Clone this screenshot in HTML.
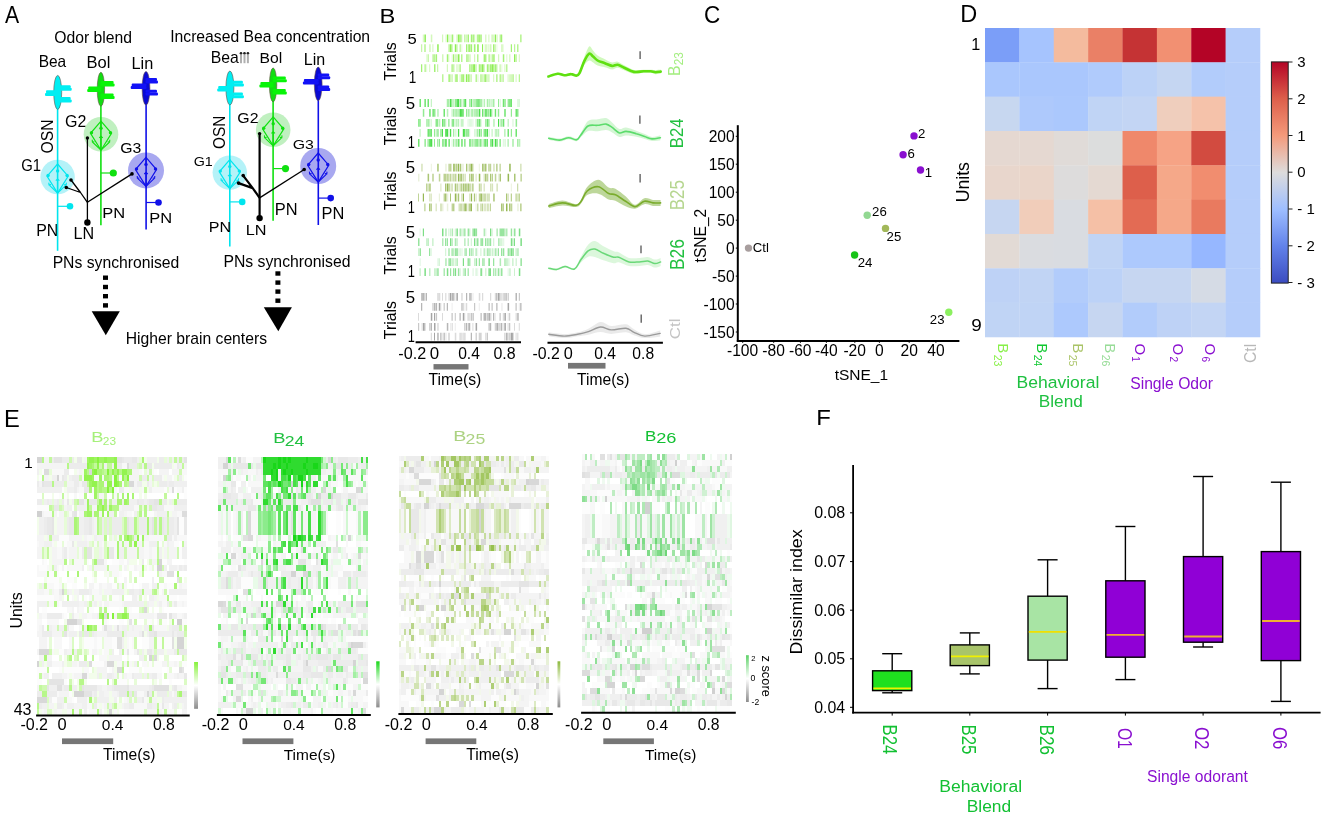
<!DOCTYPE html>
<html><head><meta charset="utf-8"><style>
html,body{margin:0;padding:0;background:#fff;width:1325px;height:820px;overflow:hidden}
svg{display:block;font-family:"Liberation Sans",sans-serif;will-change:transform}
</style></head><body>
<svg width="1325" height="820" viewBox="0 0 1325 820">
<rect width="1325" height="820" fill="#fff"/>
<text x="5.10" y="22.90" font-size="23.33" fill="#000" textLength="14.14" lengthAdjust="spacingAndGlyphs">A</text><text x="54.29" y="43.12" font-size="15.72" fill="#000">Odor blend</text><text x="38.66" y="66.84" font-size="15.86" fill="#000" textLength="27.53" lengthAdjust="spacingAndGlyphs">Bea</text><text x="86.48" y="67.94" font-size="15.65" fill="#000" textLength="23.90" lengthAdjust="spacingAndGlyphs">Bol</text><text x="131.50" y="69.20" font-size="16.14" fill="#000" textLength="21.76" lengthAdjust="spacingAndGlyphs">Lin</text><text transform="translate(53.33,153.51) rotate(-90)" font-size="17.32" fill="#000" textLength="34.10" lengthAdjust="spacingAndGlyphs">OSN</text><text x="65.00" y="126.84" font-size="16.34" fill="#000" textLength="21.39" lengthAdjust="spacingAndGlyphs">G2</text><text x="120.21" y="153.36" font-size="13.80" fill="#000" textLength="21.11" lengthAdjust="spacingAndGlyphs">G3</text><text x="21.26" y="170.54" font-size="15.63" fill="#000" textLength="19.79" lengthAdjust="spacingAndGlyphs">G1</text><text x="102.38" y="218.40" font-size="15.22" fill="#000" textLength="22.91" lengthAdjust="spacingAndGlyphs">PN</text><text x="149.28" y="223.00" font-size="15.51" fill="#000" textLength="22.91" lengthAdjust="spacingAndGlyphs">PN</text><text x="36.13" y="236.10" font-size="16.09" fill="#000" textLength="22.11" lengthAdjust="spacingAndGlyphs">PN</text><text x="73.61" y="239.30" font-size="16.52" fill="#000" textLength="20.64" lengthAdjust="spacingAndGlyphs">LN</text><text x="52.64" y="268.30" font-size="15.72" fill="#000">PNs synchronised</text><text x="125.74" y="344.30" font-size="15.69" fill="#000">Higher brain centers</text><circle cx="57.6" cy="177.0" r="17.2" fill="#b4f2f8"/><path d="M57.6,164.0 L47.1,176.2 L57.6,193.0 L68.1,176.2 Z" fill="none" stroke="#00e5ee" stroke-width="1.2"/><path d="M57.6,164.0 L57.6,171.0" stroke="#00e5ee" stroke-width="1.2"/><circle cx="57.6" cy="171.0" r="1.7" fill="#00e5ee"/><circle cx="48.1" cy="175.5" r="1.7" fill="#00e5ee"/><circle cx="67.1" cy="175.5" r="1.7" fill="#00e5ee"/><path d="M57.6,193.0 L57.6,179.0 M57.6,193.0 L49.0,184.8 M57.6,193.0 L66.2,184.8 M55.800000000000004,180.6 L57.6,179.0 L59.4,180.6 M48.8,182.6 L49.0,184.8 L51.0,184.6 M66.4,182.6 L66.2,184.8 L64.2,184.6" fill="none" stroke="#00e5ee" stroke-width="1.1"/><circle cx="101.0" cy="134.2" r="17.3" fill="#c0f0c0"/><path d="M101.0,121.19999999999999 L90.5,133.39999999999998 L101.0,150.2 L111.5,133.39999999999998 Z" fill="none" stroke="#10e010" stroke-width="1.2"/><path d="M101.0,121.19999999999999 L101.0,128.2" stroke="#10e010" stroke-width="1.2"/><circle cx="101.0" cy="128.2" r="1.7" fill="#10e010"/><circle cx="91.5" cy="132.7" r="1.7" fill="#10e010"/><circle cx="110.5" cy="132.7" r="1.7" fill="#10e010"/><path d="M101.0,150.2 L101.0,136.2 M101.0,150.2 L92.4,142.0 M101.0,150.2 L109.6,142.0 M99.2,137.79999999999998 L101.0,136.2 L102.8,137.79999999999998 M92.2,139.79999999999998 L92.4,142.0 L94.4,141.79999999999998 M109.8,139.79999999999998 L109.6,142.0 L107.6,141.79999999999998" fill="none" stroke="#10e010" stroke-width="1.1"/><circle cx="146.0" cy="170.4" r="18.0" fill="#a8a8f0"/><path d="M146.0,157.4 L135.5,169.6 L146.0,186.4 L156.5,169.6 Z" fill="none" stroke="#1010e8" stroke-width="1.2"/><path d="M146.0,157.4 L146.0,164.4" stroke="#1010e8" stroke-width="1.2"/><circle cx="146.0" cy="164.4" r="1.7" fill="#1010e8"/><circle cx="136.5" cy="168.9" r="1.7" fill="#1010e8"/><circle cx="155.5" cy="168.9" r="1.7" fill="#1010e8"/><path d="M146.0,186.4 L146.0,172.4 M146.0,186.4 L137.4,178.20000000000002 M146.0,186.4 L154.6,178.20000000000002 M144.2,174.0 L146.0,172.4 L147.8,174.0 M137.2,176.0 L137.4,178.20000000000002 L139.4,178.0 M154.8,176.0 L154.6,178.20000000000002 L152.6,178.0" fill="none" stroke="#1010e8" stroke-width="1.1"/><line x1="57.6" y1="105" x2="57.6" y2="250.8" stroke="#00e5ee" stroke-width="1.6"/><line x1="100.9" y1="104" x2="100.9" y2="225.2" stroke="#10e010" stroke-width="1.6"/><line x1="146.1" y1="103" x2="146.1" y2="229.4" stroke="#1010e8" stroke-width="1.6"/><line x1="57.6" y1="206.3" x2="70" y2="206.3" stroke="#00e5ee" stroke-width="1.2"/><circle cx="70" cy="206.3" r="3.3" fill="#00e5ee"/><line x1="100.9" y1="173" x2="113.3" y2="173" stroke="#10e010" stroke-width="1.2"/><circle cx="113.3" cy="173" r="3.6" fill="#10e010"/><line x1="146.1" y1="202.5" x2="158.5" y2="202.5" stroke="#1010e8" stroke-width="1.2"/><circle cx="158.5" cy="202.5" r="3.3" fill="#1010e8"/><ellipse cx="57.7" cy="92.4" rx="4" ry="17" fill="#00eef2" stroke="#6a5048" stroke-width="0.6"/><rect x="57.2" y="85.2" width="13.5" height="3" rx="1" fill="#00eef2"/><rect x="57.2" y="87.8" width="14.5" height="3" rx="1" fill="#00eef2"/><rect x="46.0" y="90.3" width="12.2" height="3" rx="1" fill="#00eef2"/><rect x="45.0" y="92.9" width="13.2" height="3" rx="1" fill="#00eef2"/><rect x="57.2" y="97.0" width="13.5" height="3" rx="1" fill="#00eef2"/><rect x="57.2" y="99.6" width="14.5" height="3" rx="1" fill="#00eef2"/><ellipse cx="100.9" cy="89.3" rx="3.7" ry="17" fill="#12dc12" stroke="#6a5048" stroke-width="0.6"/><rect x="100.4" y="81.0" width="13.2" height="3" rx="1" fill="#08f408"/><rect x="100.4" y="83.6" width="14.2" height="3" rx="1" fill="#08f408"/><rect x="88.2" y="86.4" width="13.2" height="3" rx="1" fill="#08f408"/><rect x="87.2" y="89.0" width="14.2" height="3" rx="1" fill="#08f408"/><rect x="100.4" y="93.4" width="13.2" height="3" rx="1" fill="#08f408"/><rect x="100.4" y="96.0" width="14.2" height="3" rx="1" fill="#08f408"/><ellipse cx="146.0" cy="88.3" rx="3.9" ry="16.8" fill="#0a0ad2" stroke="#6a5048" stroke-width="0.6"/><rect x="145.5" y="78.0" width="11.5" height="3" rx="1" fill="#1212f6"/><rect x="145.5" y="80.6" width="12.5" height="3" rx="1" fill="#1212f6"/><rect x="131.7" y="83.4" width="14.8" height="3" rx="1" fill="#1212f6"/><rect x="130.7" y="86.0" width="15.8" height="3" rx="1" fill="#1212f6"/><rect x="145.5" y="89.8" width="11.5" height="3" rx="1" fill="#1212f6"/><rect x="145.5" y="92.4" width="12.5" height="3" rx="1" fill="#1212f6"/><line x1="87.4" y1="138" x2="87.4" y2="222.8" stroke="#000" stroke-width="1.3"/><circle cx="87.4" cy="138" r="1.7" fill="#000"/><circle cx="87.4" cy="222.5" r="3.2" fill="#000"/><path d="M87.4,202.3 L80.5,192.5 L71,180 M80.5,192.5 L66.3,187.5" fill="none" stroke="#000" stroke-width="1.3" stroke-linejoin="round"/><line x1="87.4" y1="202.3" x2="132" y2="173.9" stroke="#000" stroke-width="1.3"/><circle cx="71" cy="180" r="1.8" fill="#000"/><circle cx="66.3" cy="187.5" r="1.8" fill="#000"/><circle cx="132" cy="173.9" r="1.8" fill="#000"/><g transform="translate(172.2,-4.4)"><circle cx="57.6" cy="177.0" r="17.2" fill="#b4f2f8"/><path d="M57.6,164.0 L47.1,176.2 L57.6,193.0 L68.1,176.2 Z" fill="none" stroke="#00e5ee" stroke-width="1.2"/><path d="M57.6,164.0 L57.6,171.0" stroke="#00e5ee" stroke-width="1.2"/><circle cx="57.6" cy="171.0" r="1.7" fill="#00e5ee"/><circle cx="48.1" cy="175.5" r="1.7" fill="#00e5ee"/><circle cx="67.1" cy="175.5" r="1.7" fill="#00e5ee"/><path d="M57.6,193.0 L57.6,179.0 M57.6,193.0 L49.0,184.8 M57.6,193.0 L66.2,184.8 M55.800000000000004,180.6 L57.6,179.0 L59.4,180.6 M48.8,182.6 L49.0,184.8 L51.0,184.6 M66.4,182.6 L66.2,184.8 L64.2,184.6" fill="none" stroke="#00e5ee" stroke-width="1.1"/><circle cx="101.0" cy="134.2" r="17.3" fill="#c0f0c0"/><path d="M101.0,121.19999999999999 L90.5,133.39999999999998 L101.0,150.2 L111.5,133.39999999999998 Z" fill="none" stroke="#10e010" stroke-width="1.2"/><path d="M101.0,121.19999999999999 L101.0,128.2" stroke="#10e010" stroke-width="1.2"/><circle cx="101.0" cy="128.2" r="1.7" fill="#10e010"/><circle cx="91.5" cy="132.7" r="1.7" fill="#10e010"/><circle cx="110.5" cy="132.7" r="1.7" fill="#10e010"/><path d="M101.0,150.2 L101.0,136.2 M101.0,150.2 L92.4,142.0 M101.0,150.2 L109.6,142.0 M99.2,137.79999999999998 L101.0,136.2 L102.8,137.79999999999998 M92.2,139.79999999999998 L92.4,142.0 L94.4,141.79999999999998 M109.8,139.79999999999998 L109.6,142.0 L107.6,141.79999999999998" fill="none" stroke="#10e010" stroke-width="1.1"/><circle cx="146.0" cy="170.4" r="18.0" fill="#a8a8f0"/><path d="M146.0,157.4 L135.5,169.6 L146.0,186.4 L156.5,169.6 Z" fill="none" stroke="#1010e8" stroke-width="1.2"/><path d="M146.0,157.4 L146.0,164.4" stroke="#1010e8" stroke-width="1.2"/><circle cx="146.0" cy="164.4" r="1.7" fill="#1010e8"/><circle cx="136.5" cy="168.9" r="1.7" fill="#1010e8"/><circle cx="155.5" cy="168.9" r="1.7" fill="#1010e8"/><path d="M146.0,186.4 L146.0,172.4 M146.0,186.4 L137.4,178.20000000000002 M146.0,186.4 L154.6,178.20000000000002 M144.2,174.0 L146.0,172.4 L147.8,174.0 M137.2,176.0 L137.4,178.20000000000002 L139.4,178.0 M154.8,176.0 L154.6,178.20000000000002 L152.6,178.0" fill="none" stroke="#1010e8" stroke-width="1.1"/><line x1="57.6" y1="105" x2="57.6" y2="250.8" stroke="#00e5ee" stroke-width="1.6"/><line x1="100.9" y1="104" x2="100.9" y2="225.2" stroke="#10e010" stroke-width="1.6"/><line x1="146.1" y1="103" x2="146.1" y2="229.4" stroke="#1010e8" stroke-width="1.6"/><line x1="57.6" y1="206.3" x2="70" y2="206.3" stroke="#00e5ee" stroke-width="1.2"/><circle cx="70" cy="206.3" r="3.3" fill="#00e5ee"/><line x1="100.9" y1="173" x2="113.3" y2="173" stroke="#10e010" stroke-width="1.2"/><circle cx="113.3" cy="173" r="3.6" fill="#10e010"/><line x1="146.1" y1="202.5" x2="158.5" y2="202.5" stroke="#1010e8" stroke-width="1.2"/><circle cx="158.5" cy="202.5" r="3.3" fill="#1010e8"/><ellipse cx="57.7" cy="92.4" rx="4" ry="17" fill="#00eef2" stroke="#6a5048" stroke-width="0.6"/><rect x="57.2" y="85.2" width="13.5" height="3" rx="1" fill="#00eef2"/><rect x="57.2" y="87.8" width="14.5" height="3" rx="1" fill="#00eef2"/><rect x="46.0" y="90.3" width="12.2" height="3" rx="1" fill="#00eef2"/><rect x="45.0" y="92.9" width="13.2" height="3" rx="1" fill="#00eef2"/><rect x="57.2" y="97.0" width="13.5" height="3" rx="1" fill="#00eef2"/><rect x="57.2" y="99.6" width="14.5" height="3" rx="1" fill="#00eef2"/><ellipse cx="100.9" cy="89.3" rx="3.7" ry="17" fill="#12dc12" stroke="#6a5048" stroke-width="0.6"/><rect x="100.4" y="81.0" width="13.2" height="3" rx="1" fill="#08f408"/><rect x="100.4" y="83.6" width="14.2" height="3" rx="1" fill="#08f408"/><rect x="88.2" y="86.4" width="13.2" height="3" rx="1" fill="#08f408"/><rect x="87.2" y="89.0" width="14.2" height="3" rx="1" fill="#08f408"/><rect x="100.4" y="93.4" width="13.2" height="3" rx="1" fill="#08f408"/><rect x="100.4" y="96.0" width="14.2" height="3" rx="1" fill="#08f408"/><ellipse cx="146.0" cy="88.3" rx="3.9" ry="16.8" fill="#0a0ad2" stroke="#6a5048" stroke-width="0.6"/><rect x="145.5" y="78.0" width="11.5" height="3" rx="1" fill="#1212f6"/><rect x="145.5" y="80.6" width="12.5" height="3" rx="1" fill="#1212f6"/><rect x="131.7" y="83.4" width="14.8" height="3" rx="1" fill="#1212f6"/><rect x="130.7" y="86.0" width="15.8" height="3" rx="1" fill="#1212f6"/><rect x="145.5" y="89.8" width="11.5" height="3" rx="1" fill="#1212f6"/><rect x="145.5" y="92.4" width="12.5" height="3" rx="1" fill="#1212f6"/><line x1="87.4" y1="138" x2="87.4" y2="222.8" stroke="#000" stroke-width="2.2"/><circle cx="87.4" cy="138" r="1.7" fill="#000"/><circle cx="87.4" cy="222.5" r="3.2" fill="#000"/><path d="M87.4,202.3 L80.5,192.5 L71,180 M80.5,192.5 L66.3,187.5" fill="none" stroke="#000" stroke-width="2.2" stroke-linejoin="round"/><line x1="87.4" y1="202.3" x2="132" y2="173.9" stroke="#000" stroke-width="1.3"/><circle cx="71" cy="180" r="1.8" fill="#000"/><circle cx="66.3" cy="187.5" r="1.8" fill="#000"/><circle cx="132" cy="173.9" r="1.8" fill="#000"/></g><text x="170.19" y="41.60" font-size="15.71" fill="#000">Increased Bea concentration</text><text x="210.84" y="63.04" font-size="16.14" fill="#000" textLength="28.05" lengthAdjust="spacingAndGlyphs">Bea</text><line x1="241.0" y1="63.2" x2="241.0" y2="54.5" stroke="#b0b0b0" stroke-width="2"/><circle cx="241.0" cy="53.3" r="1.3" fill="#222"/><line x1="244.5" y1="63.2" x2="244.5" y2="54.5" stroke="#b0b0b0" stroke-width="2"/><circle cx="244.5" cy="53.3" r="1.3" fill="#222"/><line x1="247.9" y1="63.2" x2="247.9" y2="54.5" stroke="#b0b0b0" stroke-width="2"/><circle cx="247.9" cy="53.3" r="1.3" fill="#222"/><text x="259.44" y="63.45" font-size="14.56" fill="#000" textLength="22.68" lengthAdjust="spacingAndGlyphs">Bol</text><text x="303.82" y="65.10" font-size="15.59" fill="#000" textLength="21.42" lengthAdjust="spacingAndGlyphs">Lin</text><text transform="translate(225.14,148.89) rotate(-90)" font-size="15.92" fill="#000" textLength="33.36" lengthAdjust="spacingAndGlyphs">OSN</text><text x="237.31" y="123.05" font-size="14.51" fill="#000" textLength="21.17" lengthAdjust="spacingAndGlyphs">G2</text><text x="292.71" y="149.07" font-size="13.24" fill="#000" textLength="21.11" lengthAdjust="spacingAndGlyphs">G3</text><text x="193.69" y="165.68" font-size="12.39" fill="#000" textLength="19.04" lengthAdjust="spacingAndGlyphs">G1</text><text x="274.79" y="214.80" font-size="15.94" fill="#000" textLength="22.79" lengthAdjust="spacingAndGlyphs">PN</text><text x="208.71" y="231.80" font-size="15.22" fill="#000" textLength="22.34" lengthAdjust="spacingAndGlyphs">PN</text><text x="245.70" y="234.90" font-size="15.51" fill="#000" textLength="20.75" lengthAdjust="spacingAndGlyphs">LN</text><text x="321.49" y="219.30" font-size="15.80" fill="#000" textLength="22.79" lengthAdjust="spacingAndGlyphs">PN</text><text x="223.44" y="266.50" font-size="15.77" fill="#000">PNs synchronised</text><rect x="103" y="275.5" width="5" height="4.4" fill="#000"/><rect x="103" y="284.8" width="5" height="4.4" fill="#000"/><rect x="103" y="294.0" width="5" height="4.4" fill="#000"/><rect x="103" y="303.2" width="5" height="4.4" fill="#000"/><path d="M91.7,311.2 L119.8,311.2 L105.8,335.3 Z" fill="#000"/><rect x="275.4" y="271.3" width="5" height="4.4" fill="#000"/><rect x="275.4" y="280.4" width="5" height="4.4" fill="#000"/><rect x="275.4" y="289.4" width="5" height="4.4" fill="#000"/><rect x="275.4" y="298.5" width="5" height="4.4" fill="#000"/><path d="M263.8,307.2 L291.9,307.2 L278.3,331.3 Z" fill="#000"/>
<text x="379.60" y="23.00" font-size="20.29" fill="#000" textLength="15.83" lengthAdjust="spacingAndGlyphs">B</text><path fill="rgb(120,235,50)" fill-opacity="0.33" d="M422.8 34.4h1.0v7.8h-1.0zM430.8 34.4h1.5v7.8h-1.5zM442.0 34.4h1.2v7.8h-1.2zM456.4 34.4h1.5v7.8h-1.5zM466.0 34.4h1.0v7.8h-1.0zM474.0 34.4h1.0v7.8h-1.0zM485.2 34.4h1.2v7.8h-1.2zM488.4 34.4h1.0v7.8h-1.0zM493.2 34.4h1.2v7.8h-1.2zM496.4 34.4h1.2v7.8h-1.2zM429.2 44.3h1.5v7.8h-1.5zM432.4 44.3h1.0v7.8h-1.0zM485.2 44.3h1.5v7.8h-1.5zM488.4 44.3h1.0v7.8h-1.0zM490.0 44.3h1.5v7.8h-1.5zM494.8 44.3h1.2v7.8h-1.2zM501.2 44.3h1.5v7.8h-1.5zM442.0 54.3h1.5v7.8h-1.5zM454.8 54.3h1.5v7.8h-1.5zM456.4 54.3h1.5v7.8h-1.5zM469.2 54.3h1.5v7.8h-1.5zM474.0 54.3h1.2v7.8h-1.2zM498.0 54.3h1.2v7.8h-1.2zM509.2 54.3h1.2v7.8h-1.2zM518.8 54.3h1.0v7.8h-1.0zM429.2 64.2h1.0v7.8h-1.0zM446.8 64.2h1.2v7.8h-1.2zM456.4 64.2h1.2v7.8h-1.2zM504.4 64.2h1.0v7.8h-1.0zM450.0 74.2h1.2v7.8h-1.2zM459.6 74.2h1.0v7.8h-1.0zM464.4 74.2h1.0v7.8h-1.0zM470.8 74.2h1.2v7.8h-1.2zM482.0 74.2h1.2v7.8h-1.2zM486.8 74.2h1.0v7.8h-1.0zM493.2 74.2h1.0v7.8h-1.0zM501.2 74.2h1.5v7.8h-1.5zM507.6 74.2h1.0v7.8h-1.0zM509.2 74.2h1.5v7.8h-1.5zM510.8 74.2h1.5v7.8h-1.5zM515.6 74.2h1.0v7.8h-1.0z"/><path fill="rgb(120,235,50)" fill-opacity="0.83" d="M424.4 34.4h1.5v7.8h-1.5zM446.8 34.4h1.2v7.8h-1.2zM458.0 34.4h1.5v7.8h-1.5zM467.6 34.4h1.2v7.8h-1.2zM478.8 34.4h1.0v7.8h-1.0zM480.4 34.4h1.2v7.8h-1.2zM494.8 34.4h1.2v7.8h-1.2zM501.2 34.4h1.0v7.8h-1.0zM520.4 34.4h1.0v7.8h-1.0zM437.2 44.3h1.5v7.8h-1.5zM450.0 44.3h1.5v7.8h-1.5zM454.8 44.3h1.2v7.8h-1.2zM469.2 44.3h1.2v7.8h-1.2zM477.2 44.3h1.5v7.8h-1.5zM482.0 44.3h1.0v7.8h-1.0zM493.2 44.3h1.2v7.8h-1.2zM453.2 54.3h1.0v7.8h-1.0zM458.0 54.3h1.5v7.8h-1.5zM514.0 54.3h1.2v7.8h-1.2zM421.2 64.2h1.0v7.8h-1.0zM451.6 64.2h1.0v7.8h-1.0zM459.6 64.2h1.0v7.8h-1.0zM472.4 64.2h1.5v7.8h-1.5zM474.0 64.2h1.2v7.8h-1.2zM478.8 64.2h1.0v7.8h-1.0zM480.4 64.2h1.2v7.8h-1.2zM482.0 64.2h1.5v7.8h-1.5zM491.6 64.2h1.5v7.8h-1.5zM456.4 74.2h1.2v7.8h-1.2zM462.8 74.2h1.0v7.8h-1.0zM466.0 74.2h1.2v7.8h-1.2zM485.2 74.2h1.2v7.8h-1.2zM496.4 74.2h1.0v7.8h-1.0z"/><path fill="rgb(120,235,50)" fill-opacity="0.17" d="M445.2 34.4h1.0v7.8h-1.0zM450.0 34.4h1.2v7.8h-1.2zM453.2 34.4h1.0v7.8h-1.0zM475.6 34.4h1.2v7.8h-1.2zM461.2 44.3h1.2v7.8h-1.2zM472.4 44.3h1.2v7.8h-1.2zM483.6 44.3h1.0v7.8h-1.0zM486.8 44.3h1.0v7.8h-1.0zM496.4 44.3h1.0v7.8h-1.0zM502.8 44.3h1.0v7.8h-1.0zM426.0 54.3h1.2v7.8h-1.2zM448.4 54.3h1.2v7.8h-1.2zM451.6 54.3h1.5v7.8h-1.5zM490.0 54.3h1.2v7.8h-1.2zM506.0 54.3h1.5v7.8h-1.5zM426.0 64.2h1.2v7.8h-1.2zM458.0 64.2h1.2v7.8h-1.2zM501.2 64.2h1.2v7.8h-1.2zM477.2 74.2h1.5v7.8h-1.5z"/><path fill="rgb(120,235,50)" fill-opacity="0.50" d="M448.4 34.4h1.0v7.8h-1.0zM461.2 34.4h1.0v7.8h-1.0zM491.6 34.4h1.0v7.8h-1.0zM499.6 34.4h1.5v7.8h-1.5zM421.2 44.3h1.0v7.8h-1.0zM448.4 44.3h1.5v7.8h-1.5zM451.6 44.3h1.0v7.8h-1.0zM459.6 44.3h1.2v7.8h-1.2zM514.0 44.3h1.2v7.8h-1.2zM427.6 54.3h1.2v7.8h-1.2zM432.4 54.3h1.5v7.8h-1.5zM434.0 54.3h1.2v7.8h-1.2zM466.0 54.3h1.5v7.8h-1.5zM488.4 54.3h1.5v7.8h-1.5zM491.6 54.3h1.5v7.8h-1.5zM424.4 64.2h1.5v7.8h-1.5zM437.2 64.2h1.0v7.8h-1.0zM453.2 64.2h1.2v7.8h-1.2zM475.6 64.2h1.0v7.8h-1.0zM483.6 64.2h1.0v7.8h-1.0zM488.4 64.2h1.2v7.8h-1.2zM496.4 64.2h1.0v7.8h-1.0zM499.6 64.2h1.0v7.8h-1.0zM506.0 64.2h1.5v7.8h-1.5zM442.0 74.2h1.5v7.8h-1.5zM451.6 74.2h1.0v7.8h-1.0zM454.8 74.2h1.5v7.8h-1.5zM469.2 74.2h1.2v7.8h-1.2zM483.6 74.2h1.5v7.8h-1.5zM488.4 74.2h1.0v7.8h-1.0zM502.8 74.2h1.0v7.8h-1.0zM512.4 74.2h1.5v7.8h-1.5z"/><path fill="rgb(120,235,50)" fill-opacity="0.67" d="M451.6 34.4h1.5v7.8h-1.5zM459.6 34.4h1.2v7.8h-1.2zM464.4 34.4h1.0v7.8h-1.0zM470.8 34.4h1.2v7.8h-1.2zM472.4 34.4h1.5v7.8h-1.5zM477.2 34.4h1.5v7.8h-1.5zM424.4 44.3h1.2v7.8h-1.2zM456.4 44.3h1.0v7.8h-1.0zM466.0 44.3h1.0v7.8h-1.0zM467.6 44.3h1.2v7.8h-1.2zM470.8 44.3h1.2v7.8h-1.2zM474.0 44.3h1.5v7.8h-1.5zM510.8 44.3h1.2v7.8h-1.2zM517.2 44.3h1.2v7.8h-1.2zM435.6 54.3h1.5v7.8h-1.5zM446.8 54.3h1.5v7.8h-1.5zM461.2 54.3h1.2v7.8h-1.2zM467.6 54.3h1.0v7.8h-1.0zM477.2 54.3h1.2v7.8h-1.2zM483.6 54.3h1.5v7.8h-1.5zM485.2 54.3h1.2v7.8h-1.2zM493.2 54.3h1.5v7.8h-1.5zM502.8 54.3h1.5v7.8h-1.5zM515.6 54.3h1.0v7.8h-1.0zM434.0 64.2h1.5v7.8h-1.5zM469.2 64.2h1.2v7.8h-1.2zM470.8 64.2h1.0v7.8h-1.0zM486.8 64.2h1.5v7.8h-1.5zM490.0 64.2h1.5v7.8h-1.5zM493.2 64.2h1.2v7.8h-1.2zM494.8 64.2h1.5v7.8h-1.5zM448.4 74.2h1.5v7.8h-1.5zM461.2 74.2h1.5v7.8h-1.5zM467.6 74.2h1.5v7.8h-1.5zM475.6 74.2h1.2v7.8h-1.2zM480.4 74.2h1.2v7.8h-1.2zM499.6 74.2h1.2v7.8h-1.2zM518.8 74.2h1.0v7.8h-1.0z"/><text transform="translate(395.84,80.62) rotate(-90)" font-size="15.91" fill="#000">Trials</text><text x="407.63" y="43.95" font-size="15.43" fill="#000" textLength="9.25" lengthAdjust="spacingAndGlyphs">5</text><text x="408.78" y="83.30" font-size="15.94" fill="#000" textLength="7.54" lengthAdjust="spacingAndGlyphs">1</text><path d="M548.4,75.5 C550.0,75.0 555.1,72.9 557.8,72.7 C560.5,72.5 562.2,74.2 564.4,74.3 C566.6,74.4 569.1,73.0 571.1,73.1 C573.1,73.1 575.1,74.8 576.5,74.6 C577.9,74.3 578.2,74.5 579.5,71.6 C580.8,68.7 582.7,61.3 584.3,57.1 C585.9,52.9 587.8,47.8 589.2,46.6 C590.6,45.5 591.4,48.7 592.8,50.2 C594.2,51.7 595.6,54.0 597.6,55.5 C599.6,57.0 602.5,58.1 604.9,59.2 C607.3,60.4 610.0,62.0 612.1,62.4 C614.2,62.8 615.6,61.2 617.6,61.7 C619.6,62.2 621.5,63.8 624.2,65.2 C626.9,66.6 630.7,69.1 633.9,69.9 C637.1,70.7 640.7,69.8 643.5,69.8 C646.3,69.8 648.8,69.7 650.8,69.8 C652.8,69.9 654.0,70.2 655.6,70.2 C657.2,70.2 659.9,69.7 660.7,69.6 L660.7,73.6 C659.9,73.7 657.2,74.3 655.6,74.2 C654.0,74.1 652.8,73.0 650.8,72.8 C648.8,72.6 646.3,72.6 643.5,72.8 C640.7,73.0 637.1,74.3 633.9,73.9 C630.7,73.5 626.9,71.2 624.2,70.2 C621.5,69.2 619.6,67.8 617.6,67.7 C615.6,67.6 614.2,69.5 612.1,69.4 C610.0,69.3 607.3,67.9 604.9,67.2 C602.5,66.5 599.6,66.3 597.6,65.5 C595.6,64.7 594.2,63.0 592.8,62.2 C591.4,61.4 590.6,60.1 589.2,60.6 C587.8,61.1 585.9,62.8 584.3,65.1 C582.7,67.4 580.8,72.7 579.5,74.6 C578.2,76.5 577.9,76.5 576.5,76.6 C575.1,76.7 573.1,75.1 571.1,75.1 C569.1,75.0 566.6,76.4 564.4,76.3 C562.2,76.2 560.5,74.5 557.8,74.7 C555.1,74.9 550.0,77.0 548.4,77.5 Z" fill="#c8f8b0" fill-opacity="0.85"/><path d="M548.4,76.5 C550.0,76.0 555.1,73.9 557.8,73.7 C560.5,73.5 562.2,75.2 564.4,75.3 C566.6,75.4 569.1,74.0 571.1,74.1 C573.1,74.1 575.1,75.8 576.5,75.6 C577.9,75.4 578.2,75.5 579.5,73.1 C580.8,70.7 582.7,64.3 584.3,61.1 C585.9,57.9 587.8,54.4 589.2,53.6 C590.6,52.8 591.4,55.1 592.8,56.2 C594.2,57.4 595.6,59.3 597.6,60.5 C599.6,61.7 602.5,62.3 604.9,63.2 C607.3,64.1 610.0,65.7 612.1,65.9 C614.2,66.2 615.6,64.4 617.6,64.7 C619.6,65.0 621.5,66.5 624.2,67.7 C626.9,68.9 630.7,71.3 633.9,71.9 C637.1,72.5 640.7,71.4 643.5,71.3 C646.3,71.2 648.8,71.1 650.8,71.3 C652.8,71.5 654.0,72.2 655.6,72.2 C657.2,72.2 659.9,71.7 660.7,71.6" fill="none" stroke="#5fe010" stroke-width="2.6" stroke-linecap="round"/><line x1="640.1" y1="51.2" x2="640.1" y2="58.9" stroke="#555" stroke-width="1.3"/><path fill="rgb(40,215,40)" fill-opacity="0.83" d="M419.6 99.1h1.2v7.8h-1.2zM427.6 99.1h1.2v7.8h-1.2zM450.0 99.1h1.5v7.8h-1.5zM456.4 99.1h1.5v7.8h-1.5zM458.0 99.1h1.0v7.8h-1.0zM464.4 99.1h1.5v7.8h-1.5zM470.8 99.1h1.0v7.8h-1.0zM502.8 99.1h1.0v7.8h-1.0zM510.8 99.1h1.0v7.8h-1.0zM443.6 109.0h1.2v7.8h-1.2zM459.6 109.0h1.5v7.8h-1.5zM461.2 109.0h1.5v7.8h-1.5zM478.8 109.0h1.5v7.8h-1.5zM485.2 109.0h1.5v7.8h-1.5zM488.4 109.0h1.0v7.8h-1.0zM490.0 109.0h1.5v7.8h-1.5zM494.8 109.0h1.0v7.8h-1.0zM504.4 109.0h1.2v7.8h-1.2zM515.6 109.0h1.2v7.8h-1.2zM443.6 119.0h1.0v7.8h-1.0zM486.8 119.0h1.0v7.8h-1.0zM498.0 119.0h1.0v7.8h-1.0zM427.6 128.9h1.2v7.8h-1.2zM430.8 128.9h1.0v7.8h-1.0zM442.0 128.9h1.0v7.8h-1.0zM445.2 128.9h1.5v7.8h-1.5zM446.8 128.9h1.2v7.8h-1.2zM450.0 128.9h1.2v7.8h-1.2zM458.0 128.9h1.2v7.8h-1.2zM462.8 128.9h1.5v7.8h-1.5zM464.4 128.9h1.0v7.8h-1.0zM485.2 128.9h1.2v7.8h-1.2zM486.8 128.9h1.2v7.8h-1.2zM507.6 128.9h1.2v7.8h-1.2zM515.6 128.9h1.2v7.8h-1.2zM429.2 138.9h1.5v7.8h-1.5zM430.8 138.9h1.5v7.8h-1.5zM445.2 138.9h1.5v7.8h-1.5zM464.4 138.9h1.0v7.8h-1.0zM475.6 138.9h1.0v7.8h-1.0zM480.4 138.9h1.0v7.8h-1.0zM485.2 138.9h1.2v7.8h-1.2zM491.6 138.9h1.5v7.8h-1.5zM494.8 138.9h1.5v7.8h-1.5zM499.6 138.9h1.0v7.8h-1.0z"/><path fill="rgb(40,215,40)" fill-opacity="0.67" d="M424.4 99.1h1.5v7.8h-1.5zM448.4 99.1h1.0v7.8h-1.0zM459.6 99.1h1.2v7.8h-1.2zM477.2 99.1h1.5v7.8h-1.5zM478.8 99.1h1.0v7.8h-1.0zM480.4 99.1h1.2v7.8h-1.2zM504.4 99.1h1.2v7.8h-1.2zM509.2 99.1h1.5v7.8h-1.5zM429.2 109.0h1.5v7.8h-1.5zM432.4 109.0h1.5v7.8h-1.5zM462.8 109.0h1.0v7.8h-1.0zM475.6 109.0h1.0v7.8h-1.0zM482.0 109.0h1.2v7.8h-1.2zM517.2 109.0h1.2v7.8h-1.2zM419.6 119.0h1.0v7.8h-1.0zM427.6 119.0h1.0v7.8h-1.0zM435.6 119.0h1.2v7.8h-1.2zM437.2 119.0h1.0v7.8h-1.0zM442.0 119.0h1.2v7.8h-1.2zM448.4 119.0h1.0v7.8h-1.0zM453.2 119.0h1.0v7.8h-1.0zM477.2 119.0h1.2v7.8h-1.2zM478.8 119.0h1.5v7.8h-1.5zM488.4 119.0h1.0v7.8h-1.0zM502.8 119.0h1.5v7.8h-1.5zM429.2 128.9h1.5v7.8h-1.5zM440.4 128.9h1.2v7.8h-1.2zM478.8 128.9h1.2v7.8h-1.2zM483.6 128.9h1.2v7.8h-1.2zM418.0 138.9h1.5v7.8h-1.5zM427.6 138.9h1.0v7.8h-1.0zM438.8 138.9h1.0v7.8h-1.0zM448.4 138.9h1.5v7.8h-1.5zM456.4 138.9h1.0v7.8h-1.0zM458.0 138.9h1.5v7.8h-1.5zM461.2 138.9h1.5v7.8h-1.5zM469.2 138.9h1.5v7.8h-1.5zM472.4 138.9h1.0v7.8h-1.0zM477.2 138.9h1.2v7.8h-1.2zM483.6 138.9h1.2v7.8h-1.2zM486.8 138.9h1.2v7.8h-1.2z"/><path fill="rgb(40,215,40)" fill-opacity="0.33" d="M430.8 99.1h1.0v7.8h-1.0zM451.6 99.1h1.2v7.8h-1.2zM453.2 99.1h1.0v7.8h-1.0zM461.2 99.1h1.0v7.8h-1.0zM462.8 99.1h1.5v7.8h-1.5zM472.4 99.1h1.5v7.8h-1.5zM474.0 99.1h1.5v7.8h-1.5zM483.6 99.1h1.5v7.8h-1.5zM488.4 99.1h1.5v7.8h-1.5zM491.6 99.1h1.0v7.8h-1.0zM437.2 109.0h1.5v7.8h-1.5zM446.8 109.0h1.5v7.8h-1.5zM451.6 109.0h1.0v7.8h-1.0zM454.8 109.0h1.5v7.8h-1.5zM458.0 109.0h1.5v7.8h-1.5zM469.2 109.0h1.0v7.8h-1.0zM470.8 109.0h1.5v7.8h-1.5zM474.0 109.0h1.2v7.8h-1.2zM426.0 119.0h1.2v7.8h-1.2zM429.2 119.0h1.0v7.8h-1.0zM438.8 119.0h1.5v7.8h-1.5zM445.2 119.0h1.0v7.8h-1.0zM458.0 119.0h1.0v7.8h-1.0zM461.2 119.0h1.5v7.8h-1.5zM475.6 119.0h1.0v7.8h-1.0zM480.4 119.0h1.0v7.8h-1.0zM493.2 119.0h1.5v7.8h-1.5zM499.6 119.0h1.2v7.8h-1.2zM507.6 119.0h1.2v7.8h-1.2zM419.6 128.9h1.0v7.8h-1.0zM435.6 128.9h1.2v7.8h-1.2zM448.4 128.9h1.0v7.8h-1.0zM475.6 128.9h1.0v7.8h-1.0zM491.6 128.9h1.0v7.8h-1.0zM494.8 128.9h1.0v7.8h-1.0zM498.0 128.9h1.2v7.8h-1.2zM454.8 138.9h1.0v7.8h-1.0zM470.8 138.9h1.0v7.8h-1.0zM474.0 138.9h1.5v7.8h-1.5zM478.8 138.9h1.5v7.8h-1.5zM518.8 138.9h1.5v7.8h-1.5z"/><path fill="rgb(40,215,40)" fill-opacity="0.50" d="M446.8 99.1h1.0v7.8h-1.0zM454.8 99.1h1.2v7.8h-1.2zM469.2 99.1h1.2v7.8h-1.2zM475.6 99.1h1.5v7.8h-1.5zM486.8 99.1h1.0v7.8h-1.0zM493.2 99.1h1.2v7.8h-1.2zM498.0 99.1h1.0v7.8h-1.0zM507.6 99.1h1.5v7.8h-1.5zM422.8 109.0h1.5v7.8h-1.5zM434.0 109.0h1.5v7.8h-1.5zM453.2 109.0h1.2v7.8h-1.2zM456.4 109.0h1.2v7.8h-1.2zM466.0 109.0h1.0v7.8h-1.0zM467.6 109.0h1.2v7.8h-1.2zM472.4 109.0h1.0v7.8h-1.0zM477.2 109.0h1.2v7.8h-1.2zM483.6 109.0h1.0v7.8h-1.0zM486.8 109.0h1.0v7.8h-1.0zM498.0 109.0h1.2v7.8h-1.2zM510.8 109.0h1.2v7.8h-1.2zM418.0 119.0h1.5v7.8h-1.5zM451.6 119.0h1.5v7.8h-1.5zM456.4 119.0h1.0v7.8h-1.0zM485.2 119.0h1.2v7.8h-1.2zM501.2 119.0h1.2v7.8h-1.2zM515.6 119.0h1.5v7.8h-1.5zM434.0 128.9h1.0v7.8h-1.0zM437.2 128.9h1.5v7.8h-1.5zM453.2 128.9h1.0v7.8h-1.0zM466.0 128.9h1.5v7.8h-1.5zM467.6 128.9h1.5v7.8h-1.5zM477.2 128.9h1.0v7.8h-1.0zM480.4 128.9h1.5v7.8h-1.5zM496.4 128.9h1.0v7.8h-1.0zM504.4 128.9h1.0v7.8h-1.0zM510.8 128.9h1.2v7.8h-1.2zM424.4 138.9h1.5v7.8h-1.5zM434.0 138.9h1.0v7.8h-1.0zM437.2 138.9h1.0v7.8h-1.0zM442.0 138.9h1.5v7.8h-1.5zM443.6 138.9h1.0v7.8h-1.0zM453.2 138.9h1.0v7.8h-1.0zM490.0 138.9h1.5v7.8h-1.5zM496.4 138.9h1.5v7.8h-1.5zM507.6 138.9h1.0v7.8h-1.0zM512.4 138.9h1.2v7.8h-1.2zM517.2 138.9h1.2v7.8h-1.2z"/><path fill="rgb(40,215,40)" fill-opacity="0.17" d="M466.0 99.1h1.0v7.8h-1.0zM482.0 99.1h1.0v7.8h-1.0zM490.0 99.1h1.5v7.8h-1.5zM499.6 99.1h1.2v7.8h-1.2zM517.2 99.1h1.5v7.8h-1.5zM518.8 99.1h1.2v7.8h-1.2zM491.6 109.0h1.5v7.8h-1.5zM496.4 109.0h1.2v7.8h-1.2zM430.8 119.0h1.2v7.8h-1.2zM454.8 119.0h1.2v7.8h-1.2zM459.6 119.0h1.0v7.8h-1.0zM462.8 119.0h1.2v7.8h-1.2zM467.6 119.0h1.0v7.8h-1.0zM469.2 119.0h1.5v7.8h-1.5zM470.8 119.0h1.0v7.8h-1.0zM472.4 119.0h1.0v7.8h-1.0zM512.4 119.0h1.2v7.8h-1.2zM454.8 128.9h1.2v7.8h-1.2zM456.4 128.9h1.0v7.8h-1.0zM469.2 128.9h1.0v7.8h-1.0zM474.0 128.9h1.0v7.8h-1.0zM488.4 128.9h1.5v7.8h-1.5zM451.6 138.9h1.0v7.8h-1.0zM482.0 138.9h1.0v7.8h-1.0zM493.2 138.9h1.0v7.8h-1.0zM502.8 138.9h1.0v7.8h-1.0zM504.4 138.9h1.5v7.8h-1.5z"/><text transform="translate(395.84,145.27) rotate(-90)" font-size="15.91" fill="#000">Trials</text><text x="405.73" y="108.69" font-size="15.86" fill="#000" textLength="9.37" lengthAdjust="spacingAndGlyphs">5</text><text x="407.83" y="147.85" font-size="15.94" fill="#000" textLength="7.16" lengthAdjust="spacingAndGlyphs">1</text><path d="M548.7,136.8 C550.5,137.1 556.3,138.7 559.6,138.6 C562.9,138.5 565.8,136.2 568.6,136.2 C571.4,136.1 574.5,138.8 576.5,138.3 C578.5,137.8 578.8,136.2 580.7,133.3 C582.6,130.4 585.2,123.3 588.0,121.0 C590.8,118.7 594.6,119.8 597.6,119.3 C600.6,118.8 603.7,117.6 606.1,118.1 C608.5,118.6 609.9,120.6 612.1,122.4 C614.3,124.2 617.1,128.1 619.4,128.9 C621.7,129.7 623.2,127.1 626.0,127.4 C628.8,127.7 633.2,129.6 636.3,130.7 C639.4,131.8 642.1,133.0 644.7,134.0 C647.3,135.0 649.4,136.7 652.0,136.9 C654.6,137.1 659.0,135.5 660.4,135.2 L660.4,140.2 C659.0,140.3 654.6,141.1 652.0,140.9 C649.4,140.7 647.3,139.7 644.7,139.0 C642.1,138.3 639.4,137.3 636.3,136.7 C633.2,136.1 628.8,135.4 626.0,135.4 C623.2,135.4 621.7,137.4 619.4,136.9 C617.1,136.4 614.3,133.5 612.1,132.4 C609.9,131.3 608.5,130.3 606.1,130.1 C603.7,129.9 600.6,131.2 597.6,131.3 C594.6,131.5 590.8,130.0 588.0,131.0 C585.2,132.0 582.6,135.6 580.7,137.3 C578.8,139.0 578.5,141.0 576.5,141.3 C574.5,141.6 571.4,139.1 568.6,139.2 C565.8,139.2 562.9,141.5 559.6,141.6 C556.3,141.7 550.5,140.1 548.7,139.8 Z" fill="#cdf5cd" fill-opacity="0.85"/><path d="M548.7,138.3 C550.5,138.6 556.3,140.2 559.6,140.1 C562.9,140.0 565.8,137.8 568.6,137.7 C571.4,137.6 574.5,140.2 576.5,139.8 C578.5,139.4 578.8,137.6 580.7,135.3 C582.6,133.0 585.2,127.7 588.0,126.0 C590.8,124.3 594.6,125.6 597.6,125.3 C600.6,125.0 603.7,123.8 606.1,124.1 C608.5,124.4 609.9,125.9 612.1,127.4 C614.3,128.9 617.1,132.2 619.4,132.9 C621.7,133.6 623.2,131.3 626.0,131.4 C628.8,131.5 633.2,132.8 636.3,133.7 C639.4,134.5 642.1,135.6 644.7,136.5 C647.3,137.4 649.4,138.7 652.0,138.9 C654.6,139.1 659.0,137.9 660.4,137.7" fill="none" stroke="#5cdc6c" stroke-width="1.6" stroke-linecap="round"/><line x1="639.9" y1="115.6" x2="639.9" y2="123.8" stroke="#555" stroke-width="1.3"/><path fill="rgb(130,170,50)" fill-opacity="0.33" d="M421.2 163.7h1.5v7.8h-1.5zM454.8 163.7h1.5v7.8h-1.5zM467.6 163.7h1.0v7.8h-1.0zM493.2 163.7h1.5v7.8h-1.5zM451.6 173.7h1.2v7.8h-1.2zM464.4 173.7h1.5v7.8h-1.5zM475.6 173.7h1.0v7.8h-1.0zM483.6 173.7h1.2v7.8h-1.2zM440.4 183.6h1.0v7.8h-1.0zM459.6 183.6h1.5v7.8h-1.5zM483.6 183.6h1.2v7.8h-1.2zM490.0 183.6h1.2v7.8h-1.2zM491.6 183.6h1.5v7.8h-1.5zM496.4 183.6h1.5v7.8h-1.5zM429.2 193.6h1.2v7.8h-1.2zM430.8 193.6h1.0v7.8h-1.0zM456.4 193.6h1.2v7.8h-1.2zM461.2 193.6h1.2v7.8h-1.2zM469.2 193.6h1.0v7.8h-1.0zM475.6 193.6h1.0v7.8h-1.0zM482.0 193.6h1.5v7.8h-1.5zM486.8 193.6h1.2v7.8h-1.2zM507.6 193.6h1.2v7.8h-1.2zM517.2 193.6h1.5v7.8h-1.5zM435.6 203.5h1.2v7.8h-1.2zM462.8 203.5h1.5v7.8h-1.5zM467.6 203.5h1.2v7.8h-1.2zM483.6 203.5h1.2v7.8h-1.2zM485.2 203.5h1.0v7.8h-1.0zM486.8 203.5h1.5v7.8h-1.5zM488.4 203.5h1.0v7.8h-1.0z"/><path fill="rgb(130,170,50)" fill-opacity="0.17" d="M430.8 163.7h1.0v7.8h-1.0zM445.2 163.7h1.5v7.8h-1.5zM461.2 163.7h1.5v7.8h-1.5zM462.8 163.7h1.0v7.8h-1.0zM478.8 163.7h1.0v7.8h-1.0zM418.0 173.7h1.5v7.8h-1.5zM456.4 173.7h1.0v7.8h-1.0zM498.0 173.7h1.0v7.8h-1.0zM450.0 183.6h1.5v7.8h-1.5zM458.0 183.6h1.5v7.8h-1.5zM470.8 183.6h1.2v7.8h-1.2zM510.8 183.6h1.0v7.8h-1.0zM438.8 193.6h1.2v7.8h-1.2zM446.8 193.6h1.5v7.8h-1.5zM472.4 193.6h1.2v7.8h-1.2zM442.0 203.5h1.5v7.8h-1.5zM446.8 203.5h1.5v7.8h-1.5zM458.0 203.5h1.5v7.8h-1.5zM475.6 203.5h1.0v7.8h-1.0zM517.2 203.5h1.5v7.8h-1.5z"/><path fill="rgb(130,170,50)" fill-opacity="0.67" d="M437.2 163.7h1.5v7.8h-1.5zM459.6 163.7h1.5v7.8h-1.5zM466.0 163.7h1.2v7.8h-1.2zM482.0 163.7h1.5v7.8h-1.5zM488.4 163.7h1.2v7.8h-1.2zM499.6 163.7h1.0v7.8h-1.0zM427.6 173.7h1.5v7.8h-1.5zM432.4 173.7h1.2v7.8h-1.2zM443.6 173.7h1.2v7.8h-1.2zM445.2 173.7h1.2v7.8h-1.2zM448.4 173.7h1.0v7.8h-1.0zM459.6 173.7h1.2v7.8h-1.2zM469.2 173.7h1.0v7.8h-1.0zM470.8 173.7h1.2v7.8h-1.2zM490.0 173.7h1.0v7.8h-1.0zM491.6 173.7h1.2v7.8h-1.2zM514.0 173.7h1.5v7.8h-1.5zM429.2 183.6h1.5v7.8h-1.5zM461.2 183.6h1.0v7.8h-1.0zM462.8 183.6h1.2v7.8h-1.2zM464.4 183.6h1.5v7.8h-1.5zM450.0 193.6h1.0v7.8h-1.0zM458.0 193.6h1.2v7.8h-1.2zM474.0 193.6h1.0v7.8h-1.0zM493.2 193.6h1.5v7.8h-1.5zM506.0 193.6h1.2v7.8h-1.2zM510.8 193.6h1.0v7.8h-1.0zM515.6 193.6h1.0v7.8h-1.0zM424.4 203.5h1.0v7.8h-1.0zM453.2 203.5h1.2v7.8h-1.2zM459.6 203.5h1.0v7.8h-1.0zM469.2 203.5h1.5v7.8h-1.5zM502.8 203.5h1.0v7.8h-1.0z"/><path fill="rgb(130,170,50)" fill-opacity="0.50" d="M448.4 163.7h1.5v7.8h-1.5zM450.0 163.7h1.5v7.8h-1.5zM469.2 163.7h1.5v7.8h-1.5zM472.4 163.7h1.0v7.8h-1.0zM483.6 163.7h1.2v7.8h-1.2zM490.0 163.7h1.2v7.8h-1.2zM520.4 163.7h1.0v7.8h-1.0zM438.8 173.7h1.5v7.8h-1.5zM446.8 173.7h1.2v7.8h-1.2zM450.0 173.7h1.2v7.8h-1.2zM453.2 173.7h1.2v7.8h-1.2zM454.8 173.7h1.5v7.8h-1.5zM462.8 173.7h1.0v7.8h-1.0zM486.8 173.7h1.5v7.8h-1.5zM494.8 173.7h1.5v7.8h-1.5zM520.4 173.7h1.5v7.8h-1.5zM426.0 183.6h1.2v7.8h-1.2zM427.6 183.6h1.0v7.8h-1.0zM448.4 183.6h1.5v7.8h-1.5zM451.6 183.6h1.0v7.8h-1.0zM456.4 183.6h1.5v7.8h-1.5zM466.0 183.6h1.2v7.8h-1.2zM469.2 183.6h1.5v7.8h-1.5zM478.8 183.6h1.2v7.8h-1.2zM480.4 183.6h1.2v7.8h-1.2zM517.2 183.6h1.0v7.8h-1.0zM418.0 193.6h1.0v7.8h-1.0zM443.6 193.6h1.5v7.8h-1.5zM478.8 193.6h1.5v7.8h-1.5zM483.6 193.6h1.2v7.8h-1.2zM485.2 193.6h1.0v7.8h-1.0zM488.4 193.6h1.2v7.8h-1.2zM518.8 193.6h1.2v7.8h-1.2zM430.8 203.5h1.2v7.8h-1.2zM440.4 203.5h1.2v7.8h-1.2zM451.6 203.5h1.5v7.8h-1.5zM461.2 203.5h1.2v7.8h-1.2zM466.0 203.5h1.0v7.8h-1.0zM477.2 203.5h1.2v7.8h-1.2zM480.4 203.5h1.2v7.8h-1.2zM482.0 203.5h1.0v7.8h-1.0zM490.0 203.5h1.0v7.8h-1.0zM510.8 203.5h1.5v7.8h-1.5z"/><path fill="rgb(130,170,50)" fill-opacity="0.83" d="M453.2 163.7h1.5v7.8h-1.5zM456.4 163.7h1.0v7.8h-1.0zM458.0 163.7h1.0v7.8h-1.0zM470.8 163.7h1.5v7.8h-1.5zM485.2 163.7h1.2v7.8h-1.2zM496.4 163.7h1.0v7.8h-1.0zM509.2 163.7h1.5v7.8h-1.5zM458.0 173.7h1.2v7.8h-1.2zM461.2 173.7h1.0v7.8h-1.0zM472.4 173.7h1.2v7.8h-1.2zM478.8 173.7h1.5v7.8h-1.5zM485.2 173.7h1.2v7.8h-1.2zM499.6 173.7h1.2v7.8h-1.2zM507.6 173.7h1.5v7.8h-1.5zM445.2 183.6h1.0v7.8h-1.0zM446.8 183.6h1.5v7.8h-1.5zM454.8 183.6h1.0v7.8h-1.0zM467.6 183.6h1.2v7.8h-1.2zM472.4 183.6h1.0v7.8h-1.0zM422.8 193.6h1.2v7.8h-1.2zM445.2 193.6h1.2v7.8h-1.2zM454.8 193.6h1.5v7.8h-1.5zM462.8 193.6h1.2v7.8h-1.2zM470.8 193.6h1.2v7.8h-1.2zM480.4 193.6h1.5v7.8h-1.5zM429.2 203.5h1.2v7.8h-1.2zM464.4 203.5h1.5v7.8h-1.5zM470.8 203.5h1.2v7.8h-1.2zM501.2 203.5h1.2v7.8h-1.2zM506.0 203.5h1.5v7.8h-1.5zM509.2 203.5h1.2v7.8h-1.2zM520.4 203.5h1.0v7.8h-1.0z"/><text transform="translate(395.84,209.92) rotate(-90)" font-size="15.91" fill="#000">Trials</text><text x="405.73" y="173.34" font-size="15.86" fill="#000" textLength="9.37" lengthAdjust="spacingAndGlyphs">5</text><text x="407.83" y="212.50" font-size="15.94" fill="#000" textLength="7.16" lengthAdjust="spacingAndGlyphs">1</text><path d="M548.8,204.0 C551.1,203.4 557.8,200.4 562.4,200.4 C567.0,200.4 573.0,204.2 576.1,204.0 C579.2,203.8 579.4,202.0 581.2,199.2 C583.1,196.4 584.4,190.2 587.2,187.0 C590.1,183.8 594.7,179.6 598.3,179.7 C601.9,179.8 605.8,186.0 608.6,187.5 C611.5,189.0 612.6,187.2 615.4,188.7 C618.2,190.1 622.3,193.5 625.6,196.2 C628.9,198.9 631.9,204.4 635.0,204.7 C638.1,205.0 641.4,199.0 644.4,198.2 C647.4,197.4 650.3,199.6 653.0,199.9 C655.7,200.2 659.3,199.9 660.6,199.9 L660.6,205.9 C659.3,205.9 655.7,206.2 653.0,205.9 C650.3,205.6 647.4,203.7 644.4,204.2 C641.4,204.7 638.1,208.4 635.0,208.7 C631.9,209.0 628.9,207.5 625.6,206.2 C622.3,204.9 618.2,201.8 615.4,200.7 C612.6,199.6 611.5,200.7 608.6,199.5 C605.8,198.3 601.9,194.4 598.3,193.7 C594.7,192.9 590.1,193.4 587.2,195.0 C584.4,196.6 583.1,201.2 581.2,203.2 C579.4,205.2 579.2,206.6 576.1,207.0 C573.0,207.4 567.0,205.2 562.4,205.4 C557.8,205.6 551.1,207.6 548.8,208.0 Z" fill="#b2d088" fill-opacity="0.85"/><path d="M548.8,206.0 C551.1,205.5 557.8,203.0 562.4,202.9 C567.0,202.8 573.0,205.8 576.1,205.5 C579.2,205.2 579.4,203.6 581.2,201.2 C583.1,198.8 584.4,193.4 587.2,191.0 C590.1,188.6 594.7,186.3 598.3,186.7 C601.9,187.1 605.8,192.2 608.6,193.5 C611.5,194.8 612.6,193.4 615.4,194.7 C618.2,196.0 622.3,199.2 625.6,201.2 C628.9,203.2 631.9,206.7 635.0,206.7 C638.1,206.7 641.4,201.8 644.4,201.2 C647.4,200.6 650.3,202.6 653.0,202.9 C655.7,203.2 659.3,202.9 660.6,202.9" fill="none" stroke="#7aac2c" stroke-width="1.6" stroke-linecap="round"/><line x1="640.1" y1="173.9" x2="640.1" y2="182.4" stroke="#555" stroke-width="1.3"/><path fill="rgb(100,215,110)" fill-opacity="0.17" d="M419.6 228.4h1.0v7.8h-1.0zM485.2 228.4h1.2v7.8h-1.2zM512.4 228.4h1.5v7.8h-1.5zM502.8 238.3h1.5v7.8h-1.5zM430.8 248.3h1.2v7.8h-1.2zM458.0 248.3h1.2v7.8h-1.2zM461.2 248.3h1.5v7.8h-1.5zM477.2 248.3h1.0v7.8h-1.0zM485.2 248.3h1.0v7.8h-1.0zM493.2 248.3h1.2v7.8h-1.2zM419.6 258.2h1.2v7.8h-1.2zM437.2 258.2h1.5v7.8h-1.5zM509.2 258.2h1.0v7.8h-1.0zM456.4 268.2h1.0v7.8h-1.0zM472.4 268.2h1.5v7.8h-1.5zM477.2 268.2h1.0v7.8h-1.0zM482.0 268.2h1.0v7.8h-1.0zM507.6 268.2h1.2v7.8h-1.2z"/><path fill="rgb(100,215,110)" fill-opacity="0.83" d="M422.8 228.4h1.2v7.8h-1.2zM442.0 228.4h1.5v7.8h-1.5zM456.4 228.4h1.5v7.8h-1.5zM464.4 228.4h1.0v7.8h-1.0zM474.0 228.4h1.5v7.8h-1.5zM490.0 228.4h1.2v7.8h-1.2zM499.6 228.4h1.2v7.8h-1.2zM501.2 228.4h1.5v7.8h-1.5zM510.8 228.4h1.0v7.8h-1.0zM518.8 228.4h1.5v7.8h-1.5zM445.2 238.3h1.0v7.8h-1.0zM450.0 238.3h1.2v7.8h-1.2zM474.0 238.3h1.2v7.8h-1.2zM477.2 238.3h1.2v7.8h-1.2zM485.2 238.3h1.0v7.8h-1.0zM510.8 238.3h1.2v7.8h-1.2zM514.0 238.3h1.0v7.8h-1.0zM520.4 238.3h1.5v7.8h-1.5zM419.6 248.3h1.2v7.8h-1.2zM429.2 248.3h1.0v7.8h-1.0zM451.6 248.3h1.0v7.8h-1.0zM469.2 248.3h1.0v7.8h-1.0zM501.2 248.3h1.0v7.8h-1.0zM510.8 248.3h1.5v7.8h-1.5zM462.8 258.2h1.2v7.8h-1.2zM467.6 258.2h1.2v7.8h-1.2zM478.8 258.2h1.0v7.8h-1.0zM488.4 258.2h1.5v7.8h-1.5zM493.2 258.2h1.0v7.8h-1.0zM424.4 268.2h1.5v7.8h-1.5zM446.8 268.2h1.5v7.8h-1.5zM453.2 268.2h1.0v7.8h-1.0zM454.8 268.2h1.2v7.8h-1.2zM480.4 268.2h1.5v7.8h-1.5zM488.4 268.2h1.5v7.8h-1.5zM490.0 268.2h1.0v7.8h-1.0zM501.2 268.2h1.2v7.8h-1.2zM518.8 268.2h1.5v7.8h-1.5z"/><path fill="rgb(100,215,110)" fill-opacity="0.50" d="M445.2 228.4h1.5v7.8h-1.5zM451.6 228.4h1.5v7.8h-1.5zM483.6 228.4h1.5v7.8h-1.5zM496.4 228.4h1.5v7.8h-1.5zM504.4 228.4h1.2v7.8h-1.2zM506.0 228.4h1.5v7.8h-1.5zM432.4 238.3h1.0v7.8h-1.0zM442.0 238.3h1.5v7.8h-1.5zM456.4 238.3h1.2v7.8h-1.2zM467.6 238.3h1.2v7.8h-1.2zM498.0 238.3h1.5v7.8h-1.5zM453.2 248.3h1.0v7.8h-1.0zM464.4 248.3h1.5v7.8h-1.5zM466.0 248.3h1.0v7.8h-1.0zM470.8 248.3h1.5v7.8h-1.5zM483.6 248.3h1.2v7.8h-1.2zM496.4 248.3h1.0v7.8h-1.0zM509.2 248.3h1.5v7.8h-1.5zM515.6 248.3h1.0v7.8h-1.0zM517.2 248.3h1.5v7.8h-1.5zM445.2 258.2h1.5v7.8h-1.5zM456.4 258.2h1.5v7.8h-1.5zM482.0 258.2h1.5v7.8h-1.5zM499.6 258.2h1.5v7.8h-1.5zM512.4 258.2h1.0v7.8h-1.0zM419.6 268.2h1.0v7.8h-1.0zM429.2 268.2h1.2v7.8h-1.2zM494.8 268.2h1.2v7.8h-1.2z"/><path fill="rgb(100,215,110)" fill-opacity="0.33" d="M448.4 228.4h1.0v7.8h-1.0zM450.0 228.4h1.0v7.8h-1.0zM454.8 228.4h1.0v7.8h-1.0zM461.2 228.4h1.2v7.8h-1.2zM462.8 228.4h1.5v7.8h-1.5zM469.2 228.4h1.2v7.8h-1.2zM491.6 228.4h1.0v7.8h-1.0zM426.0 238.3h1.2v7.8h-1.2zM470.8 238.3h1.0v7.8h-1.0zM475.6 238.3h1.5v7.8h-1.5zM493.2 238.3h1.0v7.8h-1.0zM499.6 238.3h1.2v7.8h-1.2zM501.2 238.3h1.2v7.8h-1.2zM418.0 248.3h1.0v7.8h-1.0zM445.2 248.3h1.0v7.8h-1.0zM459.6 248.3h1.0v7.8h-1.0zM472.4 248.3h1.5v7.8h-1.5zM480.4 248.3h1.0v7.8h-1.0zM490.0 248.3h1.0v7.8h-1.0zM491.6 248.3h1.5v7.8h-1.5zM438.8 258.2h1.0v7.8h-1.0zM451.6 258.2h1.5v7.8h-1.5zM453.2 258.2h1.0v7.8h-1.0zM454.8 258.2h1.0v7.8h-1.0zM474.0 258.2h1.0v7.8h-1.0zM506.0 258.2h1.5v7.8h-1.5zM507.6 258.2h1.0v7.8h-1.0zM515.6 258.2h1.2v7.8h-1.2zM434.0 268.2h1.5v7.8h-1.5zM435.6 268.2h1.5v7.8h-1.5zM459.6 268.2h1.0v7.8h-1.0zM462.8 268.2h1.2v7.8h-1.2zM475.6 268.2h1.0v7.8h-1.0zM485.2 268.2h1.2v7.8h-1.2zM496.4 268.2h1.2v7.8h-1.2zM499.6 268.2h1.0v7.8h-1.0zM509.2 268.2h1.5v7.8h-1.5zM514.0 268.2h1.0v7.8h-1.0z"/><path fill="rgb(100,215,110)" fill-opacity="0.67" d="M459.6 228.4h1.2v7.8h-1.2zM467.6 228.4h1.5v7.8h-1.5zM472.4 228.4h1.5v7.8h-1.5zM475.6 228.4h1.5v7.8h-1.5zM502.8 228.4h1.5v7.8h-1.5zM514.0 228.4h1.5v7.8h-1.5zM418.0 238.3h1.5v7.8h-1.5zM427.6 238.3h1.0v7.8h-1.0zM446.8 238.3h1.2v7.8h-1.2zM451.6 238.3h1.0v7.8h-1.0zM454.8 238.3h1.0v7.8h-1.0zM464.4 238.3h1.0v7.8h-1.0zM480.4 238.3h1.5v7.8h-1.5zM482.0 238.3h1.2v7.8h-1.2zM486.8 238.3h1.0v7.8h-1.0zM488.4 238.3h1.2v7.8h-1.2zM490.0 238.3h1.2v7.8h-1.2zM512.4 238.3h1.0v7.8h-1.0zM448.4 248.3h1.2v7.8h-1.2zM454.8 248.3h1.5v7.8h-1.5zM456.4 248.3h1.5v7.8h-1.5zM475.6 248.3h1.0v7.8h-1.0zM486.8 248.3h1.0v7.8h-1.0zM488.4 248.3h1.2v7.8h-1.2zM494.8 248.3h1.0v7.8h-1.0zM498.0 248.3h1.0v7.8h-1.0zM502.8 248.3h1.5v7.8h-1.5zM507.6 248.3h1.5v7.8h-1.5zM512.4 248.3h1.5v7.8h-1.5zM448.4 258.2h1.5v7.8h-1.5zM450.0 258.2h1.2v7.8h-1.2zM469.2 258.2h1.2v7.8h-1.2zM475.6 258.2h1.5v7.8h-1.5zM483.6 258.2h1.0v7.8h-1.0zM504.4 258.2h1.2v7.8h-1.2zM520.4 258.2h1.5v7.8h-1.5zM437.2 268.2h1.5v7.8h-1.5zM443.6 268.2h1.2v7.8h-1.2zM450.0 268.2h1.2v7.8h-1.2zM458.0 268.2h1.2v7.8h-1.2zM464.4 268.2h1.5v7.8h-1.5zM467.6 268.2h1.2v7.8h-1.2zM493.2 268.2h1.0v7.8h-1.0zM498.0 268.2h1.2v7.8h-1.2z"/><text transform="translate(395.84,274.57) rotate(-90)" font-size="15.91" fill="#000">Trials</text><text x="405.73" y="237.99" font-size="15.86" fill="#000" textLength="9.37" lengthAdjust="spacingAndGlyphs">5</text><text x="407.83" y="277.15" font-size="15.94" fill="#000" textLength="7.16" lengthAdjust="spacingAndGlyphs">1</text><path d="M548.8,267.2 C550.1,267.4 553.8,268.8 556.5,268.5 C559.2,268.2 562.0,265.7 565.0,265.6 C568.0,265.5 571.7,269.6 574.4,268.0 C577.1,266.4 578.9,260.2 581.2,256.3 C583.5,252.4 585.8,247.4 588.1,244.8 C590.4,242.2 592.4,240.8 594.9,241.0 C597.4,241.2 600.3,244.6 603.4,246.3 C606.5,248.0 611.1,250.2 613.7,251.2 C616.3,252.2 616.2,251.1 618.8,252.2 C621.3,253.3 625.6,256.9 629.0,257.9 C632.4,258.8 636.2,258.0 639.3,257.9 C642.4,257.8 645.2,256.7 647.8,257.0 C650.4,257.3 652.6,259.5 654.7,259.6 C656.8,259.8 659.6,258.2 660.6,257.9 L660.6,265.9 C659.6,266.2 656.8,267.8 654.7,267.6 C652.6,267.5 650.4,265.3 647.8,265.0 C645.2,264.7 642.4,265.8 639.3,265.9 C636.2,266.0 632.4,266.5 629.0,265.9 C625.6,265.3 621.3,262.6 618.8,262.2 C616.2,261.8 616.3,263.5 613.7,263.2 C611.1,262.9 606.5,261.3 603.4,260.3 C600.3,259.3 597.4,257.6 594.9,257.0 C592.4,256.4 590.4,255.9 588.1,256.8 C585.8,257.7 583.5,260.1 581.2,262.3 C578.9,264.5 577.1,269.1 574.4,270.0 C571.7,270.9 568.0,267.5 565.0,267.6 C562.0,267.7 559.2,270.2 556.5,270.5 C553.8,270.8 550.1,269.4 548.8,269.2 Z" fill="#d6f6d6" fill-opacity="0.85"/><path d="M548.8,268.2 C550.1,268.4 553.8,269.8 556.5,269.5 C559.2,269.2 562.0,266.7 565.0,266.6 C568.0,266.5 571.7,270.2 574.4,269.0 C577.1,267.8 578.9,262.3 581.2,259.3 C583.5,256.3 585.8,252.5 588.1,250.8 C590.4,249.1 592.4,248.6 594.9,249.0 C597.4,249.4 600.3,251.9 603.4,253.3 C606.5,254.7 611.1,256.6 613.7,257.2 C616.3,257.8 616.2,256.4 618.8,257.2 C621.3,258.0 625.6,261.1 629.0,261.9 C632.4,262.7 636.2,262.0 639.3,261.9 C642.4,261.8 645.2,260.7 647.8,261.0 C650.4,261.3 652.6,263.5 654.7,263.6 C656.8,263.8 659.6,262.2 660.6,261.9" fill="none" stroke="#6ad878" stroke-width="1.5" stroke-linecap="round"/><line x1="641.0" y1="245.6" x2="641.0" y2="253.3" stroke="#555" stroke-width="1.3"/><path fill="rgb(110,110,110)" fill-opacity="0.50" d="M421.2 293.0h1.5v7.8h-1.5zM422.8 293.0h1.2v7.8h-1.2zM424.4 293.0h1.0v7.8h-1.0zM426.0 293.0h1.0v7.8h-1.0zM451.6 293.0h1.5v7.8h-1.5zM453.2 293.0h1.2v7.8h-1.2zM466.0 293.0h1.2v7.8h-1.2zM469.2 293.0h1.5v7.8h-1.5zM504.4 293.0h1.2v7.8h-1.2zM434.0 302.9h1.2v7.8h-1.2zM435.6 302.9h1.5v7.8h-1.5zM491.6 302.9h1.0v7.8h-1.0zM515.6 302.9h1.0v7.8h-1.0zM451.6 312.9h1.0v7.8h-1.0zM470.8 312.9h1.0v7.8h-1.0zM499.6 312.9h1.0v7.8h-1.0zM517.2 312.9h1.5v7.8h-1.5zM424.4 322.9h1.0v7.8h-1.0zM446.8 322.9h1.5v7.8h-1.5zM464.4 322.9h1.0v7.8h-1.0zM466.0 322.9h1.0v7.8h-1.0zM490.0 322.9h1.2v7.8h-1.2zM509.2 322.9h1.0v7.8h-1.0zM437.2 332.8h1.5v7.8h-1.5zM443.6 332.8h1.2v7.8h-1.2zM480.4 332.8h1.0v7.8h-1.0zM506.0 332.8h1.5v7.8h-1.5z"/><path fill="rgb(110,110,110)" fill-opacity="0.25" d="M437.2 293.0h1.5v7.8h-1.5zM438.8 293.0h1.5v7.8h-1.5zM442.0 293.0h1.0v7.8h-1.0zM445.2 293.0h1.2v7.8h-1.2zM448.4 293.0h1.5v7.8h-1.5zM461.2 293.0h1.5v7.8h-1.5zM478.8 293.0h1.5v7.8h-1.5zM482.0 293.0h1.2v7.8h-1.2zM490.0 293.0h1.2v7.8h-1.2zM494.8 293.0h1.5v7.8h-1.5zM501.2 293.0h1.2v7.8h-1.2zM502.8 293.0h1.2v7.8h-1.2zM462.8 302.9h1.2v7.8h-1.2zM466.0 302.9h1.2v7.8h-1.2zM418.0 312.9h1.0v7.8h-1.0zM442.0 312.9h1.0v7.8h-1.0zM469.2 312.9h1.0v7.8h-1.0zM490.0 312.9h1.5v7.8h-1.5zM502.8 312.9h1.2v7.8h-1.2zM515.6 312.9h1.2v7.8h-1.2zM437.2 322.9h1.5v7.8h-1.5zM451.6 322.9h1.2v7.8h-1.2zM472.4 322.9h1.0v7.8h-1.0zM498.0 322.9h1.5v7.8h-1.5zM507.6 322.9h1.0v7.8h-1.0zM514.0 322.9h1.0v7.8h-1.0zM518.8 322.9h1.0v7.8h-1.0zM430.8 332.8h1.2v7.8h-1.2zM454.8 332.8h1.5v7.8h-1.5zM461.2 332.8h1.2v7.8h-1.2zM462.8 332.8h1.0v7.8h-1.0zM485.2 332.8h1.2v7.8h-1.2zM507.6 332.8h1.2v7.8h-1.2zM515.6 332.8h1.0v7.8h-1.0zM517.2 332.8h1.2v7.8h-1.2z"/><path fill="rgb(110,110,110)" fill-opacity="0.62" d="M450.0 293.0h1.2v7.8h-1.2zM456.4 293.0h1.5v7.8h-1.5zM496.4 293.0h1.0v7.8h-1.0zM498.0 293.0h1.5v7.8h-1.5zM515.6 293.0h1.2v7.8h-1.2zM421.2 302.9h1.0v7.8h-1.0zM438.8 302.9h1.5v7.8h-1.5zM446.8 302.9h1.0v7.8h-1.0zM496.4 302.9h1.0v7.8h-1.0zM507.6 302.9h1.5v7.8h-1.5zM520.4 302.9h1.0v7.8h-1.0zM430.8 312.9h1.5v7.8h-1.5zM434.0 312.9h1.0v7.8h-1.0zM459.6 312.9h1.0v7.8h-1.0zM462.8 312.9h1.5v7.8h-1.5zM483.6 312.9h1.2v7.8h-1.2zM485.2 312.9h1.0v7.8h-1.0zM488.4 312.9h1.5v7.8h-1.5zM493.2 312.9h1.0v7.8h-1.0zM504.4 312.9h1.5v7.8h-1.5zM422.8 322.9h1.5v7.8h-1.5zM430.8 322.9h1.0v7.8h-1.0zM434.0 322.9h1.5v7.8h-1.5zM469.2 322.9h1.0v7.8h-1.0zM475.6 322.9h1.5v7.8h-1.5zM496.4 322.9h1.5v7.8h-1.5zM501.2 322.9h1.0v7.8h-1.0zM504.4 322.9h1.5v7.8h-1.5zM434.0 332.8h1.0v7.8h-1.0zM440.4 332.8h1.0v7.8h-1.0zM470.8 332.8h1.0v7.8h-1.0zM510.8 332.8h1.5v7.8h-1.5zM512.4 332.8h1.0v7.8h-1.0z"/><path fill="rgb(110,110,110)" fill-opacity="0.12" d="M454.8 293.0h1.0v7.8h-1.0zM472.4 293.0h1.2v7.8h-1.2zM440.4 302.9h1.2v7.8h-1.2zM451.6 302.9h1.0v7.8h-1.0zM464.4 302.9h1.2v7.8h-1.2zM478.8 302.9h1.0v7.8h-1.0zM501.2 302.9h1.5v7.8h-1.5zM518.8 302.9h1.5v7.8h-1.5zM464.4 312.9h1.0v7.8h-1.0zM494.8 312.9h1.2v7.8h-1.2zM507.6 312.9h1.5v7.8h-1.5zM421.2 322.9h1.2v7.8h-1.2zM450.0 322.9h1.0v7.8h-1.0zM454.8 322.9h1.0v7.8h-1.0zM502.8 322.9h1.5v7.8h-1.5zM442.0 332.8h1.2v7.8h-1.2zM445.2 332.8h1.5v7.8h-1.5z"/><path fill="rgb(110,110,110)" fill-opacity="0.38" d="M470.8 293.0h1.0v7.8h-1.0zM499.6 293.0h1.0v7.8h-1.0zM506.0 293.0h1.0v7.8h-1.0zM507.6 293.0h1.2v7.8h-1.2zM518.8 293.0h1.2v7.8h-1.2zM432.4 302.9h1.2v7.8h-1.2zM443.6 302.9h1.2v7.8h-1.2zM461.2 302.9h1.5v7.8h-1.5zM474.0 302.9h1.2v7.8h-1.2zM488.4 302.9h1.5v7.8h-1.5zM435.6 312.9h1.5v7.8h-1.5zM454.8 312.9h1.0v7.8h-1.0zM467.6 312.9h1.0v7.8h-1.0zM472.4 312.9h1.5v7.8h-1.5zM480.4 312.9h1.5v7.8h-1.5zM486.8 312.9h1.2v7.8h-1.2zM509.2 312.9h1.0v7.8h-1.0zM418.0 322.9h1.2v7.8h-1.2zM429.2 322.9h1.2v7.8h-1.2zM467.6 322.9h1.5v7.8h-1.5zM488.4 322.9h1.5v7.8h-1.5zM494.8 322.9h1.0v7.8h-1.0zM499.6 322.9h1.0v7.8h-1.0zM448.4 332.8h1.2v7.8h-1.2zM459.6 332.8h1.0v7.8h-1.0zM464.4 332.8h1.0v7.8h-1.0zM475.6 332.8h1.2v7.8h-1.2zM478.8 332.8h1.0v7.8h-1.0zM486.8 332.8h1.2v7.8h-1.2zM504.4 332.8h1.0v7.8h-1.0zM509.2 332.8h1.2v7.8h-1.2z"/><text transform="translate(395.84,339.22) rotate(-90)" font-size="15.91" fill="#000">Trials</text><text x="405.73" y="302.64" font-size="15.86" fill="#000" textLength="9.37" lengthAdjust="spacingAndGlyphs">5</text><text x="407.83" y="341.80" font-size="15.94" fill="#000" textLength="7.16" lengthAdjust="spacingAndGlyphs">1</text><path d="M548.8,332.3 C551.4,332.6 559.5,334.1 564.3,334.1 C569.1,334.1 573.7,333.2 577.7,332.3 C581.7,331.4 584.6,330.4 588.4,328.7 C592.2,327.0 596.7,322.5 600.5,322.0 C604.3,321.5 607.0,325.5 611.2,325.9 C615.5,326.3 622.2,323.7 626.0,324.3 C629.8,324.9 630.9,327.7 634.0,329.3 C637.1,330.9 640.4,333.9 644.8,334.1 C649.2,334.3 657.6,331.0 660.2,330.4 L660.2,336.4 C657.6,336.7 649.2,338.3 644.8,338.1 C640.4,337.9 637.1,336.3 634.0,335.3 C630.9,334.3 629.8,332.5 626.0,332.3 C622.2,332.1 615.5,333.9 611.2,333.9 C607.0,333.8 604.3,331.9 600.5,332.0 C596.7,332.1 592.2,334.0 588.4,334.7 C584.6,335.4 581.7,335.7 577.7,336.3 C573.7,336.9 569.1,338.1 564.3,338.1 C559.5,338.1 551.4,336.6 548.8,336.3 Z" fill="#e6e6e6" fill-opacity="0.85"/><path d="M548.8,334.3 C551.4,334.6 559.5,336.1 564.3,336.1 C569.1,336.1 573.7,335.0 577.7,334.3 C581.7,333.6 584.6,332.9 588.4,331.7 C592.2,330.5 596.7,327.3 600.5,327.0 C604.3,326.7 607.0,329.7 611.2,329.9 C615.5,330.1 622.2,327.9 626.0,328.3 C629.8,328.7 630.9,331.0 634.0,332.3 C637.1,333.6 640.4,335.9 644.8,336.1 C649.2,336.3 657.6,333.8 660.2,333.4" fill="none" stroke="#9a9a9a" stroke-width="1.4" stroke-linecap="round"/><line x1="641.2" y1="314.6" x2="641.2" y2="322.7" stroke="#555" stroke-width="1.3"/><text transform="translate(679.80,75.94) rotate(-90)" font-size="15.80" fill="#a4ee80">B</text><text transform="translate(682.99,65.29) rotate(-90)" font-size="11.86" fill="#a4ee80">23</text><text transform="translate(682.80,148.13) rotate(-90)" font-size="19.00" fill="#22c040" textLength="29.62" lengthAdjust="spacingAndGlyphs">B24</text><text transform="translate(684.30,210.26) rotate(-90)" font-size="20.42" fill="#b6d690" textLength="30.23" lengthAdjust="spacingAndGlyphs">B25</text><text transform="translate(683.50,270.10) rotate(-90)" font-size="20.42" fill="#22c040" textLength="31.09" lengthAdjust="spacingAndGlyphs">B26</text><text transform="translate(679.56,339.25) rotate(-90)" font-size="13.74" fill="#c4c4c4" textLength="20.79" lengthAdjust="spacingAndGlyphs">Ctl</text><line x1="415.6" y1="342.3" x2="521" y2="342.3" stroke="#000" stroke-width="2"/><line x1="547.5" y1="342.7" x2="662.9" y2="342.7" stroke="#000" stroke-width="2"/><text x="398.27" y="358.60" font-size="16.18" fill="#000">-0.2</text><text x="429.82" y="358.60" font-size="16.88" fill="#000">0</text><text x="458.18" y="358.60" font-size="15.61" fill="#000">0.4</text><text x="493.46" y="358.60" font-size="15.95" fill="#000">0.8</text><text x="532.39" y="358.50" font-size="15.88" fill="#000">-0.2</text><text x="563.85" y="358.50" font-size="16.25" fill="#000">0</text><text x="594.28" y="358.50" font-size="15.61" fill="#000">0.4</text><text x="632.37" y="358.50" font-size="15.65" fill="#000">0.8</text><rect x="433.5" y="364.1" width="35" height="5.4" fill="#767676"/><rect x="568" y="362.9" width="37.5" height="5.7" fill="#767676"/><text x="428.59" y="384.60" font-size="15.72" fill="#000">Time(s)</text><text x="577.09" y="384.70" font-size="15.60" fill="#000">Time(s)</text>
<text x="703.97" y="22.77" font-size="23.38" fill="#000" textLength="16.26" lengthAdjust="spacingAndGlyphs">C</text><line x1="737.8" y1="125.2" x2="737.8" y2="341.6" stroke="#000" stroke-width="2"/><line x1="736.8" y1="341.0" x2="959.4" y2="341.0" stroke="#000" stroke-width="2"/><line x1="735.8" y1="136.3" x2="737.8" y2="136.3" stroke="#000" stroke-width="1"/><text x="708.67" y="141.90" font-size="15.6">200</text><line x1="735.8" y1="164.2" x2="737.8" y2="164.2" stroke="#000" stroke-width="1"/><text x="708.67" y="169.85" font-size="15.6">150</text><line x1="735.8" y1="192.2" x2="737.8" y2="192.2" stroke="#000" stroke-width="1"/><text x="708.67" y="197.80" font-size="15.6">100</text><line x1="735.8" y1="220.2" x2="737.8" y2="220.2" stroke="#000" stroke-width="1"/><text x="717.33" y="225.75" font-size="15.6">50</text><line x1="735.8" y1="248.1" x2="737.8" y2="248.1" stroke="#000" stroke-width="1"/><text x="725.99" y="253.70" font-size="15.6">0</text><line x1="735.8" y1="276.1" x2="737.8" y2="276.1" stroke="#000" stroke-width="1"/><text x="712.10" y="281.65" font-size="15.6">-50</text><line x1="735.8" y1="304.0" x2="737.8" y2="304.0" stroke="#000" stroke-width="1"/><text x="703.45" y="309.60" font-size="15.6">-100</text><line x1="735.8" y1="332.0" x2="737.8" y2="332.0" stroke="#000" stroke-width="1"/><text x="703.45" y="337.55" font-size="15.6">-150</text><line x1="742.7" y1="340.6" x2="742.7" y2="342.8" stroke="#000" stroke-width="1"/><text x="726.97" y="356.0" font-size="15.6">-100</text><line x1="773.7" y1="340.6" x2="773.7" y2="342.8" stroke="#000" stroke-width="1"/><text x="762.35" y="356.0" font-size="15.6">-80</text><line x1="800.4" y1="340.6" x2="800.4" y2="342.8" stroke="#000" stroke-width="1"/><text x="789.00" y="356.0" font-size="15.6">-60</text><line x1="826.4" y1="340.6" x2="826.4" y2="342.8" stroke="#000" stroke-width="1"/><text x="815.05" y="356.0" font-size="15.6">-40</text><line x1="854.8" y1="340.6" x2="854.8" y2="342.8" stroke="#000" stroke-width="1"/><text x="843.40" y="356.0" font-size="15.6">-20</text><line x1="879.4" y1="340.6" x2="879.4" y2="342.8" stroke="#000" stroke-width="1"/><text x="875.03" y="356.0" font-size="15.6">0</text><line x1="909.2" y1="340.6" x2="909.2" y2="342.8" stroke="#000" stroke-width="1"/><text x="900.48" y="356.0" font-size="15.6">20</text><line x1="935.9" y1="340.6" x2="935.9" y2="342.8" stroke="#000" stroke-width="1"/><text x="927.31" y="356.0" font-size="15.6">40</text><text x="834.67" y="379.50" font-size="15.51" fill="#000">tSNE_1</text><text transform="translate(706.10,262.43) rotate(-90)" font-size="15.59" fill="#000">tSNE_2</text><circle cx="914.0" cy="135.9" r="3.7" fill="#8a10d0"/><circle cx="903.1" cy="154.7" r="3.7" fill="#8a10d0"/><circle cx="920.5" cy="170.0" r="3.7" fill="#8a10d0"/><circle cx="867.2" cy="215.3" r="3.7" fill="#92d892"/><circle cx="885.5" cy="228.4" r="3.7" fill="#a2b85a"/><circle cx="854.6" cy="255.0" r="3.7" fill="#18c418"/><circle cx="948.8" cy="312.3" r="3.7" fill="#8cf060"/><circle cx="748.5" cy="248.1" r="3.7" fill="#a89e9e"/><text x="918.09" y="138.4" font-size="13.2">2</text><text x="907.62" y="157.9" font-size="13.2">6</text><text x="924.69" y="177.2" font-size="13.2">1</text><text x="872.11" y="216.4" font-size="13.2">26</text><text x="886.61" y="240.9" font-size="13.2">25</text><text x="857.69" y="267.0" font-size="13.2">24</text><text x="929.81" y="324.0" font-size="13.2">23</text><text x="752.75" y="251.9" font-size="13.2">Ctl</text>
<text x="960.32" y="22.00" font-size="23.04" fill="#000" textLength="16.99" lengthAdjust="spacingAndGlyphs">D</text><rect x="985.00" y="28.00" width="34.67" height="34.63" fill="#7b9ef8"/><rect x="1019.38" y="28.00" width="34.67" height="34.63" fill="#a6c4fe"/><rect x="1053.75" y="28.00" width="34.67" height="34.63" fill="#f4bb9e"/><rect x="1088.12" y="28.00" width="34.67" height="34.63" fill="#ea8066"/><rect x="1122.50" y="28.00" width="34.67" height="34.63" fill="#c53334"/><rect x="1156.88" y="28.00" width="34.67" height="34.63" fill="#f29072"/><rect x="1191.25" y="28.00" width="34.67" height="34.63" fill="#b40426"/><rect x="1225.62" y="28.00" width="34.67" height="34.63" fill="#b5cdfa"/><rect x="985.00" y="62.33" width="34.67" height="34.63" fill="#aac7fd"/><rect x="1019.38" y="62.33" width="34.67" height="34.63" fill="#aac7fd"/><rect x="1053.75" y="62.33" width="34.67" height="34.63" fill="#aac7fd"/><rect x="1088.12" y="62.33" width="34.67" height="34.63" fill="#b0cbfc"/><rect x="1122.50" y="62.33" width="34.67" height="34.63" fill="#bcd2f7"/><rect x="1156.88" y="62.33" width="34.67" height="34.63" fill="#c5d6f2"/><rect x="1191.25" y="62.33" width="34.67" height="34.63" fill="#b2ccfb"/><rect x="1225.62" y="62.33" width="34.67" height="34.63" fill="#b5cdfa"/><rect x="985.00" y="96.66" width="34.67" height="34.63" fill="#c7d7f0"/><rect x="1019.38" y="96.66" width="34.67" height="34.63" fill="#aec9fc"/><rect x="1053.75" y="96.66" width="34.67" height="34.63" fill="#abc8fd"/><rect x="1088.12" y="96.66" width="34.67" height="34.63" fill="#c0d4f5"/><rect x="1122.50" y="96.66" width="34.67" height="34.63" fill="#c3d5f4"/><rect x="1156.88" y="96.66" width="34.67" height="34.63" fill="#efcebd"/><rect x="1191.25" y="96.66" width="34.67" height="34.63" fill="#f5c2aa"/><rect x="1225.62" y="96.66" width="34.67" height="34.63" fill="#b5cdfa"/><rect x="985.00" y="130.99" width="34.67" height="34.63" fill="#e5d8d1"/><rect x="1019.38" y="130.99" width="34.67" height="34.63" fill="#e5d8d1"/><rect x="1053.75" y="130.99" width="34.67" height="34.63" fill="#e0dbd8"/><rect x="1088.12" y="130.99" width="34.67" height="34.63" fill="#dcdddd"/><rect x="1122.50" y="130.99" width="34.67" height="34.63" fill="#ef886b"/><rect x="1156.88" y="130.99" width="34.67" height="34.63" fill="#f6a385"/><rect x="1191.25" y="130.99" width="34.67" height="34.63" fill="#d24b40"/><rect x="1225.62" y="130.99" width="34.67" height="34.63" fill="#b5cdfa"/><rect x="985.00" y="165.32" width="34.67" height="34.63" fill="#e8d6cc"/><rect x="1019.38" y="165.32" width="34.67" height="34.63" fill="#ead5c9"/><rect x="1053.75" y="165.32" width="34.67" height="34.63" fill="#dddcdc"/><rect x="1088.12" y="165.32" width="34.67" height="34.63" fill="#e4d9d2"/><rect x="1122.50" y="165.32" width="34.67" height="34.63" fill="#dd5f4b"/><rect x="1156.88" y="165.32" width="34.67" height="34.63" fill="#f5a889"/><rect x="1191.25" y="165.32" width="34.67" height="34.63" fill="#f18d6f"/><rect x="1225.62" y="165.32" width="34.67" height="34.63" fill="#b5cdfa"/><rect x="985.00" y="199.65" width="34.67" height="34.63" fill="#c6d6f1"/><rect x="1019.38" y="199.65" width="34.67" height="34.63" fill="#f1cdba"/><rect x="1053.75" y="199.65" width="34.67" height="34.63" fill="#d9dce1"/><rect x="1088.12" y="199.65" width="34.67" height="34.63" fill="#f5c0a6"/><rect x="1122.50" y="199.65" width="34.67" height="34.63" fill="#e36b54"/><rect x="1156.88" y="199.65" width="34.67" height="34.63" fill="#f5a889"/><rect x="1191.25" y="199.65" width="34.67" height="34.63" fill="#e97a5f"/><rect x="1225.62" y="199.65" width="34.67" height="34.63" fill="#b5cdfa"/><rect x="985.00" y="233.98" width="34.67" height="34.63" fill="#e2dad5"/><rect x="1019.38" y="233.98" width="34.67" height="34.63" fill="#dadce0"/><rect x="1053.75" y="233.98" width="34.67" height="34.63" fill="#d9dce1"/><rect x="1088.12" y="233.98" width="34.67" height="34.63" fill="#c0d4f5"/><rect x="1122.50" y="233.98" width="34.67" height="34.63" fill="#adc9fd"/><rect x="1156.88" y="233.98" width="34.67" height="34.63" fill="#adc9fd"/><rect x="1191.25" y="233.98" width="34.67" height="34.63" fill="#96b7ff"/><rect x="1225.62" y="233.98" width="34.67" height="34.63" fill="#b5cdfa"/><rect x="985.00" y="268.31" width="34.67" height="34.63" fill="#bed2f6"/><rect x="1019.38" y="268.31" width="34.67" height="34.63" fill="#c1d4f4"/><rect x="1053.75" y="268.31" width="34.67" height="34.63" fill="#b2ccfb"/><rect x="1088.12" y="268.31" width="34.67" height="34.63" fill="#bcd2f7"/><rect x="1122.50" y="268.31" width="34.67" height="34.63" fill="#c6d6f1"/><rect x="1156.88" y="268.31" width="34.67" height="34.63" fill="#c6d6f1"/><rect x="1191.25" y="268.31" width="34.67" height="34.63" fill="#d5dbe5"/><rect x="1225.62" y="268.31" width="34.67" height="34.63" fill="#b5cdfa"/><rect x="985.00" y="302.64" width="34.67" height="34.63" fill="#c0d4f5"/><rect x="1019.38" y="302.64" width="34.67" height="34.63" fill="#c0d4f5"/><rect x="1053.75" y="302.64" width="34.67" height="34.63" fill="#adc9fd"/><rect x="1088.12" y="302.64" width="34.67" height="34.63" fill="#c6d6f1"/><rect x="1122.50" y="302.64" width="34.67" height="34.63" fill="#b2ccfb"/><rect x="1156.88" y="302.64" width="34.67" height="34.63" fill="#bed2f6"/><rect x="1191.25" y="302.64" width="34.67" height="34.63" fill="#c3d5f4"/><rect x="1225.62" y="302.64" width="34.67" height="34.63" fill="#b5cdfa"/><text x="971.20" y="49.80" font-size="16.23" fill="#000">1</text><text x="971.35" y="331.03" font-size="16.90" fill="#000" textLength="10.53" lengthAdjust="spacingAndGlyphs">9</text><text transform="translate(969.33,202.33) rotate(-90)" font-size="17.70" fill="#000">Units</text><defs><linearGradient id="cw" x1="0" y1="0" x2="0" y2="1"><stop offset="0" stop-color="#b40426"/><stop offset="0.1667" stop-color="#dd5f4b"/><stop offset="0.3333" stop-color="#f49a7b"/><stop offset="0.5" stop-color="#dddcdc"/><stop offset="0.6667" stop-color="#9ebeff"/><stop offset="0.8333" stop-color="#6282ea"/><stop offset="1" stop-color="#3b4cc0"/></linearGradient></defs><rect x="1271.4" y="61.9" width="16.8" height="221.2" fill="url(#cw)" stroke="#222" stroke-width="1"/><line x1="1288.2" y1="62.0" x2="1292.5" y2="62.0" stroke="#222" stroke-width="1"/><text x="1297.3" y="67.2" font-size="15">3</text><line x1="1288.2" y1="98.8" x2="1292.5" y2="98.8" stroke="#222" stroke-width="1"/><text x="1297.3" y="104.0" font-size="15">2</text><line x1="1288.2" y1="135.5" x2="1292.5" y2="135.5" stroke="#222" stroke-width="1"/><text x="1297.3" y="140.7" font-size="15">1</text><line x1="1288.2" y1="172.2" x2="1292.5" y2="172.2" stroke="#222" stroke-width="1"/><text x="1297.3" y="177.4" font-size="15">0</text><line x1="1288.2" y1="209.0" x2="1292.5" y2="209.0" stroke="#222" stroke-width="1"/><text x="1297.3" y="214.2" font-size="15" xml:space="preserve">- 1</text><line x1="1288.2" y1="245.8" x2="1292.5" y2="245.8" stroke="#222" stroke-width="1"/><text x="1297.3" y="250.9" font-size="15" xml:space="preserve">- 2</text><line x1="1288.2" y1="282.5" x2="1292.5" y2="282.5" stroke="#222" stroke-width="1"/><text x="1297.3" y="287.7" font-size="15" xml:space="preserve">- 3</text><text transform="translate(997.53,343.30) rotate(90)" font-size="15.00" fill="#88f048">B</text><text transform="translate(994.28,354.68) rotate(90)" font-size="10.50" fill="#88f048">23</text><text transform="translate(1036.92,343.30) rotate(90)" font-size="15.00" fill="#10c830">B</text><text transform="translate(1033.62,354.68) rotate(90)" font-size="10.50" fill="#10c830">24</text><text transform="translate(1072.58,343.30) rotate(90)" font-size="15.00" fill="#aac468">B</text><text transform="translate(1069.33,354.68) rotate(90)" font-size="10.50" fill="#aac468">25</text><text transform="translate(1105.08,343.30) rotate(90)" font-size="15.00" fill="#98dc98">B</text><text transform="translate(1101.83,354.68) rotate(90)" font-size="10.50" fill="#98dc98">26</text><text transform="translate(1135.12,343.62) rotate(90)" font-size="15.00" fill="#8a10d0">O</text><text transform="translate(1131.85,356.25) rotate(90)" font-size="10.00" fill="#8a10d0">1</text><text transform="translate(1173.23,343.62) rotate(90)" font-size="15.00" fill="#8a10d0">O</text><text transform="translate(1169.90,356.50) rotate(90)" font-size="10.00" fill="#8a10d0">2</text><text transform="translate(1205.42,343.62) rotate(90)" font-size="15.00" fill="#8a10d0">O</text><text transform="translate(1202.15,356.50) rotate(90)" font-size="10.00" fill="#8a10d0">6</text><text transform="translate(1255.93,362.88) rotate(-90)" font-size="16.60" fill="#b8b8b8" textLength="19.02" lengthAdjust="spacingAndGlyphs">Ctl</text><text x="1016.50" y="387.94" font-size="15.92" fill="#1ec040" textLength="82.85" lengthAdjust="spacingAndGlyphs">Behavioral</text><text x="1038.82" y="407.24" font-size="15.92" fill="#1ec040" textLength="44.04" lengthAdjust="spacingAndGlyphs">Blend</text><text x="1130.19" y="389.30" font-size="15.69" fill="#8a10d0">Single Odor</text>
<text x="4.11" y="427.20" font-size="23.04" fill="#000" textLength="15.79" lengthAdjust="spacingAndGlyphs">E</text><g transform="translate(36.90,457.40) scale(2.5000,5.9814)" shape-rendering="crispEdges"><rect width="60" height="43" fill="#f4f4f4"/><path fill="#d4d4d4" d="M0 0h2v1h-2zM8 3h1v1h-1zM49 17h1v1h-1zM10 22h1v1h-1zM12 27h4v1h-4zM56 30h3v1h-3zM56 31h3v1h-3zM45 33h1v1h-1zM0 34h1v1h-1zM15 39h4v1h-4zM29 42h1v1h-1z"/><path fill="#b7f78a" d="M2 0h1v1h-1zM12 1h1v1h-1zM43 1h1v1h-1zM20 2h1v1h-1zM26 2h1v1h-1zM29 2h1v1h-1zM33 2h1v1h-1zM2 3h1v1h-1zM29 3h1v1h-1zM32 3h1v1h-1zM35 3h1v1h-1zM6 4h1v1h-1zM24 4h1v1h-1zM35 4h1v1h-1zM24 5h1v1h-1zM26 5h2v1h-2zM29 5h1v1h-1zM19 6h1v1h-1zM56 6h1v1h-1zM49 7h1v1h-1zM55 7h1v1h-1zM30 8h3v1h-3zM43 8h1v1h-1zM6 9h1v1h-1zM41 9h1v1h-1zM43 9h1v1h-1zM16 10h1v1h-1zM24 10h1v1h-1zM39 10h1v1h-1zM49 10h1v1h-1zM16 11h1v1h-1zM24 11h1v1h-1zM39 11h1v1h-1zM49 11h1v1h-1zM16 12h1v1h-1zM24 12h1v1h-1zM39 12h1v1h-1zM49 12h1v1h-1zM27 13h1v1h-1zM33 13h1v1h-1zM34 14h1v1h-1zM28 15h1v1h-1zM28 16h1v1h-1zM11 17h1v1h-1zM48 17h1v1h-1zM4 19h1v1h-1zM7 19h1v1h-1zM12 19h1v1h-1zM42 22h1v1h-1zM47 22h1v1h-1zM52 23h1v1h-1zM7 24h1v1h-1zM27 25h1v1h-1zM35 25h1v1h-1zM54 27h1v1h-1zM18 28h1v1h-1zM22 28h1v1h-1zM14 32h1v1h-1zM13 33h1v1h-1zM34 35h1v1h-1zM17 37h2v1h-2zM28 37h1v1h-1zM31 37h1v1h-1zM13 38h1v1h-1zM2 39h2v1h-2zM36 39h1v1h-1zM0 41h1v1h-1z"/><path fill="#c3f89d" d="M5 0h1v1h-1zM55 0h1v1h-1zM57 0h1v1h-1zM23 1h1v1h-1zM28 1h2v1h-2zM58 1h1v1h-1zM27 2h1v1h-1zM44 3h1v1h-1zM20 4h1v1h-1zM36 4h1v1h-1zM43 5h1v1h-1zM10 6h1v1h-1zM30 6h1v1h-1zM32 6h1v1h-1zM51 6h1v1h-1zM16 7h1v1h-1zM24 7h1v1h-1zM29 7h1v1h-1zM5 8h1v1h-1zM21 8h1v1h-1zM41 8h1v1h-1zM31 9h1v1h-1zM52 9h1v1h-1zM35 10h1v1h-1zM47 10h1v1h-1zM35 11h1v1h-1zM47 11h1v1h-1zM35 12h1v1h-1zM47 12h1v1h-1zM5 13h1v1h-1zM38 13h1v1h-1zM51 13h1v1h-1zM42 14h1v1h-1zM58 14h1v1h-1zM4 15h1v1h-1zM40 15h1v1h-1zM48 15h1v1h-1zM4 16h1v1h-1zM40 16h1v1h-1zM48 16h1v1h-1zM14 17h1v1h-1zM28 18h1v1h-1zM42 19h1v1h-1zM3 21h1v1h-1zM48 21h1v1h-1zM46 22h1v1h-1zM12 23h1v1h-1zM25 25h1v1h-1zM4 28h1v1h-1zM11 28h1v1h-1zM59 28h1v1h-1zM34 29h1v1h-1zM47 30h1v1h-1zM50 30h1v1h-1zM47 31h1v1h-1zM50 31h1v1h-1zM34 32h1v1h-1zM56 32h1v1h-1zM19 33h1v1h-1zM22 33h1v1h-1zM36 34h1v1h-1zM4 35h1v1h-1zM1 36h1v1h-1zM1 38h1v1h-1zM46 39h1v1h-1zM56 39h1v1h-1zM45 40h1v1h-1zM31 41h1v1h-1zM48 41h1v1h-1zM0 42h1v1h-1zM17 42h1v1h-1zM51 42h1v1h-1z"/><path fill="#ececec" d="M6 0h1v1h-1zM10 0h3v1h-3zM14 0h1v1h-1zM35 0h3v1h-3zM49 0h2v1h-2zM56 0h1v1h-1zM58 0h1v1h-1zM13 1h7v1h-7zM32 1h2v1h-2zM37 1h3v1h-3zM47 1h7v1h-7zM56 1h1v1h-1zM11 2h2v1h-2zM11 3h1v1h-1zM14 3h3v1h-3zM42 3h2v1h-2zM47 3h3v1h-3zM57 3h1v1h-1zM0 4h1v1h-1zM7 4h4v1h-4zM15 4h2v1h-2zM40 4h2v1h-2zM44 4h1v1h-1zM49 4h3v1h-3zM53 4h2v1h-2zM15 5h1v1h-1zM33 5h2v1h-2zM0 7h2v1h-2zM4 7h1v1h-1zM8 7h1v1h-1zM10 7h1v1h-1zM34 7h1v1h-1zM41 7h2v1h-2zM44 7h1v1h-1zM50 7h2v1h-2zM56 7h4v1h-4zM28 8h1v1h-1zM48 8h3v1h-3zM3 10h1v1h-1zM12 10h1v1h-1zM19 10h2v1h-2zM26 10h1v1h-1zM30 10h4v1h-4zM37 10h2v1h-2zM41 10h3v1h-3zM45 10h1v1h-1zM48 10h1v1h-1zM51 10h1v1h-1zM53 10h2v1h-2zM3 11h1v1h-1zM12 11h1v1h-1zM19 11h2v1h-2zM26 11h1v1h-1zM30 11h4v1h-4zM37 11h2v1h-2zM41 11h3v1h-3zM45 11h1v1h-1zM48 11h1v1h-1zM51 11h1v1h-1zM53 11h2v1h-2zM3 12h1v1h-1zM12 12h1v1h-1zM19 12h2v1h-2zM26 12h1v1h-1zM30 12h4v1h-4zM37 12h2v1h-2zM41 12h3v1h-3zM45 12h1v1h-1zM48 12h1v1h-1zM51 12h1v1h-1zM53 12h2v1h-2zM39 13h1v1h-1zM52 13h2v1h-2zM11 15h1v1h-1zM18 15h1v1h-1zM11 16h1v1h-1zM18 16h1v1h-1zM42 17h1v1h-1zM57 18h1v1h-1zM59 18h1v1h-1zM9 22h1v1h-1zM17 22h4v1h-4zM37 22h2v1h-2zM41 22h1v1h-1zM52 24h1v1h-1zM55 24h1v1h-1zM4 26h6v1h-6zM14 26h1v1h-1zM2 28h1v1h-1zM12 28h1v1h-1zM54 28h3v1h-3zM2 29h4v1h-4zM22 29h1v1h-1zM28 29h6v1h-6zM56 29h3v1h-3zM55 32h1v1h-1zM17 34h3v1h-3zM28 36h2v1h-2zM38 36h1v1h-1zM46 36h2v1h-2zM11 38h2v1h-2zM30 38h1v1h-1zM45 38h1v1h-1zM54 38h1v1h-1zM0 39h2v1h-2zM4 39h4v1h-4zM23 39h1v1h-1zM45 39h1v1h-1zM48 39h4v1h-4zM50 40h1v1h-1zM1 41h1v1h-1zM8 41h2v1h-2zM23 41h1v1h-1zM37 41h2v1h-2zM44 41h2v1h-2zM55 41h1v1h-1z"/><path fill="#e4e4e4" d="M7 0h3v1h-3zM32 0h2v1h-2zM59 0h1v1h-1zM2 4h1v1h-1zM17 7h2v1h-2zM26 7h1v1h-1zM47 7h2v1h-2zM15 9h1v1h-1zM6 10h1v1h-1zM36 10h1v1h-1zM46 10h1v1h-1zM56 10h1v1h-1zM6 11h1v1h-1zM36 11h1v1h-1zM46 11h1v1h-1zM56 11h1v1h-1zM6 12h1v1h-1zM36 12h1v1h-1zM46 12h1v1h-1zM56 12h1v1h-1zM20 15h2v1h-2zM20 16h2v1h-2zM24 17h3v1h-3zM56 20h1v1h-1zM53 26h1v1h-1zM16 27h2v1h-2zM37 27h1v1h-1zM11 29h1v1h-1zM47 29h1v1h-1zM58 35h1v1h-1zM5 37h6v1h-6zM4 38h1v1h-1zM18 38h1v1h-1zM36 38h1v1h-1zM19 39h3v1h-3z"/><path fill="#cff9b1" d="M13 0h1v1h-1zM25 1h1v1h-1zM41 1h1v1h-1zM45 2h1v1h-1zM57 2h1v1h-1zM17 3h1v1h-1zM41 3h1v1h-1zM24 6h1v1h-1zM27 6h1v1h-1zM15 7h1v1h-1zM6 8h1v1h-1zM9 8h1v1h-1zM45 8h1v1h-1zM25 10h1v1h-1zM52 10h1v1h-1zM25 11h1v1h-1zM52 11h1v1h-1zM25 12h1v1h-1zM52 12h1v1h-1zM48 14h1v1h-1zM2 15h1v1h-1zM19 15h1v1h-1zM35 15h1v1h-1zM56 15h1v1h-1zM2 16h1v1h-1zM19 16h1v1h-1zM35 16h1v1h-1zM56 16h1v1h-1zM22 17h1v1h-1zM6 18h1v1h-1zM50 18h1v1h-1zM48 19h1v1h-1zM39 20h1v1h-1zM49 20h2v1h-2zM57 20h1v1h-1zM34 21h1v1h-1zM51 22h1v1h-1zM34 23h1v1h-1zM21 24h1v1h-1zM20 25h1v1h-1zM42 25h1v1h-1zM39 27h1v1h-1zM49 27h1v1h-1zM8 28h1v1h-1zM57 28h1v1h-1zM59 29h1v1h-1zM39 30h1v1h-1zM39 31h1v1h-1zM5 32h1v1h-1zM16 32h2v1h-2zM12 33h1v1h-1zM16 33h1v1h-1zM46 33h1v1h-1zM58 33h1v1h-1zM34 34h1v1h-1zM40 34h1v1h-1zM51 36h1v1h-1zM13 37h1v1h-1zM2 38h2v1h-2zM17 38h1v1h-1zM38 39h1v1h-1zM11 40h1v1h-1zM28 41h1v1h-1z"/><path fill="#f3fdeb" d="M15 0h1v1h-1zM18 0h1v1h-1zM43 0h1v1h-1zM48 0h1v1h-1zM46 1h1v1h-1zM54 1h1v1h-1zM1 2h1v1h-1zM15 2h1v1h-1zM18 2h1v1h-1zM0 3h1v1h-1zM5 3h1v1h-1zM12 3h1v1h-1zM51 3h1v1h-1zM55 3h1v1h-1zM58 3h1v1h-1zM42 4h2v1h-2zM47 4h1v1h-1zM11 5h1v1h-1zM37 5h1v1h-1zM41 5h1v1h-1zM44 5h1v1h-1zM6 6h1v1h-1zM12 6h1v1h-1zM41 6h1v1h-1zM43 6h1v1h-1zM13 7h1v1h-1zM52 7h1v1h-1zM53 9h1v1h-1zM0 10h1v1h-1zM7 10h1v1h-1zM0 11h1v1h-1zM7 11h1v1h-1zM0 12h1v1h-1zM7 12h1v1h-1zM3 13h1v1h-1zM18 13h1v1h-1zM22 13h1v1h-1zM7 14h1v1h-1zM15 14h1v1h-1zM28 14h1v1h-1zM5 15h1v1h-1zM50 15h1v1h-1zM5 16h1v1h-1zM50 16h1v1h-1zM5 17h1v1h-1zM37 17h3v1h-3zM41 17h1v1h-1zM44 17h1v1h-1zM5 18h1v1h-1zM20 18h1v1h-1zM36 18h1v1h-1zM43 18h1v1h-1zM22 19h1v1h-1zM27 19h1v1h-1zM41 19h1v1h-1zM3 20h1v1h-1zM9 20h1v1h-1zM15 20h1v1h-1zM23 20h1v1h-1zM28 20h1v1h-1zM59 20h1v1h-1zM0 21h1v1h-1zM11 21h1v1h-1zM19 21h1v1h-1zM14 22h1v1h-1zM26 22h1v1h-1zM35 22h1v1h-1zM10 23h1v1h-1zM15 23h1v1h-1zM43 23h1v1h-1zM48 23h1v1h-1zM24 24h1v1h-1zM47 24h1v1h-1zM36 25h1v1h-1zM46 25h1v1h-1zM49 25h1v1h-1zM0 26h1v1h-1zM17 26h1v1h-1zM11 27h1v1h-1zM18 27h1v1h-1zM36 27h1v1h-1zM46 27h1v1h-1zM53 27h1v1h-1zM30 28h1v1h-1zM42 28h1v1h-1zM52 28h1v1h-1zM16 29h1v1h-1zM43 29h1v1h-1zM18 30h1v1h-1zM35 30h1v1h-1zM55 30h1v1h-1zM59 30h1v1h-1zM18 31h1v1h-1zM35 31h1v1h-1zM55 31h1v1h-1zM59 31h1v1h-1zM7 32h2v1h-2zM18 32h1v1h-1zM25 32h1v1h-1zM43 32h1v1h-1zM51 32h1v1h-1zM11 33h1v1h-1zM28 33h1v1h-1zM36 33h1v1h-1zM48 33h1v1h-1zM3 34h1v1h-1zM11 34h1v1h-1zM31 34h1v1h-1zM38 34h1v1h-1zM44 34h1v1h-1zM10 35h1v1h-1zM18 35h1v1h-1zM23 35h1v1h-1zM31 35h1v1h-1zM41 35h1v1h-1zM13 36h1v1h-1zM21 36h3v1h-3zM14 37h1v1h-1zM16 37h1v1h-1zM19 37h1v1h-1zM36 37h1v1h-1zM47 37h1v1h-1zM49 37h1v1h-1zM16 38h1v1h-1zM53 38h1v1h-1zM14 39h1v1h-1zM24 39h1v1h-1zM29 39h1v1h-1zM47 39h1v1h-1zM22 40h1v1h-1zM29 40h2v1h-2zM44 40h1v1h-1zM48 40h2v1h-2zM7 41h1v1h-1zM25 41h1v1h-1zM32 41h2v1h-2zM57 41h1v1h-1zM1 42h1v1h-1zM6 42h1v1h-1zM10 42h2v1h-2zM27 42h1v1h-1zM30 42h1v1h-1zM32 42h1v1h-1z"/><path fill="#e8e8e8" d="M16 0h2v1h-2zM34 0h1v1h-1zM38 0h2v1h-2zM44 1h2v1h-2zM10 3h1v1h-1zM3 4h3v1h-3zM18 4h2v1h-2zM19 5h2v1h-2zM12 7h1v1h-1zM21 7h3v1h-3zM40 7h1v1h-1zM45 7h2v1h-2zM7 8h2v1h-2zM46 8h2v1h-2zM14 9h1v1h-1zM4 10h2v1h-2zM13 10h2v1h-2zM21 10h1v1h-1zM28 10h1v1h-1zM50 10h1v1h-1zM59 10h1v1h-1zM4 11h2v1h-2zM13 11h2v1h-2zM21 11h1v1h-1zM28 11h1v1h-1zM50 11h1v1h-1zM59 11h1v1h-1zM4 12h2v1h-2zM13 12h2v1h-2zM21 12h1v1h-1zM28 12h1v1h-1zM50 12h1v1h-1zM59 12h1v1h-1zM14 14h1v1h-1zM29 15h2v1h-2zM29 16h2v1h-2zM48 26h4v1h-4zM46 28h1v1h-1zM17 29h1v1h-1zM19 29h2v1h-2zM45 29h2v1h-2zM54 29h1v1h-1zM36 32h1v1h-1zM40 32h1v1h-1zM44 32h2v1h-2zM57 32h3v1h-3zM59 36h1v1h-1zM19 38h5v1h-5zM31 38h5v1h-5zM46 38h1v1h-1zM55 38h1v1h-1zM33 39h3v1h-3zM37 39h1v1h-1zM39 39h1v1h-1zM58 39h2v1h-2zM42 40h1v1h-1zM50 41h1v1h-1z"/><path fill="#9ff462" d="M20 0h1v1h-1zM23 0h1v1h-1zM25 0h2v1h-2zM28 0h3v1h-3zM21 1h1v1h-1zM19 2h1v1h-1zM22 3h1v1h-1zM25 3h1v1h-1zM21 4h1v1h-1zM23 5h1v1h-1zM23 6h1v1h-1zM36 6h1v1h-1zM20 7h1v1h-1zM25 7h1v1h-1zM35 7h1v1h-1zM20 8h1v1h-1zM24 8h1v1h-1zM29 8h1v1h-1zM20 9h2v1h-2zM26 9h1v1h-1zM28 9h1v1h-1zM42 13h1v1h-1zM25 26h1v1h-1zM28 26h1v1h-1zM21 28h1v1h-1z"/><path fill="#93f34f" d="M21 0h2v1h-2zM27 0h1v1h-1zM31 0h1v1h-1zM20 1h1v1h-1zM24 1h1v1h-1zM31 1h1v1h-1zM22 2h1v1h-1zM30 2h1v1h-1zM32 2h1v1h-1zM34 2h2v1h-2zM19 3h3v1h-3zM34 3h1v1h-1zM22 4h2v1h-2zM28 4h2v1h-2zM32 4h1v1h-1zM26 8h1v1h-1zM36 13h1v1h-1zM40 13h1v1h-1zM39 14h1v1h-1zM26 26h1v1h-1zM34 26h2v1h-2z"/><path fill="#87f23c" d="M24 0h1v1h-1zM23 2h1v1h-1zM28 2h1v1h-1zM31 3h1v1h-1zM36 3h1v1h-1zM31 4h1v1h-1zM28 5h1v1h-1zM30 5h1v1h-1zM30 26h1v1h-1zM20 28h1v1h-1z"/><path fill="#f0f0f0" d="M40 0h1v1h-1zM44 0h4v1h-4zM52 0h1v1h-1zM54 0h1v1h-1zM27 1h1v1h-1zM30 1h1v1h-1zM42 1h1v1h-1zM57 1h1v1h-1zM0 2h1v1h-1zM6 3h2v1h-2zM13 3h1v1h-1zM52 4h1v1h-1zM55 4h5v1h-5zM0 5h10v1h-10zM12 5h3v1h-3zM45 5h1v1h-1zM58 5h1v1h-1zM3 7h1v1h-1zM5 7h1v1h-1zM7 7h1v1h-1zM14 7h1v1h-1zM19 7h1v1h-1zM30 7h2v1h-2zM37 7h3v1h-3zM43 7h1v1h-1zM53 7h1v1h-1zM12 8h2v1h-2zM16 8h4v1h-4zM34 8h5v1h-5zM44 8h1v1h-1zM55 8h5v1h-5zM22 9h1v1h-1zM29 9h2v1h-2zM33 9h2v1h-2zM39 9h1v1h-1zM48 9h4v1h-4zM1 10h2v1h-2zM17 10h2v1h-2zM22 10h1v1h-1zM55 10h1v1h-1zM1 11h2v1h-2zM17 11h2v1h-2zM22 11h1v1h-1zM55 11h1v1h-1zM1 12h2v1h-2zM17 12h2v1h-2zM22 12h1v1h-1zM55 12h1v1h-1zM6 13h3v1h-3zM23 13h1v1h-1zM55 13h1v1h-1zM3 14h3v1h-3zM16 14h4v1h-4zM45 14h3v1h-3zM52 14h1v1h-1zM10 15h1v1h-1zM25 15h1v1h-1zM33 15h2v1h-2zM49 15h1v1h-1zM58 15h2v1h-2zM10 16h1v1h-1zM25 16h1v1h-1zM33 16h2v1h-2zM49 16h1v1h-1zM58 16h2v1h-2zM7 18h1v1h-1zM18 18h1v1h-1zM51 18h1v1h-1zM53 18h3v1h-3zM58 18h1v1h-1zM46 20h1v1h-1zM2 21h1v1h-1zM46 21h2v1h-2zM12 22h1v1h-1zM21 22h1v1h-1zM30 22h5v1h-5zM39 22h2v1h-2zM53 22h7v1h-7zM38 23h2v1h-2zM45 23h2v1h-2zM0 24h4v1h-4zM10 24h7v1h-7zM19 24h1v1h-1zM23 24h1v1h-1zM35 24h8v1h-8zM44 24h1v1h-1zM49 24h1v1h-1zM0 25h1v1h-1zM24 26h1v1h-1zM54 26h2v1h-2zM59 26h1v1h-1zM5 28h1v1h-1zM9 28h2v1h-2zM19 28h1v1h-1zM28 28h2v1h-2zM34 28h2v1h-2zM38 28h1v1h-1zM43 28h2v1h-2zM53 28h1v1h-1zM13 29h3v1h-3zM23 29h1v1h-1zM35 29h1v1h-1zM41 29h1v1h-1zM44 29h1v1h-1zM48 29h6v1h-6zM55 29h1v1h-1zM34 30h1v1h-1zM34 31h1v1h-1zM11 32h1v1h-1zM15 32h1v1h-1zM30 32h1v1h-1zM33 32h1v1h-1zM42 32h1v1h-1zM46 32h1v1h-1zM48 32h3v1h-3zM41 33h2v1h-2zM2 34h1v1h-1zM4 34h2v1h-2zM10 34h1v1h-1zM39 34h1v1h-1zM3 36h2v1h-2zM6 36h4v1h-4zM24 36h1v1h-1zM30 36h1v1h-1zM39 36h3v1h-3zM43 36h1v1h-1zM45 36h1v1h-1zM56 36h1v1h-1zM5 38h3v1h-3zM10 38h1v1h-1zM14 38h2v1h-2zM24 38h2v1h-2zM28 38h2v1h-2zM37 38h8v1h-8zM22 39h1v1h-1zM25 39h2v1h-2zM32 39h1v1h-1zM43 39h1v1h-1zM53 39h1v1h-1zM55 39h1v1h-1zM5 40h1v1h-1zM8 40h3v1h-3zM16 40h4v1h-4zM24 40h5v1h-5zM31 40h1v1h-1zM40 40h2v1h-2zM51 40h9v1h-9zM2 41h2v1h-2zM10 41h1v1h-1zM12 41h3v1h-3zM18 41h2v1h-2zM29 41h1v1h-1zM35 41h2v1h-2zM46 41h2v1h-2zM54 41h1v1h-1zM59 41h1v1h-1zM19 42h1v1h-1zM25 42h1v1h-1z"/><path fill="#e7fcd8" d="M41 0h1v1h-1zM51 0h1v1h-1zM5 2h1v1h-1zM43 2h1v1h-1zM46 4h1v1h-1zM48 4h1v1h-1zM52 5h1v1h-1zM2 7h1v1h-1zM6 7h1v1h-1zM9 7h1v1h-1zM54 7h1v1h-1zM42 8h1v1h-1zM12 9h1v1h-1zM11 10h1v1h-1zM11 11h1v1h-1zM11 12h1v1h-1zM29 13h1v1h-1zM31 13h1v1h-1zM10 14h1v1h-1zM21 14h1v1h-1zM50 14h1v1h-1zM3 15h1v1h-1zM16 15h1v1h-1zM23 15h2v1h-2zM52 15h1v1h-1zM3 16h1v1h-1zM16 16h1v1h-1zM23 16h2v1h-2zM52 16h1v1h-1zM13 17h1v1h-1zM33 18h1v1h-1zM46 18h1v1h-1zM29 19h1v1h-1zM37 19h1v1h-1zM19 20h1v1h-1zM37 20h1v1h-1zM1 21h1v1h-1zM5 22h1v1h-1zM36 22h1v1h-1zM48 22h1v1h-1zM18 23h1v1h-1zM26 23h2v1h-2zM20 24h1v1h-1zM43 24h1v1h-1zM44 25h1v1h-1zM13 26h1v1h-1zM43 27h1v1h-1zM36 28h1v1h-1zM5 30h1v1h-1zM17 30h1v1h-1zM26 30h1v1h-1zM5 31h1v1h-1zM17 31h1v1h-1zM26 31h1v1h-1zM20 32h1v1h-1zM29 32h1v1h-1zM41 32h1v1h-1zM9 33h1v1h-1zM51 33h2v1h-2zM59 33h1v1h-1zM1 34h1v1h-1zM12 34h2v1h-2zM20 34h1v1h-1zM46 34h1v1h-1zM52 34h1v1h-1zM57 34h1v1h-1zM22 35h1v1h-1zM53 35h1v1h-1zM25 36h1v1h-1zM34 36h1v1h-1zM42 36h1v1h-1zM30 37h1v1h-1zM39 37h1v1h-1zM46 37h1v1h-1zM52 39h1v1h-1zM33 40h1v1h-1zM4 41h1v1h-1zM56 41h1v1h-1zM28 42h1v1h-1zM55 42h1v1h-1z"/><path fill="#abf576" d="M42 0h1v1h-1zM22 1h1v1h-1zM26 1h1v1h-1zM24 2h2v1h-2zM31 2h1v1h-1zM36 2h2v1h-2zM27 3h2v1h-2zM25 4h2v1h-2zM33 4h1v1h-1zM21 5h1v1h-1zM25 5h1v1h-1zM34 6h1v1h-1zM38 6h1v1h-1zM27 7h1v1h-1zM32 7h2v1h-2zM36 7h1v1h-1zM25 8h1v1h-1zM27 8h1v1h-1zM19 9h1v1h-1zM23 9h2v1h-2zM15 10h1v1h-1zM44 10h1v1h-1zM15 11h1v1h-1zM44 11h1v1h-1zM15 12h1v1h-1zM44 12h1v1h-1zM35 13h1v1h-1zM37 13h1v1h-1zM32 14h1v1h-1zM37 14h1v1h-1zM32 15h1v1h-1zM32 16h1v1h-1zM23 17h1v1h-1zM42 18h1v1h-1zM16 19h1v1h-1zM56 19h1v1h-1zM55 21h1v1h-1zM32 26h2v1h-2zM36 26h1v1h-1zM26 27h1v1h-1zM23 28h1v1h-1zM45 28h1v1h-1zM3 33h1v1h-1zM57 39h1v1h-1zM21 40h1v1h-1zM14 42h1v1h-1zM24 42h1v1h-1zM48 42h1v1h-1z"/><path fill="#dbfbc4" d="M53 0h1v1h-1zM40 1h1v1h-1zM46 3h1v1h-1zM56 3h1v1h-1zM11 4h1v1h-1zM2 6h1v1h-1zM10 8h1v1h-1zM15 8h1v1h-1zM11 9h1v1h-1zM40 9h1v1h-1zM27 10h1v1h-1zM29 10h1v1h-1zM34 10h1v1h-1zM40 10h1v1h-1zM27 11h1v1h-1zM29 11h1v1h-1zM34 11h1v1h-1zM40 11h1v1h-1zM27 12h1v1h-1zM29 12h1v1h-1zM34 12h1v1h-1zM40 12h1v1h-1zM22 14h1v1h-1zM24 14h1v1h-1zM27 14h1v1h-1zM27 15h1v1h-1zM27 16h1v1h-1zM19 17h1v1h-1zM45 17h1v1h-1zM22 18h1v1h-1zM23 19h1v1h-1zM31 20h1v1h-1zM10 21h1v1h-1zM32 21h1v1h-1zM11 22h1v1h-1zM22 23h1v1h-1zM29 23h1v1h-1zM41 23h1v1h-1zM4 24h1v1h-1zM53 24h1v1h-1zM41 25h1v1h-1zM10 29h1v1h-1zM18 29h1v1h-1zM21 29h1v1h-1zM14 30h1v1h-1zM14 31h1v1h-1zM19 32h1v1h-1zM47 32h1v1h-1zM15 33h1v1h-1zM43 33h1v1h-1zM32 36h1v1h-1zM44 36h1v1h-1zM4 37h1v1h-1zM59 37h1v1h-1zM4 40h1v1h-1zM23 40h1v1h-1zM37 40h1v1h-1zM39 40h1v1h-1zM22 41h1v1h-1zM30 41h1v1h-1zM4 42h2v1h-2zM43 42h1v1h-1z"/><path fill="#f8f8f8" d="M34 1h2v1h-2zM55 1h1v1h-1zM6 2h5v1h-5zM16 2h1v1h-1zM41 2h1v1h-1zM46 2h1v1h-1zM58 2h2v1h-2zM9 3h1v1h-1zM18 3h1v1h-1zM23 3h2v1h-2zM26 3h1v1h-1zM33 3h1v1h-1zM50 3h1v1h-1zM34 4h1v1h-1zM17 5h2v1h-2zM22 5h1v1h-1zM31 5h1v1h-1zM35 5h2v1h-2zM42 5h1v1h-1zM46 5h5v1h-5zM53 5h1v1h-1zM56 5h2v1h-2zM15 6h1v1h-1zM31 6h1v1h-1zM11 7h1v1h-1zM39 8h2v1h-2zM51 8h4v1h-4zM3 9h3v1h-3zM13 9h1v1h-1zM36 9h2v1h-2zM42 9h1v1h-1zM56 9h2v1h-2zM20 13h2v1h-2zM32 13h1v1h-1zM41 13h1v1h-1zM45 13h6v1h-6zM54 13h1v1h-1zM56 13h4v1h-4zM0 14h1v1h-1zM6 14h1v1h-1zM12 14h2v1h-2zM23 14h1v1h-1zM26 14h1v1h-1zM29 14h3v1h-3zM43 14h2v1h-2zM51 14h1v1h-1zM8 15h2v1h-2zM12 15h1v1h-1zM17 15h1v1h-1zM22 15h1v1h-1zM31 15h1v1h-1zM43 15h2v1h-2zM46 15h2v1h-2zM8 16h2v1h-2zM12 16h1v1h-1zM17 16h1v1h-1zM22 16h1v1h-1zM31 16h1v1h-1zM43 16h2v1h-2zM46 16h2v1h-2zM2 17h1v1h-1zM15 17h4v1h-4zM27 17h1v1h-1zM33 17h2v1h-2zM0 18h1v1h-1zM4 18h1v1h-1zM8 18h1v1h-1zM12 18h6v1h-6zM29 18h4v1h-4zM40 18h2v1h-2zM45 18h1v1h-1zM0 19h4v1h-4zM28 19h1v1h-1zM30 19h3v1h-3zM50 19h2v1h-2zM4 21h3v1h-3zM9 21h1v1h-1zM26 21h2v1h-2zM35 21h1v1h-1zM51 21h1v1h-1zM58 21h2v1h-2zM3 22h2v1h-2zM7 22h2v1h-2zM22 22h3v1h-3zM7 23h2v1h-2zM14 23h1v1h-1zM21 23h1v1h-1zM23 23h3v1h-3zM33 23h1v1h-1zM40 23h1v1h-1zM49 23h3v1h-3zM5 24h2v1h-2zM8 24h1v1h-1zM29 24h5v1h-5zM50 24h2v1h-2zM56 24h2v1h-2zM59 24h1v1h-1zM12 25h2v1h-2zM17 25h2v1h-2zM26 25h1v1h-1zM2 26h2v1h-2zM10 26h1v1h-1zM15 26h2v1h-2zM20 26h2v1h-2zM37 26h4v1h-4zM47 26h1v1h-1zM56 26h2v1h-2zM0 27h2v1h-2zM4 27h5v1h-5zM27 27h1v1h-1zM48 27h1v1h-1zM0 28h1v1h-1zM13 28h2v1h-2zM17 28h1v1h-1zM47 28h5v1h-5zM58 28h1v1h-1zM7 30h3v1h-3zM13 30h1v1h-1zM23 30h1v1h-1zM27 30h3v1h-3zM36 30h1v1h-1zM38 30h1v1h-1zM7 31h3v1h-3zM13 31h1v1h-1zM23 31h1v1h-1zM27 31h3v1h-3zM36 31h1v1h-1zM38 31h1v1h-1zM6 32h1v1h-1zM24 32h1v1h-1zM27 32h2v1h-2zM35 32h1v1h-1zM25 33h3v1h-3zM6 34h4v1h-4zM16 34h1v1h-1zM32 34h2v1h-2zM37 34h1v1h-1zM42 34h2v1h-2zM53 34h2v1h-2zM56 34h1v1h-1zM19 35h2v1h-2zM12 36h1v1h-1zM14 36h1v1h-1zM20 36h1v1h-1zM36 36h2v1h-2zM48 36h2v1h-2zM52 36h3v1h-3zM58 38h2v1h-2zM8 39h1v1h-1zM40 39h3v1h-3zM54 39h1v1h-1zM12 40h2v1h-2zM20 40h1v1h-1zM35 40h1v1h-1zM38 40h1v1h-1zM43 40h1v1h-1zM11 41h1v1h-1zM20 41h2v1h-2zM24 41h1v1h-1zM26 41h1v1h-1zM39 41h5v1h-5zM49 41h1v1h-1zM2 42h1v1h-1zM8 42h2v1h-2zM12 42h2v1h-2zM15 42h2v1h-2zM21 42h3v1h-3zM31 42h1v1h-1zM35 42h8v1h-8zM50 42h1v1h-1zM52 42h3v1h-3z"/><path fill="#dcdcdc" d="M36 1h1v1h-1zM3 2h2v1h-2zM54 5h1v1h-1zM58 9h2v1h-2zM47 33h1v1h-1zM21 34h1v1h-1zM57 35h1v1h-1z"/><path fill="#fcfcfc" d="M2 2h1v1h-1zM42 2h1v1h-1zM47 2h1v1h-1zM1 3h1v1h-1zM54 3h1v1h-1zM59 3h1v1h-1zM10 5h1v1h-1zM32 5h1v1h-1zM51 5h1v1h-1zM55 5h1v1h-1zM59 5h1v1h-1zM9 6h1v1h-1zM11 6h1v1h-1zM17 6h2v1h-2zM21 6h2v1h-2zM33 6h1v1h-1zM35 6h1v1h-1zM59 6h1v1h-1zM0 8h5v1h-5zM14 8h1v1h-1zM8 9h1v1h-1zM16 9h1v1h-1zM27 9h1v1h-1zM38 9h1v1h-1zM44 9h3v1h-3zM57 10h2v1h-2zM57 11h2v1h-2zM57 12h2v1h-2zM9 13h4v1h-4zM34 13h1v1h-1zM8 14h2v1h-2zM11 14h1v1h-1zM49 14h1v1h-1zM55 14h2v1h-2zM57 15h1v1h-1zM57 16h1v1h-1zM3 17h1v1h-1zM20 17h1v1h-1zM30 17h3v1h-3zM35 17h1v1h-1zM50 17h2v1h-2zM59 17h1v1h-1zM1 18h3v1h-3zM9 18h1v1h-1zM11 18h1v1h-1zM34 18h1v1h-1zM37 18h2v1h-2zM44 18h1v1h-1zM47 18h1v1h-1zM5 19h2v1h-2zM8 19h1v1h-1zM33 19h1v1h-1zM4 20h5v1h-5zM12 20h3v1h-3zM22 20h1v1h-1zM32 20h1v1h-1zM7 21h2v1h-2zM14 21h2v1h-2zM23 21h2v1h-2zM30 21h2v1h-2zM38 21h1v1h-1zM41 21h1v1h-1zM45 21h1v1h-1zM49 21h2v1h-2zM52 21h3v1h-3zM56 21h1v1h-1zM49 22h1v1h-1zM52 22h1v1h-1zM0 23h7v1h-7zM19 23h1v1h-1zM28 23h1v1h-1zM30 23h3v1h-3zM42 23h1v1h-1zM53 23h3v1h-3zM57 23h3v1h-3zM9 24h1v1h-1zM26 24h1v1h-1zM2 25h2v1h-2zM21 25h2v1h-2zM28 25h1v1h-1zM33 25h2v1h-2zM37 25h1v1h-1zM50 25h1v1h-1zM11 26h1v1h-1zM29 26h1v1h-1zM52 26h1v1h-1zM28 27h1v1h-1zM33 27h2v1h-2zM38 27h1v1h-1zM44 27h2v1h-2zM50 27h2v1h-2zM58 27h2v1h-2zM3 28h1v1h-1zM24 28h2v1h-2zM4 30h1v1h-1zM19 30h4v1h-4zM24 30h2v1h-2zM30 30h2v1h-2zM37 30h1v1h-1zM42 30h3v1h-3zM48 30h2v1h-2zM51 30h3v1h-3zM4 31h1v1h-1zM19 31h4v1h-4zM24 31h2v1h-2zM30 31h2v1h-2zM37 31h1v1h-1zM42 31h3v1h-3zM48 31h2v1h-2zM51 31h3v1h-3zM9 32h2v1h-2zM21 32h1v1h-1zM26 32h1v1h-1zM37 32h2v1h-2zM22 34h5v1h-5zM45 34h1v1h-1zM47 34h3v1h-3zM58 34h2v1h-2zM0 35h4v1h-4zM9 35h1v1h-1zM11 35h7v1h-7zM29 35h1v1h-1zM37 35h4v1h-4zM43 35h7v1h-7zM52 35h1v1h-1zM0 36h1v1h-1zM33 36h1v1h-1zM0 37h2v1h-2zM11 37h1v1h-1zM32 37h4v1h-4zM53 37h1v1h-1zM13 39h1v1h-1zM6 40h2v1h-2zM14 40h1v1h-1zM32 40h1v1h-1zM34 40h1v1h-1zM53 41h1v1h-1zM18 42h1v1h-1zM20 42h1v1h-1zM26 42h1v1h-1zM33 42h2v1h-2z"/><path fill="#ffffff" d="M13 2h2v1h-2zM48 2h1v1h-1zM53 2h1v1h-1zM0 6h2v1h-2zM3 6h3v1h-3zM7 6h2v1h-2zM13 6h2v1h-2zM16 6h1v1h-1zM20 6h1v1h-1zM28 6h2v1h-2zM37 6h1v1h-1zM39 6h2v1h-2zM42 6h1v1h-1zM44 6h7v1h-7zM52 6h4v1h-4zM57 6h2v1h-2zM32 9h1v1h-1zM28 13h1v1h-1zM57 14h1v1h-1zM0 17h2v1h-2zM4 17h1v1h-1zM12 17h1v1h-1zM21 17h1v1h-1zM28 17h2v1h-2zM40 17h1v1h-1zM43 17h1v1h-1zM54 17h5v1h-5zM19 18h1v1h-1zM52 18h1v1h-1zM9 19h3v1h-3zM13 19h3v1h-3zM17 19h5v1h-5zM24 19h3v1h-3zM34 19h3v1h-3zM38 19h3v1h-3zM43 19h5v1h-5zM55 19h1v1h-1zM57 19h3v1h-3zM0 20h3v1h-3zM10 20h2v1h-2zM16 20h3v1h-3zM20 20h2v1h-2zM24 20h4v1h-4zM29 20h2v1h-2zM33 20h2v1h-2zM36 20h1v1h-1zM38 20h1v1h-1zM40 20h6v1h-6zM47 20h2v1h-2zM51 20h5v1h-5zM58 20h1v1h-1zM12 21h2v1h-2zM16 21h3v1h-3zM20 21h1v1h-1zM36 21h2v1h-2zM39 21h2v1h-2zM11 23h1v1h-1zM13 23h1v1h-1zM17 23h1v1h-1zM20 23h1v1h-1zM35 23h3v1h-3zM44 23h1v1h-1zM56 23h1v1h-1zM1 25h1v1h-1zM4 25h8v1h-8zM15 25h1v1h-1zM19 25h1v1h-1zM23 25h2v1h-2zM29 25h4v1h-4zM38 25h3v1h-3zM45 25h1v1h-1zM47 25h2v1h-2zM51 25h9v1h-9zM12 26h1v1h-1zM2 27h2v1h-2zM9 27h2v1h-2zM19 27h7v1h-7zM29 27h4v1h-4zM35 27h1v1h-1zM40 27h3v1h-3zM47 27h1v1h-1zM52 27h1v1h-1zM55 27h1v1h-1zM15 28h2v1h-2zM0 30h1v1h-1zM6 30h1v1h-1zM10 30h3v1h-3zM15 30h2v1h-2zM40 30h2v1h-2zM0 31h1v1h-1zM6 31h1v1h-1zM10 31h3v1h-3zM15 31h2v1h-2zM40 31h2v1h-2zM31 32h2v1h-2zM0 33h1v1h-1zM6 33h3v1h-3zM10 33h1v1h-1zM14 33h1v1h-1zM17 33h2v1h-2zM20 33h2v1h-2zM23 33h2v1h-2zM34 33h2v1h-2zM37 33h4v1h-4zM44 33h1v1h-1zM49 33h2v1h-2zM53 33h5v1h-5zM41 34h1v1h-1zM5 35h4v1h-4zM21 35h1v1h-1zM28 35h1v1h-1zM35 35h2v1h-2zM42 35h1v1h-1zM50 35h2v1h-2zM54 35h3v1h-3zM59 35h1v1h-1zM5 36h1v1h-1zM50 36h1v1h-1zM2 37h2v1h-2zM12 37h1v1h-1zM15 37h1v1h-1zM20 37h8v1h-8zM29 37h1v1h-1zM37 37h2v1h-2zM40 37h6v1h-6zM48 37h1v1h-1zM50 37h3v1h-3zM54 37h5v1h-5zM15 40h1v1h-1zM56 42h2v1h-2z"/><path fill="#d8d8d8" d="M21 2h1v1h-1zM37 4h2v1h-2zM43 25h1v1h-1zM1 32h4v1h-4zM28 34h3v1h-3zM32 35h2v1h-2zM18 36h2v1h-2zM44 39h1v1h-1zM0 40h4v1h-4z"/><path fill="#d0d0d0" d="M0 9h2v1h-2zM48 18h2v1h-2zM56 27h2v1h-2z"/><path fill="#e0e0e0" d="M52 19h3v1h-3zM27 26h1v1h-1zM27 28h1v1h-1zM32 28h1v1h-1zM42 29h1v1h-1zM32 30h2v1h-2zM54 30h1v1h-1zM32 31h2v1h-2zM54 31h1v1h-1zM8 38h2v1h-2zM47 38h6v1h-6z"/></g><defs><linearGradient id="hcb0" x1="0" y1="0" x2="0" y2="1"><stop offset="0" stop-color="rgb(135,242,60)"/><stop offset="0.5" stop-color="#ffffff"/><stop offset="1" stop-color="#8c8c8c"/></linearGradient></defs><rect x="194.1" y="662.0" width="3.9" height="46.8" fill="url(#hcb0)"/><g transform="translate(218.10,457.00) scale(2.5000,5.9814)" shape-rendering="crispEdges"><rect width="60" height="43" fill="#f8f8f8"/><path fill="#f0f0f0" d="M0 0h3v1h-3zM10 0h1v1h-1zM47 0h1v1h-1zM56 0h1v1h-1zM58 0h1v1h-1zM0 1h2v1h-2zM44 1h2v1h-2zM56 1h1v1h-1zM5 2h1v1h-1zM9 2h1v1h-1zM15 2h1v1h-1zM24 2h1v1h-1zM41 2h2v1h-2zM48 2h1v1h-1zM51 2h2v1h-2zM24 3h1v1h-1zM37 3h2v1h-2zM47 3h1v1h-1zM9 4h2v1h-2zM44 4h1v1h-1zM6 5h1v1h-1zM8 5h2v1h-2zM13 5h4v1h-4zM32 5h1v1h-1zM37 5h2v1h-2zM0 6h2v1h-2zM10 6h3v1h-3zM16 6h1v1h-1zM49 6h3v1h-3zM55 6h1v1h-1zM8 7h1v1h-1zM33 7h3v1h-3zM6 8h6v1h-6zM17 8h1v1h-1zM26 8h1v1h-1zM33 8h1v1h-1zM39 8h1v1h-1zM41 8h1v1h-1zM43 8h1v1h-1zM55 8h2v1h-2zM9 9h1v1h-1zM9 10h1v1h-1zM9 11h1v1h-1zM9 12h1v1h-1zM3 14h2v1h-2zM39 14h4v1h-4zM1 15h4v1h-4zM58 15h1v1h-1zM9 16h3v1h-3zM37 16h2v1h-2zM12 17h1v1h-1zM40 17h1v1h-1zM45 17h1v1h-1zM53 17h1v1h-1zM0 18h1v1h-1zM24 18h3v1h-3zM38 18h3v1h-3zM55 18h1v1h-1zM3 19h1v1h-1zM12 19h1v1h-1zM14 19h2v1h-2zM18 19h1v1h-1zM37 19h2v1h-2zM59 19h1v1h-1zM7 20h2v1h-2zM20 20h3v1h-3zM27 20h1v1h-1zM29 20h3v1h-3zM34 20h1v1h-1zM36 20h2v1h-2zM39 20h1v1h-1zM48 20h3v1h-3zM7 21h2v1h-2zM20 21h3v1h-3zM27 21h1v1h-1zM29 21h3v1h-3zM34 21h1v1h-1zM36 21h2v1h-2zM39 21h1v1h-1zM48 21h3v1h-3zM13 24h4v1h-4zM28 24h1v1h-1zM31 24h1v1h-1zM35 24h1v1h-1zM44 24h1v1h-1zM0 25h1v1h-1zM32 25h1v1h-1zM50 25h1v1h-1zM19 26h2v1h-2zM22 26h1v1h-1zM25 26h2v1h-2zM32 26h1v1h-1zM1 28h3v1h-3zM11 28h1v1h-1zM29 28h2v1h-2zM39 28h1v1h-1zM43 28h4v1h-4zM16 29h1v1h-1zM24 29h1v1h-1zM32 29h2v1h-2zM51 29h2v1h-2zM28 30h2v1h-2zM42 30h1v1h-1zM1 31h1v1h-1zM8 31h1v1h-1zM15 31h9v1h-9zM25 31h1v1h-1zM27 31h1v1h-1zM32 31h1v1h-1zM38 31h1v1h-1zM58 31h1v1h-1zM13 32h3v1h-3zM23 32h1v1h-1zM29 32h1v1h-1zM34 32h1v1h-1zM55 32h1v1h-1zM1 33h2v1h-2zM20 33h1v1h-1zM31 33h1v1h-1zM34 33h2v1h-2zM45 33h1v1h-1zM50 33h6v1h-6zM1 34h3v1h-3zM26 34h1v1h-1zM31 34h1v1h-1zM36 34h4v1h-4zM0 35h1v1h-1zM11 35h1v1h-1zM19 35h1v1h-1zM27 35h1v1h-1zM37 35h1v1h-1zM56 35h1v1h-1zM58 35h2v1h-2zM5 36h2v1h-2zM19 36h1v1h-1zM24 36h3v1h-3zM28 36h6v1h-6zM43 36h1v1h-1zM47 36h3v1h-3zM52 36h2v1h-2zM6 37h1v1h-1zM9 37h1v1h-1zM12 37h1v1h-1zM21 37h1v1h-1zM31 37h1v1h-1zM33 37h2v1h-2zM41 37h1v1h-1zM44 37h1v1h-1zM51 37h1v1h-1zM6 39h3v1h-3zM32 39h1v1h-1zM41 39h1v1h-1zM52 39h1v1h-1zM13 40h1v1h-1zM0 41h5v1h-5zM14 41h1v1h-1zM25 41h2v1h-2zM31 41h2v1h-2zM40 41h1v1h-1zM46 41h1v1h-1zM52 41h1v1h-1zM17 42h1v1h-1z"/><path fill="#dcdcdc" d="M3 0h1v1h-1zM8 0h1v1h-1zM3 20h1v1h-1zM3 21h1v1h-1zM2 24h1v1h-1zM27 25h1v1h-1zM11 27h1v1h-1zM41 28h1v1h-1zM56 29h1v1h-1zM9 33h1v1h-1zM23 36h1v1h-1z"/><path fill="#5ee35e" d="M4 0h1v1h-1zM49 2h1v1h-1zM53 2h1v1h-1zM27 3h1v1h-1zM31 3h1v1h-1zM36 3h1v1h-1zM40 3h1v1h-1zM44 3h1v1h-1zM46 3h1v1h-1zM57 3h1v1h-1zM18 4h2v1h-2zM22 4h1v1h-1zM28 4h1v1h-1zM31 4h1v1h-1zM36 4h1v1h-1zM43 4h1v1h-1zM26 5h1v1h-1zM19 6h2v1h-2zM30 6h1v1h-1zM34 6h1v1h-1zM22 7h1v1h-1zM0 8h1v1h-1zM23 8h3v1h-3zM24 9h1v1h-1zM30 9h1v1h-1zM24 10h1v1h-1zM30 10h1v1h-1zM24 11h1v1h-1zM30 11h1v1h-1zM24 12h1v1h-1zM30 12h1v1h-1zM31 13h1v1h-1zM25 14h1v1h-1zM22 15h1v1h-1zM24 15h2v1h-2zM34 15h1v1h-1zM3 16h1v1h-1zM42 17h2v1h-2zM34 18h1v1h-1zM30 22h1v1h-1zM7 23h1v1h-1zM24 23h1v1h-1zM19 24h1v1h-1zM29 24h1v1h-1zM33 25h1v1h-1zM18 26h1v1h-1zM27 26h1v1h-1zM30 26h1v1h-1zM33 26h1v1h-1zM20 27h1v1h-1zM21 28h1v1h-1zM10 29h1v1h-1zM27 29h1v1h-1zM35 29h1v1h-1zM37 31h1v1h-1zM26 35h1v1h-1zM47 38h1v1h-1zM53 42h1v1h-1z"/><path fill="#fcfcfc" d="M5 0h1v1h-1zM11 0h3v1h-3zM1 3h1v1h-1zM6 3h1v1h-1zM9 3h2v1h-2zM13 3h1v1h-1zM35 3h1v1h-1zM59 3h1v1h-1zM40 4h2v1h-2zM48 4h2v1h-2zM55 4h1v1h-1zM19 5h1v1h-1zM49 5h1v1h-1zM52 5h3v1h-3zM10 9h1v1h-1zM25 9h1v1h-1zM47 9h2v1h-2zM52 9h3v1h-3zM10 10h1v1h-1zM25 10h1v1h-1zM47 10h2v1h-2zM52 10h3v1h-3zM10 11h1v1h-1zM25 11h1v1h-1zM47 11h2v1h-2zM52 11h3v1h-3zM10 12h1v1h-1zM25 12h1v1h-1zM47 12h2v1h-2zM52 12h3v1h-3zM0 13h1v1h-1zM6 13h3v1h-3zM14 13h1v1h-1zM25 13h3v1h-3zM9 14h6v1h-6zM16 14h4v1h-4zM43 14h4v1h-4zM57 14h3v1h-3zM0 15h1v1h-1zM5 15h1v1h-1zM30 15h1v1h-1zM36 15h2v1h-2zM51 15h5v1h-5zM4 16h1v1h-1zM13 16h2v1h-2zM41 16h1v1h-1zM44 16h1v1h-1zM48 16h1v1h-1zM52 16h1v1h-1zM9 17h1v1h-1zM15 17h2v1h-2zM49 17h3v1h-3zM57 17h1v1h-1zM2 18h3v1h-3zM7 18h1v1h-1zM18 18h1v1h-1zM41 18h1v1h-1zM50 18h5v1h-5zM48 19h2v1h-2zM9 20h5v1h-5zM41 20h1v1h-1zM45 20h3v1h-3zM9 21h5v1h-5zM41 21h1v1h-1zM45 21h3v1h-3zM15 22h4v1h-4zM23 22h1v1h-1zM25 22h4v1h-4zM38 22h3v1h-3zM42 22h2v1h-2zM48 22h1v1h-1zM3 23h3v1h-3zM8 23h3v1h-3zM19 23h2v1h-2zM26 23h1v1h-1zM28 23h1v1h-1zM30 23h2v1h-2zM36 23h1v1h-1zM56 23h3v1h-3zM20 24h1v1h-1zM38 24h2v1h-2zM5 26h3v1h-3zM9 26h2v1h-2zM24 26h1v1h-1zM34 26h1v1h-1zM41 26h1v1h-1zM56 26h2v1h-2zM1 27h2v1h-2zM7 27h1v1h-1zM35 27h4v1h-4zM40 27h4v1h-4zM45 27h2v1h-2zM14 30h2v1h-2zM22 30h3v1h-3zM30 30h2v1h-2zM51 30h9v1h-9zM34 31h2v1h-2zM18 32h1v1h-1zM41 32h1v1h-1zM56 32h4v1h-4zM5 35h2v1h-2zM13 38h1v1h-1zM26 38h1v1h-1zM30 38h1v1h-1zM37 38h2v1h-2zM51 38h3v1h-3zM57 38h3v1h-3zM1 39h2v1h-2zM15 39h1v1h-1zM34 39h3v1h-3zM39 39h1v1h-1zM44 39h2v1h-2zM4 40h2v1h-2zM14 40h2v1h-2zM41 40h1v1h-1zM48 40h1v1h-1zM50 40h2v1h-2zM58 40h2v1h-2zM17 41h2v1h-2zM23 41h1v1h-1zM43 41h1v1h-1zM50 41h2v1h-2zM8 42h1v1h-1zM15 42h1v1h-1zM25 42h1v1h-1zM33 42h1v1h-1zM38 42h1v1h-1zM46 42h1v1h-1zM59 42h1v1h-1z"/><path fill="#baf3ba" d="M6 0h1v1h-1zM17 0h1v1h-1zM42 1h1v1h-1zM42 4h1v1h-1zM50 4h1v1h-1zM36 5h1v1h-1zM41 5h1v1h-1zM11 9h1v1h-1zM56 9h1v1h-1zM11 10h1v1h-1zM56 10h1v1h-1zM11 11h1v1h-1zM56 11h1v1h-1zM11 12h1v1h-1zM56 12h1v1h-1zM8 14h1v1h-1zM36 14h1v1h-1zM57 15h1v1h-1zM2 17h2v1h-2zM17 18h1v1h-1zM19 18h1v1h-1zM0 19h1v1h-1zM52 20h1v1h-1zM52 21h1v1h-1zM29 22h1v1h-1zM33 22h1v1h-1zM37 23h1v1h-1zM4 24h1v1h-1zM4 25h1v1h-1zM26 25h1v1h-1zM42 25h1v1h-1zM14 26h1v1h-1zM50 27h1v1h-1zM38 28h1v1h-1zM52 28h1v1h-1zM40 29h1v1h-1zM42 29h1v1h-1zM49 29h1v1h-1zM57 29h1v1h-1zM59 29h1v1h-1zM5 30h1v1h-1zM35 30h1v1h-1zM3 32h1v1h-1zM39 32h1v1h-1zM44 32h1v1h-1zM48 32h1v1h-1zM21 33h1v1h-1zM14 34h1v1h-1zM18 34h1v1h-1zM7 35h2v1h-2zM43 35h1v1h-1zM45 35h1v1h-1zM54 35h1v1h-1zM16 36h1v1h-1zM55 36h1v1h-1zM57 36h1v1h-1zM16 37h1v1h-1zM43 37h1v1h-1zM14 38h2v1h-2zM27 38h1v1h-1zM29 38h1v1h-1zM38 39h1v1h-1zM40 39h1v1h-1zM17 40h1v1h-1zM21 40h1v1h-1zM49 40h1v1h-1zM6 41h1v1h-1zM36 41h1v1h-1zM22 42h1v1h-1z"/><path fill="#f4f4f4" d="M9 0h1v1h-1zM14 0h3v1h-3zM10 2h2v1h-2zM16 2h1v1h-1zM43 2h3v1h-3zM47 2h1v1h-1zM5 3h1v1h-1zM12 3h1v1h-1zM15 3h3v1h-3zM0 4h2v1h-2zM3 4h2v1h-2zM37 4h1v1h-1zM59 4h1v1h-1zM4 5h1v1h-1zM24 5h1v1h-1zM28 5h1v1h-1zM43 5h1v1h-1zM45 5h1v1h-1zM50 5h2v1h-2zM22 6h1v1h-1zM38 6h1v1h-1zM56 6h3v1h-3zM31 7h2v1h-2zM50 7h1v1h-1zM55 7h1v1h-1zM1 8h2v1h-2zM4 8h1v1h-1zM29 8h1v1h-1zM36 8h1v1h-1zM42 8h1v1h-1zM45 8h2v1h-2zM50 8h1v1h-1zM52 8h2v1h-2zM57 8h2v1h-2zM0 9h1v1h-1zM4 9h1v1h-1zM7 9h1v1h-1zM32 9h1v1h-1zM34 9h2v1h-2zM37 9h2v1h-2zM0 10h1v1h-1zM4 10h1v1h-1zM7 10h1v1h-1zM32 10h1v1h-1zM34 10h2v1h-2zM37 10h2v1h-2zM0 11h1v1h-1zM4 11h1v1h-1zM7 11h1v1h-1zM32 11h1v1h-1zM34 11h2v1h-2zM37 11h2v1h-2zM0 12h1v1h-1zM4 12h1v1h-1zM7 12h1v1h-1zM32 12h1v1h-1zM34 12h2v1h-2zM37 12h2v1h-2zM16 13h1v1h-1zM38 13h1v1h-1zM44 13h1v1h-1zM57 13h1v1h-1zM0 14h2v1h-2zM22 14h1v1h-1zM32 14h1v1h-1zM34 14h2v1h-2zM6 15h4v1h-4zM11 15h2v1h-2zM31 15h2v1h-2zM45 15h1v1h-1zM50 15h1v1h-1zM2 16h1v1h-1zM8 16h1v1h-1zM18 16h1v1h-1zM25 16h2v1h-2zM33 16h3v1h-3zM40 16h1v1h-1zM46 16h2v1h-2zM50 16h1v1h-1zM54 16h1v1h-1zM59 16h1v1h-1zM5 17h4v1h-4zM18 17h1v1h-1zM20 17h2v1h-2zM24 17h2v1h-2zM35 17h2v1h-2zM54 17h2v1h-2zM58 17h1v1h-1zM11 18h5v1h-5zM21 18h1v1h-1zM27 18h3v1h-3zM35 18h3v1h-3zM44 18h1v1h-1zM57 18h3v1h-3zM1 19h2v1h-2zM8 19h1v1h-1zM10 19h2v1h-2zM31 19h3v1h-3zM43 19h2v1h-2zM46 19h2v1h-2zM53 19h1v1h-1zM6 20h1v1h-1zM51 20h1v1h-1zM56 20h4v1h-4zM6 21h1v1h-1zM51 21h1v1h-1zM56 21h4v1h-4zM5 24h2v1h-2zM10 24h3v1h-3zM22 24h1v1h-1zM45 24h1v1h-1zM54 24h1v1h-1zM11 25h3v1h-3zM17 25h4v1h-4zM23 25h2v1h-2zM34 25h2v1h-2zM45 25h2v1h-2zM2 26h2v1h-2zM31 26h1v1h-1zM35 26h2v1h-2zM38 26h1v1h-1zM46 26h5v1h-5zM55 26h1v1h-1zM56 27h4v1h-4zM22 28h2v1h-2zM23 29h1v1h-1zM43 29h1v1h-1zM50 29h1v1h-1zM1 30h3v1h-3zM11 30h1v1h-1zM20 30h1v1h-1zM34 30h1v1h-1zM43 30h3v1h-3zM50 30h1v1h-1zM5 31h3v1h-3zM12 31h2v1h-2zM36 31h1v1h-1zM40 31h2v1h-2zM49 31h2v1h-2zM0 32h1v1h-1zM5 32h1v1h-1zM11 32h2v1h-2zM19 32h1v1h-1zM26 32h1v1h-1zM32 32h2v1h-2zM36 32h1v1h-1zM38 32h1v1h-1zM45 32h3v1h-3zM7 33h2v1h-2zM18 33h1v1h-1zM29 33h2v1h-2zM33 33h1v1h-1zM0 34h1v1h-1zM22 34h4v1h-4zM32 34h2v1h-2zM4 35h1v1h-1zM10 35h1v1h-1zM21 35h1v1h-1zM29 35h5v1h-5zM46 35h1v1h-1zM20 36h3v1h-3zM46 36h1v1h-1zM50 36h1v1h-1zM2 37h2v1h-2zM7 37h1v1h-1zM11 37h1v1h-1zM20 37h1v1h-1zM36 37h1v1h-1zM40 37h1v1h-1zM45 37h5v1h-5zM2 38h1v1h-1zM28 38h1v1h-1zM31 38h3v1h-3zM35 38h2v1h-2zM45 38h1v1h-1zM54 38h2v1h-2zM4 39h1v1h-1zM19 39h1v1h-1zM26 39h1v1h-1zM43 39h1v1h-1zM48 39h2v1h-2zM1 40h1v1h-1zM6 40h1v1h-1zM16 40h1v1h-1zM32 40h1v1h-1zM38 40h3v1h-3zM13 41h1v1h-1zM15 41h1v1h-1zM20 41h3v1h-3zM24 41h1v1h-1zM33 41h1v1h-1zM38 41h2v1h-2zM42 41h1v1h-1zM45 41h1v1h-1zM48 41h1v1h-1zM58 41h2v1h-2zM10 42h1v1h-1zM26 42h3v1h-3zM37 42h1v1h-1zM56 42h1v1h-1z"/><path fill="#19d719" d="M18 0h1v1h-1zM24 0h1v1h-1zM26 0h1v1h-1zM28 0h1v1h-1zM35 0h1v1h-1zM22 1h1v1h-1zM24 1h1v1h-1zM27 1h1v1h-1zM34 1h1v1h-1zM38 1h2v1h-2zM21 2h1v1h-1zM23 2h1v1h-1zM26 2h1v1h-1zM29 2h1v1h-1zM35 2h1v1h-1zM23 3h1v1h-1zM28 3h1v1h-1zM32 3h2v1h-2zM24 4h1v1h-1zM33 4h1v1h-1zM30 13h1v1h-1zM32 13h1v1h-1z"/><path fill="#2fdb2f" d="M19 0h5v1h-5zM25 0h1v1h-1zM27 0h1v1h-1zM29 0h6v1h-6zM36 0h5v1h-5zM18 1h4v1h-4zM23 1h1v1h-1zM25 1h2v1h-2zM28 1h6v1h-6zM35 1h3v1h-3zM40 1h1v1h-1zM18 2h3v1h-3zM22 2h1v1h-1zM25 2h1v1h-1zM27 2h2v1h-2zM30 2h5v1h-5zM36 2h5v1h-5zM21 3h2v1h-2zM35 4h1v1h-1zM38 4h2v1h-2zM28 6h1v1h-1zM18 7h2v1h-2zM24 7h1v1h-1zM40 9h1v1h-1zM40 10h1v1h-1zM40 11h1v1h-1zM40 12h1v1h-1zM33 13h1v1h-1zM36 13h1v1h-1zM40 13h1v1h-1zM31 14h1v1h-1zM17 16h1v1h-1zM31 16h1v1h-1zM23 17h1v1h-1zM41 17h1v1h-1zM33 20h1v1h-1zM33 21h1v1h-1zM26 24h1v1h-1zM37 26h1v1h-1zM19 28h1v1h-1zM24 28h1v1h-1zM28 28h1v1h-1zM22 32h1v1h-1z"/><path fill="#75e775" d="M41 0h1v1h-1zM12 1h1v1h-1zM49 1h1v1h-1zM50 2h1v1h-1zM18 3h1v1h-1zM21 4h1v1h-1zM23 4h1v1h-1zM26 4h2v1h-2zM18 5h1v1h-1zM33 5h1v1h-1zM15 6h1v1h-1zM26 6h2v1h-2zM33 6h1v1h-1zM44 6h1v1h-1zM2 7h1v1h-1zM20 7h1v1h-1zM3 8h1v1h-1zM5 8h1v1h-1zM16 8h1v1h-1zM21 8h1v1h-1zM27 8h2v1h-2zM44 8h1v1h-1zM20 9h1v1h-1zM26 9h1v1h-1zM33 9h1v1h-1zM41 9h1v1h-1zM20 10h1v1h-1zM26 10h1v1h-1zM33 10h1v1h-1zM41 10h1v1h-1zM20 11h1v1h-1zM26 11h1v1h-1zM33 11h1v1h-1zM41 11h1v1h-1zM20 12h1v1h-1zM26 12h1v1h-1zM33 12h1v1h-1zM41 12h1v1h-1zM29 14h1v1h-1zM33 14h1v1h-1zM38 14h1v1h-1zM10 15h1v1h-1zM41 15h1v1h-1zM43 15h1v1h-1zM15 16h1v1h-1zM42 16h1v1h-1zM10 17h1v1h-1zM26 17h1v1h-1zM1 18h1v1h-1zM31 18h3v1h-3zM43 18h1v1h-1zM17 19h1v1h-1zM18 20h1v1h-1zM23 20h1v1h-1zM25 20h1v1h-1zM18 21h1v1h-1zM23 21h1v1h-1zM25 21h1v1h-1zM21 22h1v1h-1zM34 22h1v1h-1zM41 22h1v1h-1zM41 24h1v1h-1zM53 24h1v1h-1zM59 24h1v1h-1zM10 25h1v1h-1zM28 25h1v1h-1zM19 27h1v1h-1zM28 27h1v1h-1zM0 28h1v1h-1zM40 28h1v1h-1zM25 29h1v1h-1zM41 30h1v1h-1zM0 31h1v1h-1zM26 31h1v1h-1zM30 32h1v1h-1zM40 32h1v1h-1zM52 32h1v1h-1zM46 34h1v1h-1zM47 35h1v1h-1zM15 36h1v1h-1zM1 37h1v1h-1zM4 37h2v1h-2zM17 37h2v1h-2zM32 37h1v1h-1zM47 40h1v1h-1zM10 41h1v1h-1z"/><path fill="#d1f7d1" d="M42 0h1v1h-1zM53 1h1v1h-1zM45 3h1v1h-1zM3 5h1v1h-1zM7 7h1v1h-1zM3 9h1v1h-1zM51 9h1v1h-1zM3 10h1v1h-1zM51 10h1v1h-1zM3 11h1v1h-1zM51 11h1v1h-1zM3 12h1v1h-1zM51 12h1v1h-1zM20 13h1v1h-1zM22 13h1v1h-1zM28 13h1v1h-1zM47 13h1v1h-1zM50 13h1v1h-1zM15 15h2v1h-2zM48 15h1v1h-1zM59 15h1v1h-1zM12 16h1v1h-1zM14 17h1v1h-1zM16 18h1v1h-1zM4 20h1v1h-1zM55 20h1v1h-1zM4 21h1v1h-1zM55 21h1v1h-1zM6 23h1v1h-1zM13 23h1v1h-1zM59 23h1v1h-1zM46 24h1v1h-1zM11 26h1v1h-1zM53 26h2v1h-2zM58 26h1v1h-1zM14 28h1v1h-1zM45 29h1v1h-1zM49 30h1v1h-1zM6 32h1v1h-1zM9 32h1v1h-1zM36 33h1v1h-1zM57 33h1v1h-1zM20 35h1v1h-1zM0 36h1v1h-1zM10 36h1v1h-1zM15 37h1v1h-1zM35 37h1v1h-1zM46 38h1v1h-1zM56 38h1v1h-1zM9 39h1v1h-1zM12 39h1v1h-1zM16 39h1v1h-1zM18 39h1v1h-1zM27 39h1v1h-1zM23 40h2v1h-2zM30 41h1v1h-1zM49 41h1v1h-1zM0 42h1v1h-1zM9 42h1v1h-1zM24 42h1v1h-1z"/><path fill="#ececec" d="M43 0h1v1h-1zM46 0h1v1h-1zM52 0h4v1h-4zM4 1h1v1h-1zM50 1h1v1h-1zM52 1h1v1h-1zM57 1h2v1h-2zM17 2h1v1h-1zM59 2h1v1h-1zM32 4h1v1h-1zM34 4h1v1h-1zM5 5h1v1h-1zM31 5h1v1h-1zM5 6h3v1h-3zM17 6h1v1h-1zM25 6h1v1h-1zM31 6h1v1h-1zM37 6h1v1h-1zM41 6h3v1h-3zM59 6h1v1h-1zM0 7h2v1h-2zM3 7h4v1h-4zM9 7h1v1h-1zM11 7h2v1h-2zM21 7h1v1h-1zM23 7h1v1h-1zM26 7h4v1h-4zM42 7h3v1h-3zM53 7h2v1h-2zM47 8h1v1h-1zM28 9h1v1h-1zM28 10h1v1h-1zM28 11h1v1h-1zM28 12h1v1h-1zM30 16h1v1h-1zM51 16h1v1h-1zM9 18h2v1h-2zM4 19h4v1h-4zM16 19h1v1h-1zM25 19h4v1h-4zM50 19h3v1h-3zM54 19h5v1h-5zM1 20h2v1h-2zM5 20h1v1h-1zM16 20h2v1h-2zM24 20h1v1h-1zM28 20h1v1h-1zM32 20h1v1h-1zM53 20h2v1h-2zM1 21h2v1h-2zM5 21h1v1h-1zM16 21h2v1h-2zM24 21h1v1h-1zM28 21h1v1h-1zM32 21h1v1h-1zM53 21h2v1h-2zM18 24h1v1h-1zM27 24h1v1h-1zM36 24h2v1h-2zM48 24h5v1h-5zM7 25h2v1h-2zM15 25h1v1h-1zM22 25h1v1h-1zM55 25h5v1h-5zM15 26h2v1h-2zM9 28h2v1h-2zM12 28h2v1h-2zM20 28h1v1h-1zM27 28h1v1h-1zM31 28h1v1h-1zM35 28h2v1h-2zM49 28h3v1h-3zM53 28h3v1h-3zM59 28h1v1h-1zM0 29h10v1h-10zM13 29h2v1h-2zM17 29h1v1h-1zM20 29h1v1h-1zM28 29h3v1h-3zM34 29h1v1h-1zM16 30h3v1h-3zM38 30h1v1h-1zM9 31h2v1h-2zM29 31h2v1h-2zM42 31h2v1h-2zM1 32h1v1h-1zM10 32h1v1h-1zM16 32h1v1h-1zM27 32h2v1h-2zM43 32h1v1h-1zM49 32h3v1h-3zM53 32h2v1h-2zM0 33h1v1h-1zM3 33h3v1h-3zM10 33h1v1h-1zM19 33h1v1h-1zM23 33h4v1h-4zM32 33h1v1h-1zM37 33h2v1h-2zM44 33h1v1h-1zM58 33h2v1h-2zM6 34h3v1h-3zM13 34h1v1h-1zM40 34h5v1h-5zM47 34h7v1h-7zM56 34h3v1h-3zM16 35h3v1h-3zM22 35h2v1h-2zM39 35h1v1h-1zM42 35h1v1h-1zM55 35h1v1h-1zM3 36h1v1h-1zM7 36h3v1h-3zM14 36h1v1h-1zM17 36h2v1h-2zM34 36h3v1h-3zM44 36h2v1h-2zM51 36h1v1h-1zM56 36h1v1h-1zM0 37h1v1h-1zM13 37h2v1h-2zM19 37h1v1h-1zM29 37h2v1h-2zM3 39h1v1h-1zM10 39h1v1h-1zM24 39h2v1h-2zM59 39h1v1h-1zM27 41h2v1h-2zM34 41h2v1h-2zM47 41h1v1h-1zM53 41h2v1h-2z"/><path fill="#d8d8d8" d="M44 0h1v1h-1zM42 5h1v1h-1zM55 5h2v1h-2zM19 8h1v1h-1zM12 9h1v1h-1zM12 10h1v1h-1zM12 11h1v1h-1zM12 12h1v1h-1zM12 13h2v1h-2zM5 16h2v1h-2zM56 16h1v1h-1zM17 17h1v1h-1zM34 19h2v1h-2zM0 24h2v1h-2zM23 24h3v1h-3zM25 30h1v1h-1zM54 31h4v1h-4zM44 35h1v1h-1zM58 37h2v1h-2zM54 39h1v1h-1zM7 40h2v1h-2z"/><path fill="#8ceb8c" d="M45 0h1v1h-1zM43 1h1v1h-1zM51 1h1v1h-1zM6 2h1v1h-1zM46 2h1v1h-1zM57 2h1v1h-1zM4 3h1v1h-1zM52 4h1v1h-1zM2 5h1v1h-1zM29 5h1v1h-1zM46 5h1v1h-1zM18 6h1v1h-1zM24 6h1v1h-1zM25 7h1v1h-1zM30 7h1v1h-1zM52 7h1v1h-1zM18 8h1v1h-1zM20 8h1v1h-1zM40 8h1v1h-1zM16 9h1v1h-1zM18 9h2v1h-2zM21 9h1v1h-1zM58 9h2v1h-2zM16 10h1v1h-1zM18 10h2v1h-2zM21 10h1v1h-1zM58 10h2v1h-2zM16 11h1v1h-1zM18 11h2v1h-2zM21 11h1v1h-1zM58 11h2v1h-2zM16 12h1v1h-1zM18 12h2v1h-2zM21 12h1v1h-1zM58 12h2v1h-2zM20 14h1v1h-1zM30 14h1v1h-1zM14 15h1v1h-1zM20 15h1v1h-1zM22 16h1v1h-1zM29 16h1v1h-1zM36 16h1v1h-1zM39 16h1v1h-1zM4 17h1v1h-1zM52 17h1v1h-1zM23 18h1v1h-1zM56 18h1v1h-1zM19 19h1v1h-1zM21 19h1v1h-1zM36 19h1v1h-1zM12 22h1v1h-1zM36 22h1v1h-1zM25 23h1v1h-1zM50 23h1v1h-1zM21 24h1v1h-1zM29 25h1v1h-1zM17 26h1v1h-1zM24 27h1v1h-1zM32 27h1v1h-1zM33 28h1v1h-1zM21 29h1v1h-1zM19 30h1v1h-1zM21 30h1v1h-1zM31 31h1v1h-1zM25 32h1v1h-1zM21 34h1v1h-1zM3 35h1v1h-1zM28 35h1v1h-1zM49 35h1v1h-1zM13 36h1v1h-1zM27 36h1v1h-1zM50 38h1v1h-1zM29 39h2v1h-2zM33 39h1v1h-1zM37 39h1v1h-1zM2 40h1v1h-1zM34 40h1v1h-1zM57 42h1v1h-1z"/><path fill="#e8e8e8" d="M48 0h4v1h-4zM6 1h6v1h-6zM13 1h1v1h-1zM15 1h3v1h-3zM5 4h2v1h-2zM2 6h3v1h-3zM35 6h2v1h-2zM46 6h3v1h-3zM52 6h3v1h-3zM13 7h1v1h-1zM36 7h1v1h-1zM45 7h1v1h-1zM47 7h2v1h-2zM51 7h1v1h-1zM56 7h3v1h-3zM12 8h3v1h-3zM22 8h1v1h-1zM32 8h1v1h-1zM48 8h2v1h-2zM46 15h2v1h-2zM13 19h1v1h-1zM39 19h1v1h-1zM7 24h2v1h-2zM25 25h1v1h-1zM30 25h2v1h-2zM36 25h2v1h-2zM41 25h1v1h-1zM43 25h1v1h-1zM51 25h3v1h-3zM5 28h3v1h-3zM15 28h3v1h-3zM32 28h1v1h-1zM57 28h2v1h-2zM22 29h1v1h-1zM37 29h3v1h-3zM44 29h1v1h-1zM55 29h1v1h-1zM7 32h2v1h-2zM24 32h1v1h-1zM13 33h3v1h-3zM17 33h1v1h-1zM27 33h2v1h-2zM39 33h5v1h-5zM46 33h3v1h-3zM56 33h1v1h-1zM4 34h1v1h-1zM9 34h1v1h-1zM15 34h3v1h-3zM27 34h2v1h-2zM34 34h1v1h-1zM59 34h1v1h-1zM1 35h2v1h-2zM34 35h3v1h-3zM50 35h2v1h-2zM11 36h2v1h-2zM37 36h5v1h-5zM27 37h2v1h-2zM50 37h1v1h-1zM29 41h1v1h-1zM55 41h1v1h-1z"/><path fill="#46df46" d="M57 0h1v1h-1zM59 0h1v1h-1zM25 3h2v1h-2zM30 3h1v1h-1zM34 3h1v1h-1zM51 3h1v1h-1zM20 4h1v1h-1zM25 4h1v1h-1zM30 4h1v1h-1zM51 4h1v1h-1zM20 5h1v1h-1zM25 5h1v1h-1zM27 5h1v1h-1zM35 5h1v1h-1zM23 6h1v1h-1zM30 8h2v1h-2zM35 8h1v1h-1zM27 9h1v1h-1zM36 9h1v1h-1zM27 10h1v1h-1zM36 10h1v1h-1zM27 11h1v1h-1zM36 11h1v1h-1zM27 12h1v1h-1zM36 12h1v1h-1zM34 13h1v1h-1zM37 13h1v1h-1zM39 13h1v1h-1zM26 14h1v1h-1zM28 14h1v1h-1zM28 15h1v1h-1zM19 17h1v1h-1zM22 17h1v1h-1zM27 17h2v1h-2zM20 19h1v1h-1zM26 20h1v1h-1zM43 20h1v1h-1zM26 21h1v1h-1zM43 21h1v1h-1zM19 22h1v1h-1zM27 23h1v1h-1zM17 24h1v1h-1zM43 24h1v1h-1zM21 25h1v1h-1zM38 25h1v1h-1zM40 25h1v1h-1zM44 25h1v1h-1zM21 26h1v1h-1zM34 28h1v1h-1zM37 28h1v1h-1zM41 29h1v1h-1zM27 30h1v1h-1zM33 31h1v1h-1zM17 32h1v1h-1z"/><path fill="#d4d4d4" d="M2 1h2v1h-2zM2 3h1v1h-1zM29 4h1v1h-1zM40 6h1v1h-1zM45 6h1v1h-1zM52 13h1v1h-1zM29 19h2v1h-2zM13 26h1v1h-1zM53 31h1v1h-1zM35 34h1v1h-1zM54 34h1v1h-1zM11 42h3v1h-3z"/><path fill="#e8fbe8" d="M5 1h1v1h-1zM14 1h1v1h-1zM8 2h1v1h-1zM14 3h1v1h-1zM2 4h1v1h-1zM10 5h1v1h-1zM17 5h1v1h-1zM44 5h1v1h-1zM17 7h1v1h-1zM41 7h1v1h-1zM46 7h1v1h-1zM49 7h1v1h-1zM15 8h1v1h-1zM1 9h1v1h-1zM1 10h1v1h-1zM1 11h1v1h-1zM1 12h1v1h-1zM4 13h1v1h-1zM9 13h1v1h-1zM15 13h1v1h-1zM53 13h1v1h-1zM55 13h2v1h-2zM58 13h1v1h-1zM5 14h1v1h-1zM15 14h1v1h-1zM49 15h1v1h-1zM0 16h2v1h-2zM49 16h1v1h-1zM55 16h1v1h-1zM11 17h1v1h-1zM46 17h3v1h-3zM56 17h1v1h-1zM59 17h1v1h-1zM45 18h1v1h-1zM9 19h1v1h-1zM45 19h1v1h-1zM0 20h1v1h-1zM14 20h2v1h-2zM0 21h1v1h-1zM14 21h2v1h-2zM13 22h1v1h-1zM59 22h1v1h-1zM11 23h1v1h-1zM9 25h1v1h-1zM14 25h1v1h-1zM49 25h1v1h-1zM54 25h1v1h-1zM0 26h1v1h-1zM8 26h1v1h-1zM12 26h1v1h-1zM59 26h1v1h-1zM8 27h1v1h-1zM4 28h1v1h-1zM8 28h1v1h-1zM48 29h1v1h-1zM53 29h1v1h-1zM58 29h1v1h-1zM48 30h1v1h-1zM14 31h1v1h-1zM46 31h1v1h-1zM51 31h1v1h-1zM2 32h1v1h-1zM4 32h1v1h-1zM16 33h1v1h-1zM22 33h1v1h-1zM49 33h1v1h-1zM12 34h1v1h-1zM19 34h1v1h-1zM29 34h2v1h-2zM45 34h1v1h-1zM55 34h1v1h-1zM13 35h1v1h-1zM38 35h1v1h-1zM57 35h1v1h-1zM4 36h1v1h-1zM42 36h1v1h-1zM10 37h1v1h-1zM37 37h1v1h-1zM42 37h1v1h-1zM16 38h1v1h-1zM22 38h1v1h-1zM42 38h1v1h-1zM44 38h1v1h-1zM48 38h1v1h-1zM42 39h1v1h-1zM3 40h1v1h-1zM9 40h1v1h-1zM33 40h1v1h-1zM53 40h1v1h-1zM5 41h1v1h-1zM16 41h1v1h-1zM19 41h1v1h-1zM41 41h1v1h-1zM44 41h1v1h-1zM14 42h1v1h-1zM16 42h1v1h-1zM20 42h1v1h-1z"/><path fill="#a3efa3" d="M41 1h1v1h-1zM46 1h1v1h-1zM55 1h1v1h-1zM59 1h1v1h-1zM4 2h1v1h-1zM54 2h1v1h-1zM58 2h1v1h-1zM3 3h1v1h-1zM11 3h1v1h-1zM50 3h1v1h-1zM53 4h1v1h-1zM58 4h1v1h-1zM21 5h1v1h-1zM57 5h1v1h-1zM21 6h1v1h-1zM32 6h1v1h-1zM39 6h1v1h-1zM10 7h1v1h-1zM38 8h1v1h-1zM51 8h1v1h-1zM54 8h1v1h-1zM8 9h1v1h-1zM17 9h1v1h-1zM22 9h1v1h-1zM42 9h1v1h-1zM8 10h1v1h-1zM17 10h1v1h-1zM22 10h1v1h-1zM42 10h1v1h-1zM8 11h1v1h-1zM17 11h1v1h-1zM22 11h1v1h-1zM42 11h1v1h-1zM8 12h1v1h-1zM17 12h1v1h-1zM22 12h1v1h-1zM42 12h1v1h-1zM24 13h1v1h-1zM49 13h1v1h-1zM59 13h1v1h-1zM17 15h1v1h-1zM23 15h1v1h-1zM44 15h1v1h-1zM56 15h1v1h-1zM19 16h1v1h-1zM43 16h1v1h-1zM13 17h1v1h-1zM29 17h1v1h-1zM20 18h1v1h-1zM22 18h1v1h-1zM40 19h1v1h-1zM35 20h1v1h-1zM40 20h1v1h-1zM42 20h1v1h-1zM35 21h1v1h-1zM40 21h1v1h-1zM42 21h1v1h-1zM24 22h1v1h-1zM56 22h1v1h-1zM29 23h1v1h-1zM42 23h1v1h-1zM53 23h1v1h-1zM6 25h1v1h-1zM47 25h1v1h-1zM4 26h1v1h-1zM9 27h1v1h-1zM21 27h1v1h-1zM18 28h1v1h-1zM15 29h1v1h-1zM31 29h1v1h-1zM10 30h1v1h-1zM20 32h1v1h-1zM35 32h1v1h-1zM37 32h1v1h-1zM11 33h2v1h-2zM5 34h1v1h-1zM48 35h1v1h-1zM54 36h1v1h-1zM39 38h1v1h-1zM5 39h1v1h-1zM13 39h1v1h-1zM31 39h1v1h-1zM22 40h1v1h-1zM42 40h1v1h-1zM19 42h1v1h-1zM32 42h1v1h-1zM41 42h1v1h-1z"/><path fill="#e4e4e4" d="M47 1h2v1h-2zM29 6h1v1h-1zM59 7h1v1h-1zM32 17h3v1h-3zM39 17h1v1h-1zM19 20h1v1h-1zM19 21h1v1h-1zM31 22h2v1h-2zM1 25h3v1h-3zM5 25h1v1h-1zM16 25h1v1h-1zM48 25h1v1h-1zM42 28h1v1h-1zM52 31h1v1h-1zM20 34h1v1h-1zM1 36h2v1h-2z"/><path fill="#ffffff" d="M19 3h2v1h-2zM7 4h2v1h-2zM11 4h1v1h-1zM7 5h1v1h-1zM12 5h1v1h-1zM22 5h2v1h-2zM47 5h2v1h-2zM5 9h1v1h-1zM44 9h3v1h-3zM49 9h1v1h-1zM5 10h1v1h-1zM44 10h3v1h-3zM49 10h1v1h-1zM5 11h1v1h-1zM44 11h3v1h-3zM49 11h1v1h-1zM5 12h1v1h-1zM44 12h3v1h-3zM49 12h1v1h-1zM2 13h1v1h-1zM5 13h1v1h-1zM23 13h1v1h-1zM42 13h2v1h-2zM48 13h1v1h-1zM54 13h1v1h-1zM21 14h1v1h-1zM27 14h1v1h-1zM37 14h1v1h-1zM48 14h3v1h-3zM52 14h3v1h-3zM26 15h2v1h-2zM27 16h2v1h-2zM37 17h2v1h-2zM22 19h3v1h-3zM8 22h2v1h-2zM14 22h1v1h-1zM20 22h1v1h-1zM22 22h1v1h-1zM35 22h1v1h-1zM37 22h1v1h-1zM44 22h4v1h-4zM49 22h3v1h-3zM53 22h3v1h-3zM57 22h2v1h-2zM0 23h3v1h-3zM12 23h1v1h-1zM14 23h3v1h-3zM18 23h1v1h-1zM21 23h3v1h-3zM32 23h1v1h-1zM35 23h1v1h-1zM38 23h4v1h-4zM43 23h7v1h-7zM51 23h2v1h-2zM54 23h1v1h-1zM1 26h1v1h-1zM0 27h1v1h-1zM4 27h3v1h-3zM10 27h1v1h-1zM12 27h6v1h-6zM23 27h1v1h-1zM25 27h3v1h-3zM29 27h2v1h-2zM33 27h2v1h-2zM39 27h1v1h-1zM44 27h1v1h-1zM47 27h3v1h-3zM51 27h5v1h-5zM26 30h1v1h-1zM57 37h1v1h-1zM1 38h1v1h-1zM3 38h4v1h-4zM21 38h1v1h-1zM24 38h2v1h-2zM34 38h1v1h-1zM43 38h1v1h-1zM10 40h2v1h-2zM35 40h3v1h-3zM2 42h5v1h-5zM18 42h1v1h-1zM23 42h1v1h-1zM39 42h2v1h-2z"/><path fill="#e0e0e0" d="M37 7h4v1h-4zM29 9h1v1h-1zM29 10h1v1h-1zM29 11h1v1h-1zM29 12h1v1h-1zM10 13h2v1h-2zM47 14h1v1h-1zM33 15h1v1h-1zM8 18h1v1h-1zM10 22h2v1h-2zM55 24h4v1h-4zM25 28h2v1h-2zM48 28h1v1h-1zM46 29h2v1h-2zM54 29h1v1h-1zM6 33h1v1h-1zM58 36h2v1h-2zM7 38h3v1h-3zM17 39h1v1h-1zM58 42h1v1h-1z"/></g><defs><linearGradient id="hcb1" x1="0" y1="0" x2="0" y2="1"><stop offset="0" stop-color="rgb(25,215,25)"/><stop offset="0.5" stop-color="#ffffff"/><stop offset="1" stop-color="#8c8c8c"/></linearGradient></defs><rect x="376.2" y="661.3" width="3.4" height="46.1" fill="url(#hcb1)"/><g transform="translate(398.90,455.50) scale(2.5000,5.9930)" shape-rendering="crispEdges"><rect width="60" height="43" fill="#f8f8f8"/><path fill="#f4f4f4" d="M0 0h1v1h-1zM13 0h3v1h-3zM36 0h2v1h-2zM42 0h1v1h-1zM57 0h2v1h-2zM4 1h1v1h-1zM40 1h1v1h-1zM42 1h1v1h-1zM46 1h1v1h-1zM53 1h4v1h-4zM0 2h1v1h-1zM3 2h1v1h-1zM10 2h3v1h-3zM19 2h1v1h-1zM37 2h5v1h-5zM53 2h1v1h-1zM56 2h4v1h-4zM26 3h3v1h-3zM0 4h2v1h-2zM14 4h1v1h-1zM19 4h1v1h-1zM29 4h1v1h-1zM44 4h1v1h-1zM47 4h1v1h-1zM56 4h1v1h-1zM8 5h6v1h-6zM15 5h1v1h-1zM41 5h1v1h-1zM55 5h2v1h-2zM59 5h1v1h-1zM15 7h3v1h-3zM20 7h1v1h-1zM29 7h1v1h-1zM31 7h1v1h-1zM33 7h1v1h-1zM36 7h1v1h-1zM39 7h1v1h-1zM41 7h1v1h-1zM45 7h8v1h-8zM0 8h1v1h-1zM5 8h1v1h-1zM9 8h1v1h-1zM14 8h1v1h-1zM21 8h2v1h-2zM1 9h1v1h-1zM9 9h1v1h-1zM25 9h1v1h-1zM35 9h2v1h-2zM55 9h1v1h-1zM58 9h2v1h-2zM1 10h1v1h-1zM9 10h1v1h-1zM25 10h1v1h-1zM35 10h2v1h-2zM55 10h1v1h-1zM58 10h2v1h-2zM1 11h1v1h-1zM9 11h1v1h-1zM25 11h1v1h-1zM35 11h2v1h-2zM55 11h1v1h-1zM58 11h2v1h-2zM1 12h1v1h-1zM9 12h1v1h-1zM25 12h1v1h-1zM35 12h2v1h-2zM55 12h1v1h-1zM58 12h2v1h-2zM0 13h1v1h-1zM2 13h3v1h-3zM18 13h2v1h-2zM24 13h1v1h-1zM33 13h1v1h-1zM54 13h3v1h-3zM0 14h3v1h-3zM19 14h2v1h-2zM29 14h1v1h-1zM50 14h3v1h-3zM7 15h1v1h-1zM11 15h1v1h-1zM22 15h1v1h-1zM45 15h1v1h-1zM47 15h1v1h-1zM51 15h2v1h-2zM15 16h1v1h-1zM25 16h1v1h-1zM47 16h1v1h-1zM55 16h2v1h-2zM15 17h1v1h-1zM25 17h1v1h-1zM47 17h1v1h-1zM55 17h2v1h-2zM16 18h3v1h-3zM23 18h1v1h-1zM31 18h1v1h-1zM53 18h4v1h-4zM10 19h7v1h-7zM54 19h1v1h-1zM33 20h4v1h-4zM31 21h1v1h-1zM38 21h3v1h-3zM4 22h2v1h-2zM16 22h1v1h-1zM22 22h1v1h-1zM58 22h1v1h-1zM4 23h2v1h-2zM14 23h1v1h-1zM25 23h1v1h-1zM28 23h1v1h-1zM34 23h1v1h-1zM42 23h1v1h-1zM44 23h1v1h-1zM47 23h9v1h-9zM57 23h1v1h-1zM59 23h1v1h-1zM0 24h2v1h-2zM9 24h5v1h-5zM15 24h1v1h-1zM17 24h1v1h-1zM49 24h3v1h-3zM55 24h2v1h-2zM32 25h1v1h-1zM4 28h1v1h-1zM8 28h1v1h-1zM11 28h2v1h-2zM14 28h1v1h-1zM0 29h1v1h-1zM3 29h1v1h-1zM13 29h1v1h-1zM20 29h1v1h-1zM24 29h1v1h-1zM28 29h1v1h-1zM31 29h2v1h-2zM36 29h1v1h-1zM41 29h1v1h-1zM47 29h2v1h-2zM54 29h1v1h-1zM56 29h2v1h-2zM27 30h2v1h-2zM55 30h2v1h-2zM35 31h1v1h-1zM37 31h3v1h-3zM50 32h1v1h-1zM0 33h2v1h-2zM8 33h1v1h-1zM10 33h1v1h-1zM14 33h3v1h-3zM26 33h1v1h-1zM40 33h1v1h-1zM53 33h2v1h-2zM21 34h1v1h-1zM28 34h3v1h-3zM15 35h1v1h-1zM45 35h1v1h-1zM53 35h1v1h-1zM0 36h1v1h-1zM10 36h1v1h-1zM14 36h1v1h-1zM21 36h2v1h-2zM27 36h1v1h-1zM46 36h1v1h-1zM49 36h1v1h-1zM56 36h2v1h-2zM59 36h1v1h-1zM0 37h1v1h-1zM2 37h1v1h-1zM11 37h4v1h-4zM20 37h1v1h-1zM22 37h2v1h-2zM37 37h1v1h-1zM45 37h1v1h-1zM50 37h1v1h-1zM56 37h1v1h-1zM4 38h2v1h-2zM8 38h1v1h-1zM13 38h1v1h-1zM17 38h3v1h-3zM25 38h1v1h-1zM38 38h1v1h-1zM45 38h3v1h-3zM57 38h1v1h-1zM0 39h1v1h-1zM10 39h6v1h-6zM20 39h2v1h-2zM23 39h1v1h-1zM26 39h6v1h-6zM33 39h3v1h-3zM41 39h2v1h-2zM48 39h5v1h-5zM56 39h3v1h-3zM8 40h1v1h-1zM10 40h1v1h-1zM33 40h4v1h-4zM41 40h1v1h-1zM50 40h2v1h-2zM48 41h4v1h-4zM19 42h2v1h-2zM26 42h1v1h-1zM28 42h2v1h-2zM31 42h3v1h-3zM37 42h3v1h-3zM42 42h2v1h-2zM56 42h3v1h-3z"/><path fill="#f0f0f0" d="M1 0h1v1h-1zM16 0h1v1h-1zM33 0h1v1h-1zM43 0h1v1h-1zM9 1h2v1h-2zM13 1h1v1h-1zM20 1h2v1h-2zM39 1h1v1h-1zM43 1h1v1h-1zM2 2h1v1h-1zM16 2h1v1h-1zM28 2h2v1h-2zM50 2h3v1h-3zM54 2h1v1h-1zM13 4h1v1h-1zM38 4h1v1h-1zM48 4h3v1h-3zM58 4h2v1h-2zM2 5h2v1h-2zM49 5h1v1h-1zM22 7h4v1h-4zM34 7h2v1h-2zM44 7h1v1h-1zM59 7h1v1h-1zM13 8h1v1h-1zM24 8h1v1h-1zM29 8h2v1h-2zM42 8h1v1h-1zM56 8h1v1h-1zM10 9h1v1h-1zM34 9h1v1h-1zM45 9h2v1h-2zM10 10h1v1h-1zM34 10h1v1h-1zM45 10h2v1h-2zM10 11h1v1h-1zM34 11h1v1h-1zM45 11h2v1h-2zM10 12h1v1h-1zM34 12h1v1h-1zM45 12h2v1h-2zM7 13h1v1h-1zM10 13h1v1h-1zM14 13h3v1h-3zM29 13h1v1h-1zM35 13h1v1h-1zM37 13h1v1h-1zM43 13h1v1h-1zM45 13h2v1h-2zM51 13h1v1h-1zM59 13h1v1h-1zM5 14h2v1h-2zM15 14h1v1h-1zM21 14h1v1h-1zM36 14h4v1h-4zM48 14h1v1h-1zM54 14h2v1h-2zM4 15h3v1h-3zM13 15h1v1h-1zM19 15h2v1h-2zM41 15h1v1h-1zM58 15h2v1h-2zM16 16h1v1h-1zM21 16h1v1h-1zM24 16h1v1h-1zM34 16h2v1h-2zM16 17h1v1h-1zM21 17h1v1h-1zM24 17h1v1h-1zM34 17h2v1h-2zM9 18h2v1h-2zM12 18h3v1h-3zM27 18h2v1h-2zM32 18h1v1h-1zM35 18h2v1h-2zM51 18h2v1h-2zM57 18h1v1h-1zM30 19h2v1h-2zM37 19h1v1h-1zM46 19h3v1h-3zM53 19h1v1h-1zM55 19h1v1h-1zM3 21h3v1h-3zM15 21h1v1h-1zM17 21h5v1h-5zM23 21h1v1h-1zM57 21h1v1h-1zM59 21h1v1h-1zM38 22h1v1h-1zM2 23h1v1h-1zM6 23h1v1h-1zM18 23h1v1h-1zM30 23h4v1h-4zM40 23h1v1h-1zM58 23h1v1h-1zM19 24h1v1h-1zM27 24h6v1h-6zM37 24h1v1h-1zM42 24h2v1h-2zM53 24h2v1h-2zM58 24h1v1h-1zM34 26h1v1h-1zM39 26h1v1h-1zM1 28h3v1h-3zM9 28h2v1h-2zM41 28h1v1h-1zM59 28h1v1h-1zM11 29h1v1h-1zM16 29h1v1h-1zM19 29h1v1h-1zM38 29h1v1h-1zM51 29h1v1h-1zM6 33h1v1h-1zM21 33h3v1h-3zM0 35h5v1h-5zM8 35h2v1h-2zM11 35h2v1h-2zM16 35h3v1h-3zM21 35h5v1h-5zM27 35h1v1h-1zM34 35h2v1h-2zM37 35h2v1h-2zM41 35h3v1h-3zM50 35h2v1h-2zM56 35h2v1h-2zM8 36h2v1h-2zM17 36h1v1h-1zM20 36h1v1h-1zM24 36h1v1h-1zM26 36h1v1h-1zM28 36h4v1h-4zM33 36h8v1h-8zM51 36h3v1h-3zM4 37h1v1h-1zM17 37h3v1h-3zM25 37h1v1h-1zM27 37h1v1h-1zM32 37h4v1h-4zM40 37h1v1h-1zM1 38h3v1h-3zM24 38h1v1h-1zM32 38h1v1h-1zM42 38h1v1h-1zM1 39h2v1h-2zM6 39h1v1h-1zM24 39h2v1h-2zM37 39h1v1h-1zM39 39h2v1h-2zM55 39h1v1h-1zM16 40h3v1h-3zM20 40h1v1h-1zM49 40h1v1h-1zM11 42h1v1h-1zM18 42h1v1h-1zM36 42h1v1h-1zM55 42h1v1h-1z"/><path fill="#f3f8eb" d="M2 0h1v1h-1zM38 0h1v1h-1zM45 0h1v1h-1zM5 1h1v1h-1zM11 1h1v1h-1zM47 1h1v1h-1zM52 1h1v1h-1zM43 2h1v1h-1zM37 3h1v1h-1zM7 4h1v1h-1zM39 4h1v1h-1zM37 6h1v1h-1zM52 6h1v1h-1zM0 7h1v1h-1zM10 7h1v1h-1zM18 7h2v1h-2zM21 7h1v1h-1zM38 7h1v1h-1zM43 7h1v1h-1zM53 7h1v1h-1zM23 8h1v1h-1zM25 8h1v1h-1zM53 8h1v1h-1zM8 9h1v1h-1zM47 9h1v1h-1zM8 10h1v1h-1zM47 10h1v1h-1zM8 11h1v1h-1zM47 11h1v1h-1zM8 12h1v1h-1zM47 12h1v1h-1zM1 13h1v1h-1zM3 14h1v1h-1zM7 14h1v1h-1zM16 14h1v1h-1zM32 14h1v1h-1zM35 14h1v1h-1zM40 14h1v1h-1zM46 14h1v1h-1zM57 14h2v1h-2zM44 15h1v1h-1zM56 15h2v1h-2zM5 16h1v1h-1zM9 16h1v1h-1zM19 16h2v1h-2zM23 16h1v1h-1zM41 16h1v1h-1zM45 16h1v1h-1zM5 17h1v1h-1zM9 17h1v1h-1zM19 17h2v1h-2zM23 17h1v1h-1zM41 17h1v1h-1zM45 17h1v1h-1zM19 18h2v1h-2zM22 18h1v1h-1zM29 18h1v1h-1zM39 18h2v1h-2zM0 19h1v1h-1zM23 19h1v1h-1zM33 19h1v1h-1zM38 19h1v1h-1zM44 19h1v1h-1zM9 20h1v1h-1zM25 20h1v1h-1zM51 20h1v1h-1zM9 21h1v1h-1zM0 22h1v1h-1zM57 22h1v1h-1zM13 23h1v1h-1zM14 24h1v1h-1zM48 24h1v1h-1zM10 25h1v1h-1zM19 25h1v1h-1zM40 25h1v1h-1zM44 25h1v1h-1zM49 25h1v1h-1zM55 25h1v1h-1zM6 26h1v1h-1zM4 27h1v1h-1zM7 27h1v1h-1zM39 27h1v1h-1zM43 27h1v1h-1zM51 27h1v1h-1zM58 27h1v1h-1zM0 28h1v1h-1zM6 28h2v1h-2zM29 28h1v1h-1zM31 28h1v1h-1zM46 28h1v1h-1zM5 29h1v1h-1zM10 29h1v1h-1zM25 29h1v1h-1zM39 29h2v1h-2zM55 29h1v1h-1zM10 30h1v1h-1zM23 30h2v1h-2zM26 30h1v1h-1zM47 30h2v1h-2zM21 31h1v1h-1zM24 31h1v1h-1zM41 31h1v1h-1zM5 32h1v1h-1zM44 32h1v1h-1zM49 32h1v1h-1zM2 33h1v1h-1zM5 33h1v1h-1zM9 33h1v1h-1zM36 33h1v1h-1zM41 33h1v1h-1zM55 33h2v1h-2zM12 34h1v1h-1zM16 34h1v1h-1zM25 34h1v1h-1zM38 34h1v1h-1zM42 34h2v1h-2zM5 35h1v1h-1zM31 35h1v1h-1zM32 36h1v1h-1zM48 36h1v1h-1zM6 37h1v1h-1zM39 37h1v1h-1zM48 37h1v1h-1zM20 38h1v1h-1zM31 38h1v1h-1zM56 38h1v1h-1zM18 39h1v1h-1zM32 39h1v1h-1zM36 39h1v1h-1zM45 39h1v1h-1zM19 40h1v1h-1zM24 40h1v1h-1zM26 40h1v1h-1zM40 40h1v1h-1zM48 40h1v1h-1zM9 41h1v1h-1zM45 41h1v1h-1zM47 41h1v1h-1zM8 42h1v1h-1z"/><path fill="#ececec" d="M3 0h6v1h-6zM46 0h2v1h-2zM6 1h1v1h-1zM25 1h1v1h-1zM28 1h1v1h-1zM37 1h2v1h-2zM41 1h1v1h-1zM45 1h1v1h-1zM6 2h4v1h-4zM45 2h2v1h-2zM21 4h1v1h-1zM26 4h1v1h-1zM40 4h1v1h-1zM42 4h1v1h-1zM57 4h1v1h-1zM0 5h2v1h-2zM4 5h1v1h-1zM6 5h2v1h-2zM46 5h3v1h-3zM51 5h2v1h-2zM12 7h3v1h-3zM6 8h1v1h-1zM12 8h1v1h-1zM15 8h1v1h-1zM26 8h1v1h-1zM28 8h1v1h-1zM38 8h1v1h-1zM49 8h1v1h-1zM54 8h1v1h-1zM57 8h2v1h-2zM5 13h1v1h-1zM21 13h1v1h-1zM40 13h2v1h-2zM27 14h2v1h-2zM59 14h1v1h-1zM0 15h2v1h-2zM27 15h1v1h-1zM39 15h1v1h-1zM48 15h3v1h-3zM53 15h2v1h-2zM5 18h2v1h-2zM34 18h1v1h-1zM38 18h1v1h-1zM1 19h5v1h-5zM18 19h5v1h-5zM27 19h3v1h-3zM35 19h1v1h-1zM39 19h5v1h-5zM50 19h2v1h-2zM56 19h2v1h-2zM0 21h3v1h-3zM8 21h1v1h-1zM10 21h2v1h-2zM13 21h2v1h-2zM25 21h4v1h-4zM30 21h1v1h-1zM32 21h6v1h-6zM41 21h7v1h-7zM52 21h4v1h-4zM0 23h2v1h-2zM12 23h1v1h-1zM15 23h1v1h-1zM17 23h1v1h-1zM19 23h2v1h-2zM45 23h2v1h-2zM12 29h1v1h-1zM28 35h1v1h-1zM32 35h2v1h-2zM46 35h1v1h-1zM55 35h1v1h-1zM58 35h2v1h-2zM5 37h1v1h-1zM21 37h1v1h-1zM51 37h5v1h-5zM6 42h2v1h-2zM13 42h1v1h-1zM21 42h4v1h-4zM53 42h1v1h-1z"/><path fill="#aece76" d="M9 0h1v1h-1zM26 0h1v1h-1zM28 0h1v1h-1zM32 0h1v1h-1zM34 0h2v1h-2zM53 0h1v1h-1zM2 1h1v1h-1zM17 1h1v1h-1zM34 2h2v1h-2zM55 2h1v1h-1zM24 3h1v1h-1zM22 4h2v1h-2zM27 4h1v1h-1zM30 4h2v1h-2zM30 5h1v1h-1zM17 6h1v1h-1zM30 6h1v1h-1zM16 9h1v1h-1zM16 10h1v1h-1zM16 11h1v1h-1zM16 12h1v1h-1zM21 15h1v1h-1zM36 15h1v1h-1zM43 15h1v1h-1zM44 16h1v1h-1zM44 17h1v1h-1zM11 18h1v1h-1zM23 22h1v1h-1zM29 23h1v1h-1zM26 25h1v1h-1zM33 25h1v1h-1zM35 25h1v1h-1zM27 26h1v1h-1zM36 26h1v1h-1zM59 27h1v1h-1zM18 28h1v1h-1zM53 29h1v1h-1zM56 32h1v1h-1zM59 32h1v1h-1zM15 36h1v1h-1zM24 37h1v1h-1zM31 37h1v1h-1zM43 37h1v1h-1zM37 38h1v1h-1zM34 41h1v1h-1zM38 41h1v1h-1z"/><path fill="#fcfcfc" d="M12 0h1v1h-1zM59 0h1v1h-1zM3 3h1v1h-1zM8 3h8v1h-8zM20 3h1v1h-1zM41 3h1v1h-1zM46 3h1v1h-1zM48 3h4v1h-4zM53 3h1v1h-1zM15 4h1v1h-1zM18 4h1v1h-1zM2 6h1v1h-1zM12 6h3v1h-3zM25 6h1v1h-1zM32 6h2v1h-2zM44 6h1v1h-1zM50 6h2v1h-2zM53 6h1v1h-1zM26 7h3v1h-3zM54 7h1v1h-1zM3 9h1v1h-1zM27 9h1v1h-1zM37 9h1v1h-1zM48 9h1v1h-1zM52 9h1v1h-1zM3 10h1v1h-1zM27 10h1v1h-1zM37 10h1v1h-1zM48 10h1v1h-1zM52 10h1v1h-1zM3 11h1v1h-1zM27 11h1v1h-1zM37 11h1v1h-1zM48 11h1v1h-1zM52 11h1v1h-1zM3 12h1v1h-1zM27 12h1v1h-1zM37 12h1v1h-1zM48 12h1v1h-1zM52 12h1v1h-1zM11 13h2v1h-2zM17 13h1v1h-1zM8 14h3v1h-3zM23 14h3v1h-3zM49 14h1v1h-1zM53 14h1v1h-1zM8 15h1v1h-1zM14 16h1v1h-1zM18 16h1v1h-1zM29 16h3v1h-3zM37 16h2v1h-2zM46 16h1v1h-1zM49 16h2v1h-2zM53 16h2v1h-2zM57 16h2v1h-2zM14 17h1v1h-1zM18 17h1v1h-1zM29 17h3v1h-3zM37 17h2v1h-2zM46 17h1v1h-1zM49 17h2v1h-2zM53 17h2v1h-2zM57 17h2v1h-2zM4 20h4v1h-4zM10 20h1v1h-1zM13 20h1v1h-1zM17 20h1v1h-1zM23 20h2v1h-2zM43 20h1v1h-1zM56 20h3v1h-3zM1 22h3v1h-3zM6 22h1v1h-1zM17 22h3v1h-3zM21 22h1v1h-1zM31 22h2v1h-2zM44 22h4v1h-4zM9 23h3v1h-3zM6 24h1v1h-1zM16 24h1v1h-1zM3 25h1v1h-1zM5 25h1v1h-1zM11 25h4v1h-4zM22 25h1v1h-1zM25 25h1v1h-1zM27 25h2v1h-2zM38 25h1v1h-1zM52 25h2v1h-2zM56 25h2v1h-2zM0 26h1v1h-1zM2 26h4v1h-4zM7 26h2v1h-2zM23 26h1v1h-1zM25 26h2v1h-2zM41 26h8v1h-8zM51 26h3v1h-3zM57 26h1v1h-1zM59 26h1v1h-1zM16 27h1v1h-1zM30 27h2v1h-2zM34 27h2v1h-2zM46 27h2v1h-2zM52 27h2v1h-2zM16 28h1v1h-1zM37 28h3v1h-3zM43 28h2v1h-2zM50 28h3v1h-3zM45 29h1v1h-1zM8 30h1v1h-1zM18 30h1v1h-1zM20 30h1v1h-1zM29 30h1v1h-1zM49 30h3v1h-3zM4 31h1v1h-1zM6 31h1v1h-1zM10 31h2v1h-2zM15 31h1v1h-1zM25 31h2v1h-2zM36 31h1v1h-1zM40 31h1v1h-1zM42 31h3v1h-3zM46 31h2v1h-2zM6 32h2v1h-2zM15 32h4v1h-4zM33 32h5v1h-5zM41 32h3v1h-3zM58 32h1v1h-1zM3 33h1v1h-1zM19 33h2v1h-2zM32 33h4v1h-4zM37 33h1v1h-1zM39 33h1v1h-1zM43 33h1v1h-1zM5 34h1v1h-1zM7 34h4v1h-4zM17 34h3v1h-3zM37 34h1v1h-1zM47 34h1v1h-1zM50 34h3v1h-3zM55 34h4v1h-4zM2 36h2v1h-2zM5 36h2v1h-2zM54 36h1v1h-1zM8 37h2v1h-2zM15 37h2v1h-2zM42 37h1v1h-1zM14 38h1v1h-1zM21 38h3v1h-3zM29 38h1v1h-1zM40 38h2v1h-2zM48 38h3v1h-3zM54 38h1v1h-1zM3 39h2v1h-2zM19 39h1v1h-1zM38 39h1v1h-1zM1 40h7v1h-7zM37 40h3v1h-3zM7 41h2v1h-2zM13 41h1v1h-1zM17 41h2v1h-2zM23 41h1v1h-1zM35 41h3v1h-3zM40 41h3v1h-3zM52 41h2v1h-2zM59 41h1v1h-1zM50 42h3v1h-3z"/><path fill="#a3c762" d="M17 0h1v1h-1zM21 0h2v1h-2zM24 0h1v1h-1zM19 1h1v1h-1zM22 1h2v1h-2zM32 1h1v1h-1zM18 2h1v1h-1zM36 2h1v1h-1zM23 3h1v1h-1zM31 3h1v1h-1zM33 3h1v1h-1zM35 3h1v1h-1zM24 4h2v1h-2zM28 4h1v1h-1zM33 4h1v1h-1zM26 5h1v1h-1zM23 6h1v1h-1zM32 15h1v1h-1zM24 23h1v1h-1zM34 25h1v1h-1z"/><path fill="#bad58a" d="M18 0h1v1h-1zM25 0h1v1h-1zM27 0h1v1h-1zM31 0h1v1h-1zM39 0h1v1h-1zM41 0h1v1h-1zM44 0h1v1h-1zM15 1h1v1h-1zM27 1h1v1h-1zM33 1h1v1h-1zM20 2h1v1h-1zM23 2h1v1h-1zM30 2h2v1h-2zM21 3h1v1h-1zM34 3h1v1h-1zM32 4h1v1h-1zM34 4h1v1h-1zM41 4h1v1h-1zM18 5h1v1h-1zM20 5h1v1h-1zM24 5h1v1h-1zM32 5h1v1h-1zM42 5h2v1h-2zM8 6h1v1h-1zM20 6h3v1h-3zM24 6h1v1h-1zM28 6h1v1h-1zM59 8h1v1h-1zM57 13h1v1h-1zM11 14h1v1h-1zM26 14h1v1h-1zM28 15h1v1h-1zM40 15h1v1h-1zM46 15h1v1h-1zM55 15h1v1h-1zM37 18h1v1h-1zM29 20h1v1h-1zM27 22h1v1h-1zM36 22h1v1h-1zM21 23h1v1h-1zM5 24h1v1h-1zM33 24h2v1h-2zM38 24h1v1h-1zM15 25h1v1h-1zM21 25h1v1h-1zM29 25h1v1h-1zM54 25h1v1h-1zM19 27h1v1h-1zM21 27h1v1h-1zM32 27h1v1h-1zM5 28h1v1h-1zM36 28h1v1h-1zM57 28h1v1h-1zM4 29h1v1h-1zM5 30h1v1h-1zM30 31h1v1h-1zM25 32h1v1h-1zM55 32h1v1h-1zM13 33h1v1h-1zM32 34h2v1h-2zM45 34h1v1h-1zM10 35h1v1h-1zM40 35h1v1h-1zM1 36h1v1h-1zM13 36h1v1h-1zM19 36h1v1h-1zM55 36h1v1h-1zM36 37h1v1h-1zM28 38h1v1h-1zM9 40h1v1h-1zM22 40h1v1h-1zM16 41h1v1h-1zM19 41h1v1h-1zM17 42h1v1h-1zM41 42h1v1h-1zM46 42h1v1h-1z"/><path fill="#d1e3b1" d="M19 0h2v1h-2zM23 0h1v1h-1zM30 0h1v1h-1zM29 1h2v1h-2zM35 1h2v1h-2zM59 1h1v1h-1zM17 2h1v1h-1zM21 2h2v1h-2zM24 2h2v1h-2zM27 2h1v1h-1zM32 2h1v1h-1zM17 3h1v1h-1zM19 3h1v1h-1zM29 3h1v1h-1zM36 3h1v1h-1zM20 4h1v1h-1zM46 4h1v1h-1zM19 5h1v1h-1zM21 5h2v1h-2zM27 5h3v1h-3zM31 5h1v1h-1zM33 5h2v1h-2zM40 5h1v1h-1zM18 6h1v1h-1zM26 6h1v1h-1zM34 6h1v1h-1zM1 7h1v1h-1zM11 7h1v1h-1zM32 7h1v1h-1zM20 8h1v1h-1zM37 8h1v1h-1zM15 9h1v1h-1zM29 9h2v1h-2zM39 9h1v1h-1zM43 9h1v1h-1zM54 9h1v1h-1zM57 9h1v1h-1zM15 10h1v1h-1zM29 10h2v1h-2zM39 10h1v1h-1zM43 10h1v1h-1zM54 10h1v1h-1zM57 10h1v1h-1zM15 11h1v1h-1zM29 11h2v1h-2zM39 11h1v1h-1zM43 11h1v1h-1zM54 11h1v1h-1zM57 11h1v1h-1zM15 12h1v1h-1zM29 12h2v1h-2zM39 12h1v1h-1zM43 12h1v1h-1zM54 12h1v1h-1zM57 12h1v1h-1zM6 13h1v1h-1zM20 13h1v1h-1zM23 13h1v1h-1zM31 13h1v1h-1zM47 13h1v1h-1zM14 14h1v1h-1zM14 15h1v1h-1zM26 15h1v1h-1zM33 15h1v1h-1zM26 16h1v1h-1zM28 16h1v1h-1zM43 16h1v1h-1zM52 16h1v1h-1zM26 17h1v1h-1zM28 17h1v1h-1zM43 17h1v1h-1zM52 17h1v1h-1zM26 18h1v1h-1zM44 18h1v1h-1zM49 19h1v1h-1zM8 20h1v1h-1zM12 21h1v1h-1zM58 21h1v1h-1zM33 22h1v1h-1zM35 22h1v1h-1zM37 22h1v1h-1zM39 22h1v1h-1zM7 23h1v1h-1zM26 23h2v1h-2zM36 23h1v1h-1zM43 23h1v1h-1zM2 24h1v1h-1zM22 24h1v1h-1zM20 25h1v1h-1zM47 25h1v1h-1zM22 26h1v1h-1zM54 26h1v1h-1zM56 26h1v1h-1zM45 28h1v1h-1zM18 29h1v1h-1zM34 29h1v1h-1zM46 29h1v1h-1zM13 30h1v1h-1zM58 30h1v1h-1zM38 32h1v1h-1zM11 33h1v1h-1zM25 33h1v1h-1zM51 33h1v1h-1zM26 37h1v1h-1zM30 37h1v1h-1zM41 37h1v1h-1zM49 37h1v1h-1zM6 38h2v1h-2zM5 39h1v1h-1zM22 39h1v1h-1zM23 40h1v1h-1zM25 40h1v1h-1zM27 40h1v1h-1zM26 41h1v1h-1zM45 42h1v1h-1zM59 42h1v1h-1z"/><path fill="#ffffff" d="M50 0h1v1h-1zM38 3h3v1h-3zM55 3h5v1h-5zM1 6h1v1h-1zM3 6h5v1h-5zM10 6h1v1h-1zM16 6h1v1h-1zM27 6h1v1h-1zM29 6h1v1h-1zM36 6h1v1h-1zM46 6h4v1h-4zM55 6h4v1h-4zM30 7h1v1h-1zM49 9h3v1h-3zM49 10h3v1h-3zM49 11h3v1h-3zM49 12h3v1h-3zM0 16h2v1h-2zM32 16h1v1h-1zM39 16h2v1h-2zM48 16h1v1h-1zM0 17h2v1h-2zM32 17h1v1h-1zM39 17h2v1h-2zM48 17h1v1h-1zM41 18h1v1h-1zM0 20h1v1h-1zM3 20h1v1h-1zM11 20h2v1h-2zM14 20h2v1h-2zM18 20h3v1h-3zM22 20h1v1h-1zM27 20h1v1h-1zM30 20h3v1h-3zM37 20h6v1h-6zM44 20h1v1h-1zM49 20h1v1h-1zM55 20h1v1h-1zM14 22h2v1h-2zM20 22h1v1h-1zM24 22h1v1h-1zM28 22h3v1h-3zM52 22h5v1h-5zM40 24h2v1h-2zM0 25h1v1h-1zM41 25h3v1h-3zM51 25h1v1h-1zM58 25h1v1h-1zM1 26h1v1h-1zM9 26h2v1h-2zM14 26h4v1h-4zM49 26h1v1h-1zM0 27h4v1h-4zM5 27h2v1h-2zM9 27h2v1h-2zM13 27h2v1h-2zM17 27h2v1h-2zM23 27h4v1h-4zM38 27h1v1h-1zM40 27h3v1h-3zM48 27h1v1h-1zM50 27h1v1h-1zM54 27h4v1h-4zM40 28h1v1h-1zM6 29h2v1h-2zM15 29h1v1h-1zM26 29h2v1h-2zM0 30h1v1h-1zM2 30h1v1h-1zM7 30h1v1h-1zM9 30h1v1h-1zM11 30h1v1h-1zM16 30h1v1h-1zM22 30h1v1h-1zM25 30h1v1h-1zM30 30h10v1h-10zM41 30h5v1h-5zM52 30h1v1h-1zM54 30h1v1h-1zM57 30h1v1h-1zM59 30h1v1h-1zM1 31h2v1h-2zM5 31h1v1h-1zM7 31h3v1h-3zM16 31h5v1h-5zM22 31h2v1h-2zM27 31h2v1h-2zM31 31h4v1h-4zM48 31h4v1h-4zM57 31h3v1h-3zM9 32h6v1h-6zM19 32h4v1h-4zM26 32h6v1h-6zM46 32h3v1h-3zM51 32h4v1h-4zM57 32h1v1h-1zM7 33h1v1h-1zM27 33h2v1h-2zM44 33h3v1h-3zM3 34h2v1h-2zM13 34h3v1h-3zM24 34h1v1h-1zM39 34h3v1h-3zM41 36h1v1h-1zM28 37h2v1h-2zM10 38h1v1h-1zM4 41h3v1h-3zM10 41h3v1h-3zM14 41h2v1h-2zM20 41h3v1h-3zM27 41h1v1h-1zM29 41h4v1h-4zM43 41h2v1h-2zM46 41h1v1h-1zM55 41h2v1h-2z"/><path fill="#dceac4" d="M3 1h1v1h-1zM12 1h1v1h-1zM1 2h1v1h-1zM15 2h1v1h-1zM54 3h1v1h-1zM45 4h1v1h-1zM9 6h1v1h-1zM2 8h1v1h-1zM55 8h1v1h-1zM2 9h1v1h-1zM18 9h1v1h-1zM20 9h1v1h-1zM38 9h1v1h-1zM2 10h1v1h-1zM18 10h1v1h-1zM20 10h1v1h-1zM38 10h1v1h-1zM2 11h1v1h-1zM18 11h1v1h-1zM20 11h1v1h-1zM38 11h1v1h-1zM2 12h1v1h-1zM18 12h1v1h-1zM20 12h1v1h-1zM38 12h1v1h-1zM38 13h2v1h-2zM42 13h1v1h-1zM50 13h1v1h-1zM30 14h1v1h-1zM10 15h1v1h-1zM51 16h1v1h-1zM51 17h1v1h-1zM36 19h1v1h-1zM16 20h1v1h-1zM28 20h1v1h-1zM59 20h1v1h-1zM22 21h1v1h-1zM24 21h1v1h-1zM25 22h1v1h-1zM16 23h1v1h-1zM41 23h1v1h-1zM4 24h1v1h-1zM25 24h1v1h-1zM35 24h2v1h-2zM2 25h1v1h-1zM37 25h1v1h-1zM13 26h1v1h-1zM24 26h1v1h-1zM12 27h1v1h-1zM15 27h1v1h-1zM30 28h1v1h-1zM8 29h2v1h-2zM35 29h1v1h-1zM12 30h1v1h-1zM17 30h1v1h-1zM19 30h1v1h-1zM21 30h1v1h-1zM53 30h1v1h-1zM0 31h1v1h-1zM13 31h1v1h-1zM29 31h1v1h-1zM45 31h1v1h-1zM8 32h1v1h-1zM45 32h1v1h-1zM4 33h1v1h-1zM22 34h1v1h-1zM26 35h1v1h-1zM44 35h1v1h-1zM7 36h1v1h-1zM25 36h1v1h-1zM50 36h1v1h-1zM3 37h1v1h-1zM7 37h1v1h-1zM38 37h1v1h-1zM46 37h1v1h-1zM15 38h1v1h-1zM9 39h1v1h-1zM54 39h1v1h-1zM54 41h1v1h-1zM5 42h1v1h-1z"/><path fill="#e4e4e4" d="M7 1h2v1h-2zM34 1h1v1h-1zM16 3h1v1h-1zM36 5h4v1h-4zM34 8h2v1h-2zM53 13h1v1h-1zM17 14h2v1h-2zM34 19h1v1h-1zM26 20h1v1h-1zM48 21h4v1h-4zM49 29h2v1h-2zM46 30h1v1h-1zM32 32h1v1h-1zM13 35h2v1h-2zM39 35h1v1h-1zM12 36h1v1h-1z"/><path fill="#d4d4d4" d="M14 1h1v1h-1zM51 4h1v1h-1zM10 8h2v1h-2zM32 9h1v1h-1zM32 10h1v1h-1zM32 11h1v1h-1zM32 12h1v1h-1zM16 21h1v1h-1zM8 25h2v1h-2zM17 25h2v1h-2zM42 29h3v1h-3zM55 38h1v1h-1zM16 39h2v1h-2zM46 39h1v1h-1z"/><path fill="#c5dc9d" d="M24 1h1v1h-1zM26 1h1v1h-1zM44 1h1v1h-1zM50 1h1v1h-1zM26 2h1v1h-1zM33 2h1v1h-1zM44 2h1v1h-1zM47 2h1v1h-1zM18 3h1v1h-1zM22 3h1v1h-1zM25 3h1v1h-1zM30 3h1v1h-1zM32 3h1v1h-1zM35 4h3v1h-3zM16 5h2v1h-2zM23 5h1v1h-1zM35 5h1v1h-1zM50 5h1v1h-1zM0 6h1v1h-1zM19 6h1v1h-1zM31 6h1v1h-1zM2 7h1v1h-1zM3 8h2v1h-2zM27 8h1v1h-1zM4 9h1v1h-1zM17 9h1v1h-1zM24 9h1v1h-1zM26 9h1v1h-1zM31 9h1v1h-1zM33 9h1v1h-1zM40 9h1v1h-1zM42 9h1v1h-1zM4 10h1v1h-1zM17 10h1v1h-1zM24 10h1v1h-1zM26 10h1v1h-1zM31 10h1v1h-1zM33 10h1v1h-1zM40 10h1v1h-1zM42 10h1v1h-1zM4 11h1v1h-1zM17 11h1v1h-1zM24 11h1v1h-1zM26 11h1v1h-1zM31 11h1v1h-1zM33 11h1v1h-1zM40 11h1v1h-1zM42 11h1v1h-1zM4 12h1v1h-1zM17 12h1v1h-1zM24 12h1v1h-1zM26 12h1v1h-1zM31 12h1v1h-1zM33 12h1v1h-1zM40 12h1v1h-1zM42 12h1v1h-1zM22 13h1v1h-1zM25 13h1v1h-1zM28 13h1v1h-1zM30 13h1v1h-1zM34 13h1v1h-1zM36 13h1v1h-1zM44 13h1v1h-1zM22 14h1v1h-1zM31 14h1v1h-1zM38 15h1v1h-1zM42 16h1v1h-1zM42 17h1v1h-1zM30 18h1v1h-1zM17 19h1v1h-1zM56 21h1v1h-1zM26 22h1v1h-1zM34 22h1v1h-1zM20 24h1v1h-1zM59 24h1v1h-1zM7 25h1v1h-1zM29 26h1v1h-1zM31 26h1v1h-1zM33 26h1v1h-1zM35 26h1v1h-1zM40 26h1v1h-1zM50 26h1v1h-1zM58 26h1v1h-1zM33 27h1v1h-1zM15 28h1v1h-1zM17 28h1v1h-1zM32 28h1v1h-1zM42 28h1v1h-1zM2 29h1v1h-1zM29 29h1v1h-1zM14 30h1v1h-1zM31 33h1v1h-1zM38 33h1v1h-1zM20 34h1v1h-1zM36 34h1v1h-1zM47 36h1v1h-1zM59 37h1v1h-1zM21 40h1v1h-1zM29 40h1v1h-1zM42 40h1v1h-1zM10 42h1v1h-1zM12 42h1v1h-1zM54 42h1v1h-1z"/><path fill="#e8e8e8" d="M48 1h2v1h-2zM16 4h2v1h-2zM25 5h1v1h-1zM53 5h2v1h-2zM1 8h1v1h-1zM7 8h2v1h-2zM17 8h3v1h-3zM41 8h1v1h-1zM50 8h3v1h-3zM5 9h3v1h-3zM5 10h3v1h-3zM5 11h3v1h-3zM5 12h3v1h-3zM13 13h1v1h-1zM26 13h2v1h-2zM29 15h2v1h-2zM42 15h1v1h-1zM50 18h1v1h-1zM6 19h4v1h-4zM58 19h2v1h-2zM56 23h1v1h-1zM6 35h2v1h-2zM30 35h1v1h-1zM47 35h3v1h-3zM54 35h1v1h-1zM43 38h2v1h-2zM47 39h1v1h-1zM40 42h1v1h-1zM47 42h3v1h-3z"/><path fill="#e8f1d8" d="M58 1h1v1h-1zM13 2h2v1h-2zM47 3h1v1h-1zM52 3h1v1h-1zM43 4h1v1h-1zM5 5h1v1h-1zM14 5h1v1h-1zM45 5h1v1h-1zM57 5h2v1h-2zM15 6h1v1h-1zM45 6h1v1h-1zM54 6h1v1h-1zM59 6h1v1h-1zM36 8h1v1h-1zM39 8h2v1h-2zM0 9h1v1h-1zM28 9h1v1h-1zM41 9h1v1h-1zM0 10h1v1h-1zM28 10h1v1h-1zM41 10h1v1h-1zM0 11h1v1h-1zM28 11h1v1h-1zM41 11h1v1h-1zM0 12h1v1h-1zM28 12h1v1h-1zM41 12h1v1h-1zM56 14h1v1h-1zM15 15h1v1h-1zM24 18h2v1h-2zM33 18h1v1h-1zM26 19h1v1h-1zM32 19h1v1h-1zM52 19h1v1h-1zM2 20h1v1h-1zM21 20h1v1h-1zM50 20h1v1h-1zM3 23h1v1h-1zM18 24h1v1h-1zM39 24h1v1h-1zM46 24h1v1h-1zM52 24h1v1h-1zM39 25h1v1h-1zM8 27h1v1h-1zM11 27h1v1h-1zM22 27h1v1h-1zM45 27h1v1h-1zM49 27h1v1h-1zM48 28h1v1h-1zM14 29h1v1h-1zM17 29h1v1h-1zM1 30h1v1h-1zM15 30h1v1h-1zM3 31h1v1h-1zM3 32h2v1h-2zM42 33h1v1h-1zM59 33h1v1h-1zM59 34h1v1h-1zM19 35h2v1h-2zM29 35h1v1h-1zM36 35h1v1h-1zM52 35h1v1h-1zM23 36h1v1h-1zM58 36h1v1h-1zM1 37h1v1h-1zM10 37h1v1h-1zM57 37h1v1h-1zM9 38h1v1h-1zM39 38h1v1h-1zM39 41h1v1h-1zM25 42h1v1h-1zM30 42h1v1h-1z"/><path fill="#d8d8d8" d="M4 2h2v1h-2zM8 4h5v1h-5zM52 4h4v1h-4zM31 8h3v1h-3zM44 8h5v1h-5zM33 14h2v1h-2zM7 16h2v1h-2zM10 16h4v1h-4zM7 17h2v1h-2zM10 17h4v1h-4zM35 23h1v1h-1zM1 25h1v1h-1zM53 34h1v1h-1zM42 36h4v1h-4zM24 41h2v1h-2zM1 42h1v1h-1zM14 42h3v1h-3z"/><path fill="#e0e0e0" d="M42 2h1v1h-1zM17 16h1v1h-1zM17 17h1v1h-1zM4 18h1v1h-1zM7 18h2v1h-2zM48 22h1v1h-1zM22 23h2v1h-2zM26 24h1v1h-1zM4 25h1v1h-1zM13 28h1v1h-1zM37 29h1v1h-1zM39 32h2v1h-2zM59 38h1v1h-1zM15 40h1v1h-1z"/><path fill="#dcdcdc" d="M6 3h2v1h-2zM16 8h1v1h-1zM45 19h1v1h-1zM29 33h1v1h-1zM11 38h2v1h-2zM28 41h1v1h-1z"/><path fill="#97c04f" d="M16 15h1v1h-1zM23 15h2v1h-2zM31 15h1v1h-1zM37 15h1v1h-1z"/></g><defs><linearGradient id="hcb2" x1="0" y1="0" x2="0" y2="1"><stop offset="0" stop-color="rgb(140,185,60)"/><stop offset="0.5" stop-color="#ffffff"/><stop offset="1" stop-color="#8c8c8c"/></linearGradient></defs><rect x="557.5" y="661.3" width="2.8" height="46.1" fill="url(#hcb2)"/><g transform="translate(582.30,454.20) scale(2.5000,6.0000)" shape-rendering="crispEdges"><rect width="60" height="43" fill="#f8f8f8"/><path fill="#afe8b4" d="M1 0h1v1h-1zM26 0h1v1h-1zM28 1h1v1h-1zM33 1h1v1h-1zM19 2h1v1h-1zM26 2h1v1h-1zM28 2h1v1h-1zM32 2h1v1h-1zM54 2h1v1h-1zM11 3h1v1h-1zM18 3h1v1h-1zM21 3h2v1h-2zM25 3h1v1h-1zM32 3h1v1h-1zM35 3h1v1h-1zM31 4h1v1h-1zM19 5h1v1h-1zM24 5h1v1h-1zM31 5h1v1h-1zM33 5h1v1h-1zM36 5h1v1h-1zM17 6h1v1h-1zM24 6h1v1h-1zM26 6h1v1h-1zM31 6h1v1h-1zM3 7h1v1h-1zM5 7h1v1h-1zM11 8h1v1h-1zM24 8h1v1h-1zM27 8h1v1h-1zM37 8h1v1h-1zM42 8h1v1h-1zM45 8h1v1h-1zM53 8h1v1h-1zM11 9h1v1h-1zM24 9h1v1h-1zM27 9h1v1h-1zM37 9h1v1h-1zM42 9h1v1h-1zM45 9h1v1h-1zM53 9h1v1h-1zM17 10h1v1h-1zM21 10h1v1h-1zM23 10h1v1h-1zM17 11h1v1h-1zM21 11h1v1h-1zM23 11h1v1h-1zM17 12h1v1h-1zM21 12h1v1h-1zM23 12h1v1h-1zM17 13h1v1h-1zM21 13h1v1h-1zM23 13h1v1h-1zM30 14h1v1h-1zM33 15h1v1h-1zM38 15h1v1h-1zM46 15h2v1h-2zM2 16h1v1h-1zM6 16h1v1h-1zM28 16h1v1h-1zM32 16h1v1h-1zM46 16h1v1h-1zM8 17h1v1h-1zM37 17h1v1h-1zM12 20h1v1h-1zM19 20h1v1h-1zM30 20h1v1h-1zM56 20h1v1h-1zM50 21h1v1h-1zM43 23h1v1h-1zM52 23h1v1h-1zM28 24h1v1h-1zM25 25h1v1h-1zM44 26h1v1h-1zM47 27h1v1h-1zM7 29h1v1h-1zM49 29h1v1h-1zM1 30h1v1h-1zM26 30h1v1h-1zM15 31h1v1h-1zM19 32h1v1h-1zM32 32h1v1h-1zM14 33h1v1h-1zM20 33h2v1h-2zM54 33h1v1h-1zM24 34h1v1h-1zM22 35h1v1h-1zM22 37h1v1h-1zM44 37h1v1h-1zM49 37h1v1h-1zM38 38h1v1h-1zM59 40h1v1h-1zM9 41h1v1h-1zM41 41h1v1h-1zM8 42h1v1h-1zM38 42h1v1h-1z"/><path fill="#ffffff" d="M2 0h1v1h-1zM5 0h2v1h-2zM9 0h1v1h-1zM25 0h1v1h-1zM31 0h1v1h-1zM39 0h3v1h-3zM49 0h2v1h-2zM52 0h2v1h-2zM0 4h1v1h-1zM3 4h3v1h-3zM7 4h1v1h-1zM9 4h1v1h-1zM11 4h4v1h-4zM23 4h1v1h-1zM29 4h2v1h-2zM32 4h1v1h-1zM37 4h3v1h-3zM42 4h2v1h-2zM51 4h1v1h-1zM55 4h1v1h-1zM57 4h3v1h-3zM18 6h2v1h-2zM36 6h1v1h-1zM27 7h1v1h-1zM50 7h3v1h-3zM54 7h1v1h-1zM5 8h2v1h-2zM9 8h2v1h-2zM12 8h1v1h-1zM14 8h2v1h-2zM21 8h1v1h-1zM23 8h1v1h-1zM31 8h2v1h-2zM35 8h2v1h-2zM41 8h1v1h-1zM46 8h1v1h-1zM48 8h1v1h-1zM51 8h1v1h-1zM54 8h2v1h-2zM57 8h2v1h-2zM5 9h2v1h-2zM9 9h2v1h-2zM12 9h1v1h-1zM14 9h2v1h-2zM21 9h1v1h-1zM23 9h1v1h-1zM31 9h2v1h-2zM35 9h2v1h-2zM41 9h1v1h-1zM46 9h1v1h-1zM48 9h1v1h-1zM51 9h1v1h-1zM54 9h2v1h-2zM57 9h2v1h-2zM41 10h4v1h-4zM41 11h4v1h-4zM41 12h4v1h-4zM41 13h4v1h-4zM1 16h1v1h-1zM3 16h1v1h-1zM10 16h3v1h-3zM16 16h2v1h-2zM19 16h4v1h-4zM34 16h1v1h-1zM37 16h2v1h-2zM47 16h4v1h-4zM56 16h2v1h-2zM59 16h1v1h-1zM1 18h5v1h-5zM8 18h5v1h-5zM16 18h1v1h-1zM25 18h1v1h-1zM35 18h1v1h-1zM43 18h1v1h-1zM48 18h1v1h-1zM58 18h2v1h-2zM40 20h1v1h-1zM1 22h1v1h-1zM12 22h1v1h-1zM14 22h1v1h-1zM16 22h5v1h-5zM30 22h1v1h-1zM42 22h1v1h-1zM55 22h1v1h-1zM6 23h1v1h-1zM17 23h1v1h-1zM20 23h3v1h-3zM32 23h1v1h-1zM6 24h2v1h-2zM9 24h1v1h-1zM13 24h11v1h-11zM26 24h1v1h-1zM33 24h3v1h-3zM37 24h1v1h-1zM41 24h2v1h-2zM47 24h2v1h-2zM52 24h1v1h-1zM56 24h2v1h-2zM10 25h1v1h-1zM14 25h3v1h-3zM0 26h3v1h-3zM8 26h1v1h-1zM43 26h1v1h-1zM57 27h3v1h-3zM0 28h1v1h-1zM3 28h3v1h-3zM7 28h2v1h-2zM16 28h1v1h-1zM18 28h5v1h-5zM46 28h2v1h-2zM52 28h2v1h-2zM2 31h4v1h-4zM35 31h2v1h-2zM42 31h1v1h-1zM48 31h1v1h-1zM2 32h5v1h-5zM13 32h1v1h-1zM18 32h1v1h-1zM24 32h2v1h-2zM27 32h1v1h-1zM37 32h1v1h-1zM42 32h7v1h-7zM59 32h1v1h-1zM3 33h1v1h-1zM7 33h3v1h-3zM16 33h4v1h-4zM23 33h1v1h-1zM31 33h1v1h-1zM45 33h2v1h-2zM51 33h1v1h-1zM34 34h2v1h-2zM44 34h1v1h-1zM51 34h4v1h-4zM52 36h5v1h-5zM0 37h2v1h-2zM3 37h3v1h-3zM25 37h5v1h-5zM42 37h2v1h-2zM47 37h1v1h-1zM1 38h3v1h-3zM13 38h3v1h-3zM18 38h2v1h-2zM22 38h4v1h-4zM28 38h2v1h-2zM37 38h1v1h-1zM39 38h3v1h-3zM45 38h2v1h-2zM49 38h1v1h-1zM2 39h1v1h-1zM11 39h1v1h-1zM17 39h1v1h-1zM19 39h1v1h-1zM21 39h3v1h-3zM43 39h1v1h-1zM50 39h2v1h-2zM44 41h1v1h-1zM0 42h4v1h-4zM6 42h1v1h-1zM11 42h4v1h-4zM16 42h1v1h-1zM19 42h1v1h-1zM21 42h8v1h-8zM30 42h3v1h-3zM35 42h1v1h-1zM37 42h1v1h-1zM39 42h1v1h-1zM44 42h2v1h-2zM47 42h2v1h-2zM50 42h3v1h-3zM59 42h1v1h-1z"/><path fill="#bfedc3" d="M3 0h1v1h-1zM14 0h1v1h-1zM18 0h1v1h-1zM20 0h1v1h-1zM22 0h3v1h-3zM33 0h1v1h-1zM5 1h1v1h-1zM17 1h1v1h-1zM21 1h1v1h-1zM25 1h1v1h-1zM29 1h1v1h-1zM32 1h1v1h-1zM55 1h1v1h-1zM18 2h1v1h-1zM29 2h2v1h-2zM8 3h1v1h-1zM19 3h1v1h-1zM29 3h1v1h-1zM52 3h1v1h-1zM17 4h1v1h-1zM21 4h1v1h-1zM25 4h1v1h-1zM27 4h1v1h-1zM33 4h1v1h-1zM40 4h1v1h-1zM47 4h1v1h-1zM18 5h1v1h-1zM23 5h1v1h-1zM28 5h1v1h-1zM44 5h1v1h-1zM48 5h1v1h-1zM12 6h1v1h-1zM23 6h1v1h-1zM29 6h1v1h-1zM33 6h1v1h-1zM35 6h1v1h-1zM30 7h1v1h-1zM55 7h1v1h-1zM19 8h1v1h-1zM39 8h1v1h-1zM19 9h1v1h-1zM39 9h1v1h-1zM4 10h1v1h-1zM14 10h1v1h-1zM30 10h1v1h-1zM48 10h1v1h-1zM4 11h1v1h-1zM14 11h1v1h-1zM30 11h1v1h-1zM48 11h1v1h-1zM4 12h1v1h-1zM14 12h1v1h-1zM30 12h1v1h-1zM48 12h1v1h-1zM4 13h1v1h-1zM14 13h1v1h-1zM30 13h1v1h-1zM48 13h1v1h-1zM16 14h1v1h-1zM28 14h1v1h-1zM40 14h1v1h-1zM5 15h2v1h-2zM41 16h1v1h-1zM53 16h1v1h-1zM55 17h1v1h-1zM17 18h1v1h-1zM50 18h1v1h-1zM40 19h1v1h-1zM49 19h1v1h-1zM18 20h1v1h-1zM55 20h1v1h-1zM39 21h1v1h-1zM2 22h1v1h-1zM22 22h1v1h-1zM24 22h1v1h-1zM54 22h1v1h-1zM8 23h1v1h-1zM11 23h1v1h-1zM12 25h1v1h-1zM9 26h1v1h-1zM47 26h1v1h-1zM54 26h1v1h-1zM59 26h1v1h-1zM16 27h1v1h-1zM42 27h1v1h-1zM2 28h1v1h-1zM24 28h1v1h-1zM30 28h1v1h-1zM40 28h1v1h-1zM33 30h1v1h-1zM43 33h1v1h-1zM50 33h1v1h-1zM18 34h1v1h-1zM3 35h1v1h-1zM42 35h1v1h-1zM15 36h1v1h-1zM21 37h1v1h-1zM54 37h1v1h-1zM51 38h1v1h-1zM18 39h1v1h-1zM0 40h1v1h-1zM43 41h1v1h-1zM48 41h1v1h-1zM17 42h1v1h-1z"/><path fill="#e0e0e0" d="M7 0h2v1h-2zM11 0h1v1h-1zM0 3h1v1h-1zM50 14h3v1h-3zM10 15h1v1h-1zM55 19h1v1h-1zM53 20h2v1h-2zM8 21h1v1h-1zM27 24h1v1h-1zM0 27h1v1h-1zM52 32h5v1h-5zM44 33h1v1h-1zM42 36h1v1h-1zM52 38h1v1h-1z"/><path fill="#ececec" d="M10 0h1v1h-1zM34 0h3v1h-3zM2 2h9v1h-9zM13 2h1v1h-1zM24 2h1v1h-1zM34 2h2v1h-2zM13 3h3v1h-3zM31 3h1v1h-1zM43 3h2v1h-2zM47 3h4v1h-4zM55 3h2v1h-2zM34 5h1v1h-1zM42 6h2v1h-2zM22 10h1v1h-1zM22 11h1v1h-1zM22 12h1v1h-1zM22 13h1v1h-1zM5 14h1v1h-1zM7 14h2v1h-2zM12 14h4v1h-4zM19 14h2v1h-2zM37 14h1v1h-1zM42 14h1v1h-1zM19 15h2v1h-2zM23 15h1v1h-1zM25 15h1v1h-1zM39 15h1v1h-1zM43 15h2v1h-2zM59 15h1v1h-1zM4 17h1v1h-1zM35 17h1v1h-1zM48 17h1v1h-1zM55 18h2v1h-2zM17 19h2v1h-2zM20 19h4v1h-4zM28 19h1v1h-1zM31 19h1v1h-1zM39 19h1v1h-1zM6 21h2v1h-2zM15 21h2v1h-2zM25 21h2v1h-2zM34 21h3v1h-3zM42 21h1v1h-1zM19 25h1v1h-1zM37 25h2v1h-2zM7 26h1v1h-1zM13 27h3v1h-3zM9 29h2v1h-2zM0 30h1v1h-1zM6 30h2v1h-2zM12 30h3v1h-3zM21 30h1v1h-1zM23 30h2v1h-2zM32 30h1v1h-1zM36 30h3v1h-3zM43 30h2v1h-2zM47 30h1v1h-1zM50 30h1v1h-1zM9 31h2v1h-2zM37 31h1v1h-1zM53 31h1v1h-1zM5 35h1v1h-1zM11 35h1v1h-1zM16 35h2v1h-2zM27 35h1v1h-1zM34 35h1v1h-1zM43 35h2v1h-2zM50 35h2v1h-2zM57 35h1v1h-1zM13 36h1v1h-1zM12 39h1v1h-1zM3 40h2v1h-2zM7 40h2v1h-2zM18 40h4v1h-4zM23 40h2v1h-2zM37 40h1v1h-1zM39 40h3v1h-3zM48 40h2v1h-2zM51 40h1v1h-1zM54 40h1v1h-1zM58 40h1v1h-1zM5 41h1v1h-1zM17 41h1v1h-1zM25 41h2v1h-2zM37 41h1v1h-1zM42 41h1v1h-1zM55 41h3v1h-3z"/><path fill="#f4f4f4" d="M12 0h1v1h-1zM19 0h1v1h-1zM21 0h1v1h-1zM37 0h1v1h-1zM43 0h3v1h-3zM54 0h1v1h-1zM0 1h1v1h-1zM7 1h2v1h-2zM13 1h1v1h-1zM24 1h1v1h-1zM30 1h1v1h-1zM35 1h2v1h-2zM44 1h1v1h-1zM1 2h1v1h-1zM11 2h2v1h-2zM16 2h1v1h-1zM20 2h1v1h-1zM31 2h1v1h-1zM41 2h2v1h-2zM45 2h5v1h-5zM52 2h2v1h-2zM3 3h4v1h-4zM59 3h1v1h-1zM0 5h1v1h-1zM10 5h1v1h-1zM37 5h1v1h-1zM39 5h2v1h-2zM45 5h3v1h-3zM49 5h3v1h-3zM57 5h3v1h-3zM0 6h3v1h-3zM14 6h2v1h-2zM20 6h1v1h-1zM28 6h1v1h-1zM46 6h1v1h-1zM50 6h2v1h-2zM53 6h1v1h-1zM56 6h1v1h-1zM2 7h1v1h-1zM6 7h1v1h-1zM18 7h4v1h-4zM25 7h1v1h-1zM39 7h2v1h-2zM42 7h1v1h-1zM47 8h1v1h-1zM47 9h1v1h-1zM0 10h1v1h-1zM11 10h3v1h-3zM16 10h1v1h-1zM37 10h1v1h-1zM39 10h1v1h-1zM49 10h1v1h-1zM0 11h1v1h-1zM11 11h3v1h-3zM16 11h1v1h-1zM37 11h1v1h-1zM39 11h1v1h-1zM49 11h1v1h-1zM0 12h1v1h-1zM11 12h3v1h-3zM16 12h1v1h-1zM37 12h1v1h-1zM39 12h1v1h-1zM49 12h1v1h-1zM0 13h1v1h-1zM11 13h3v1h-3zM16 13h1v1h-1zM37 13h1v1h-1zM39 13h1v1h-1zM49 13h1v1h-1zM2 14h3v1h-3zM18 14h1v1h-1zM21 14h1v1h-1zM39 14h1v1h-1zM45 14h1v1h-1zM53 14h1v1h-1zM0 15h1v1h-1zM8 15h1v1h-1zM11 15h1v1h-1zM14 15h1v1h-1zM35 15h1v1h-1zM41 15h2v1h-2zM48 15h2v1h-2zM53 15h1v1h-1zM13 16h2v1h-2zM43 16h1v1h-1zM1 17h1v1h-1zM6 17h2v1h-2zM9 17h1v1h-1zM11 17h6v1h-6zM25 17h1v1h-1zM28 17h1v1h-1zM31 17h3v1h-3zM36 17h1v1h-1zM43 17h3v1h-3zM50 17h2v1h-2zM57 17h1v1h-1zM7 18h1v1h-1zM28 18h1v1h-1zM33 18h2v1h-2zM1 19h2v1h-2zM4 19h3v1h-3zM12 19h1v1h-1zM25 19h2v1h-2zM37 19h1v1h-1zM56 19h1v1h-1zM59 19h1v1h-1zM0 20h9v1h-9zM20 20h1v1h-1zM31 20h3v1h-3zM35 20h1v1h-1zM37 20h1v1h-1zM42 20h1v1h-1zM51 20h1v1h-1zM0 21h2v1h-2zM4 21h2v1h-2zM10 21h1v1h-1zM49 21h1v1h-1zM54 21h2v1h-2zM58 21h1v1h-1zM6 22h6v1h-6zM21 22h1v1h-1zM46 22h1v1h-1zM58 22h2v1h-2zM0 23h1v1h-1zM10 23h1v1h-1zM26 23h2v1h-2zM30 23h1v1h-1zM46 23h1v1h-1zM49 23h1v1h-1zM56 23h3v1h-3zM11 25h1v1h-1zM30 25h6v1h-6zM39 25h1v1h-1zM48 25h1v1h-1zM58 25h2v1h-2zM4 26h3v1h-3zM13 26h1v1h-1zM23 26h1v1h-1zM33 26h2v1h-2zM37 26h3v1h-3zM48 26h1v1h-1zM11 27h2v1h-2zM22 27h1v1h-1zM27 27h6v1h-6zM37 27h1v1h-1zM43 27h1v1h-1zM46 27h1v1h-1zM55 27h1v1h-1zM14 28h2v1h-2zM55 28h1v1h-1zM8 29h1v1h-1zM11 29h1v1h-1zM36 29h2v1h-2zM53 29h2v1h-2zM16 30h1v1h-1zM28 30h1v1h-1zM40 30h3v1h-3zM48 30h2v1h-2zM0 31h1v1h-1zM6 31h3v1h-3zM25 31h1v1h-1zM31 31h1v1h-1zM38 31h1v1h-1zM50 31h1v1h-1zM1 33h1v1h-1zM4 33h1v1h-1zM30 34h2v1h-2zM38 34h3v1h-3zM46 34h1v1h-1zM57 34h3v1h-3zM2 35h1v1h-1zM18 35h1v1h-1zM36 35h3v1h-3zM52 35h1v1h-1zM3 36h3v1h-3zM7 36h1v1h-1zM9 36h2v1h-2zM16 36h2v1h-2zM20 36h1v1h-1zM24 36h1v1h-1zM28 36h2v1h-2zM43 36h1v1h-1zM39 37h2v1h-2zM51 37h3v1h-3zM0 38h1v1h-1zM21 38h1v1h-1zM47 38h2v1h-2zM56 38h1v1h-1zM0 39h2v1h-2zM16 40h1v1h-1zM29 40h1v1h-1zM34 40h1v1h-1zM43 40h1v1h-1zM46 40h1v1h-1zM52 40h2v1h-2zM55 40h1v1h-1zM11 41h1v1h-1zM36 41h1v1h-1zM45 41h3v1h-3zM54 41h1v1h-1zM20 42h1v1h-1z"/><path fill="#f0f0f0" d="M13 0h1v1h-1zM3 1h2v1h-2zM34 1h1v1h-1zM39 1h3v1h-3zM45 1h1v1h-1zM56 1h1v1h-1zM0 2h1v1h-1zM33 2h1v1h-1zM36 2h1v1h-1zM38 2h3v1h-3zM50 2h1v1h-1zM58 2h2v1h-2zM12 3h1v1h-1zM16 3h2v1h-2zM41 3h2v1h-2zM45 3h1v1h-1zM4 5h5v1h-5zM16 5h1v1h-1zM35 5h1v1h-1zM47 6h1v1h-1zM4 7h1v1h-1zM22 7h1v1h-1zM32 7h1v1h-1zM34 7h2v1h-2zM1 10h2v1h-2zM28 10h1v1h-1zM53 10h5v1h-5zM1 11h2v1h-2zM28 11h1v1h-1zM53 11h5v1h-5zM1 12h2v1h-2zM28 12h1v1h-1zM53 12h5v1h-5zM1 13h2v1h-2zM28 13h1v1h-1zM53 13h5v1h-5zM23 14h1v1h-1zM25 14h3v1h-3zM32 14h1v1h-1zM41 14h1v1h-1zM47 14h1v1h-1zM55 14h2v1h-2zM58 14h2v1h-2zM9 15h1v1h-1zM12 15h1v1h-1zM15 15h2v1h-2zM36 15h2v1h-2zM45 15h1v1h-1zM50 15h2v1h-2zM54 15h5v1h-5zM0 17h1v1h-1zM10 17h1v1h-1zM19 17h2v1h-2zM22 17h3v1h-3zM30 17h1v1h-1zM59 17h1v1h-1zM19 18h2v1h-2zM45 18h1v1h-1zM47 18h1v1h-1zM7 19h1v1h-1zM15 19h1v1h-1zM34 19h1v1h-1zM46 19h3v1h-3zM50 19h3v1h-3zM57 19h2v1h-2zM45 20h3v1h-3zM57 20h1v1h-1zM2 21h1v1h-1zM11 21h3v1h-3zM20 21h5v1h-5zM28 21h5v1h-5zM38 21h1v1h-1zM43 21h2v1h-2zM46 21h2v1h-2zM3 22h3v1h-3zM40 22h2v1h-2zM43 22h1v1h-1zM1 25h1v1h-1zM4 25h1v1h-1zM20 25h1v1h-1zM26 25h1v1h-1zM40 25h2v1h-2zM46 25h1v1h-1zM56 25h2v1h-2zM20 26h1v1h-1zM25 26h1v1h-1zM46 26h1v1h-1zM49 26h1v1h-1zM56 26h1v1h-1zM3 27h1v1h-1zM5 27h1v1h-1zM39 27h1v1h-1zM53 27h2v1h-2zM33 28h1v1h-1zM38 28h2v1h-2zM58 28h1v1h-1zM1 29h6v1h-6zM13 29h1v1h-1zM15 29h5v1h-5zM31 29h3v1h-3zM38 29h2v1h-2zM41 29h4v1h-4zM2 30h1v1h-1zM4 30h1v1h-1zM8 30h2v1h-2zM17 30h2v1h-2zM22 30h1v1h-1zM30 30h2v1h-2zM52 30h1v1h-1zM55 30h1v1h-1zM59 30h1v1h-1zM43 31h3v1h-3zM55 31h1v1h-1zM6 34h1v1h-1zM25 34h1v1h-1zM32 34h1v1h-1zM8 35h1v1h-1zM28 35h5v1h-5zM39 35h1v1h-1zM47 35h2v1h-2zM58 35h1v1h-1zM18 36h1v1h-1zM23 36h1v1h-1zM25 36h3v1h-3zM36 36h4v1h-4zM44 36h2v1h-2zM48 36h3v1h-3zM31 37h3v1h-3zM59 37h1v1h-1zM2 40h1v1h-1zM9 40h1v1h-1zM11 40h4v1h-4zM22 40h1v1h-1zM27 40h2v1h-2zM38 40h1v1h-1zM42 40h1v1h-1zM50 40h1v1h-1zM56 40h1v1h-1zM0 41h4v1h-4zM7 41h2v1h-2zM10 41h1v1h-1zM14 41h1v1h-1zM21 41h2v1h-2zM28 41h1v1h-1zM38 41h1v1h-1zM49 41h1v1h-1z"/><path fill="#e4e4e4" d="M15 0h2v1h-2zM1 3h2v1h-2zM9 3h2v1h-2zM34 4h1v1h-1zM10 14h1v1h-1zM24 19h1v1h-1zM32 19h2v1h-2zM3 24h2v1h-2zM52 25h4v1h-4zM44 27h1v1h-1zM50 27h2v1h-2zM25 30h1v1h-1zM46 30h1v1h-1zM56 30h1v1h-1zM7 32h1v1h-1zM13 35h1v1h-1zM45 35h1v1h-1zM53 35h2v1h-2zM34 36h1v1h-1zM29 39h1v1h-1zM5 40h2v1h-2zM25 40h1v1h-1zM27 41h1v1h-1z"/><path fill="#9fe4a5" d="M17 0h1v1h-1zM27 0h1v1h-1zM30 0h1v1h-1zM48 0h1v1h-1zM20 1h1v1h-1zM22 1h1v1h-1zM27 1h1v1h-1zM21 2h2v1h-2zM27 2h1v1h-1zM51 2h1v1h-1zM20 3h1v1h-1zM23 3h2v1h-2zM27 3h2v1h-2zM20 4h1v1h-1zM24 4h1v1h-1zM26 4h1v1h-1zM22 5h1v1h-1zM32 5h1v1h-1zM55 5h1v1h-1zM27 6h1v1h-1zM30 6h1v1h-1zM54 6h1v1h-1zM1 7h1v1h-1zM37 7h1v1h-1zM17 8h1v1h-1zM22 8h1v1h-1zM34 8h1v1h-1zM17 9h1v1h-1zM22 9h1v1h-1zM34 9h1v1h-1zM27 10h1v1h-1zM32 10h1v1h-1zM35 10h1v1h-1zM40 10h1v1h-1zM51 10h1v1h-1zM27 11h1v1h-1zM32 11h1v1h-1zM35 11h1v1h-1zM40 11h1v1h-1zM51 11h1v1h-1zM27 12h1v1h-1zM32 12h1v1h-1zM35 12h1v1h-1zM40 12h1v1h-1zM51 12h1v1h-1zM27 13h1v1h-1zM32 13h1v1h-1zM35 13h1v1h-1zM40 13h1v1h-1zM51 13h1v1h-1zM22 15h1v1h-1zM29 15h1v1h-1zM32 15h1v1h-1zM40 15h1v1h-1zM15 16h1v1h-1zM29 16h1v1h-1zM36 16h1v1h-1zM39 16h2v1h-2zM45 16h1v1h-1zM42 17h1v1h-1zM52 18h1v1h-1zM54 18h1v1h-1zM19 21h1v1h-1zM57 21h1v1h-1zM44 23h1v1h-1zM0 24h1v1h-1zM27 25h2v1h-2zM27 26h1v1h-1zM29 26h2v1h-2zM6 28h1v1h-1zM31 28h1v1h-1zM35 28h1v1h-1zM57 29h1v1h-1zM3 30h1v1h-1zM49 31h1v1h-1zM51 31h1v1h-1zM23 32h1v1h-1zM41 32h1v1h-1zM51 32h1v1h-1zM50 34h1v1h-1zM15 35h1v1h-1zM21 35h1v1h-1zM46 35h1v1h-1zM49 35h1v1h-1zM12 36h1v1h-1zM38 37h1v1h-1zM16 38h2v1h-2zM26 40h1v1h-1zM35 41h1v1h-1zM40 41h1v1h-1z"/><path fill="#fcfcfc" d="M28 0h2v1h-2zM58 0h1v1h-1zM14 1h2v1h-2zM18 1h2v1h-2zM42 1h2v1h-2zM46 1h2v1h-2zM57 1h3v1h-3zM15 2h1v1h-1zM35 4h2v1h-2zM44 4h3v1h-3zM52 4h3v1h-3zM53 5h2v1h-2zM6 6h6v1h-6zM34 6h1v1h-1zM38 6h1v1h-1zM7 7h1v1h-1zM43 7h1v1h-1zM49 7h1v1h-1zM59 7h1v1h-1zM0 8h3v1h-3zM7 8h2v1h-2zM18 8h1v1h-1zM28 8h3v1h-3zM38 8h1v1h-1zM43 8h2v1h-2zM49 8h2v1h-2zM0 9h3v1h-3zM7 9h2v1h-2zM18 9h1v1h-1zM28 9h3v1h-3zM38 9h1v1h-1zM43 9h2v1h-2zM49 9h2v1h-2zM5 10h3v1h-3zM50 10h1v1h-1zM5 11h3v1h-3zM50 11h1v1h-1zM5 12h3v1h-3zM50 12h1v1h-1zM5 13h3v1h-3zM50 13h1v1h-1zM1 15h3v1h-3zM0 16h1v1h-1zM7 16h3v1h-3zM23 16h2v1h-2zM35 16h1v1h-1zM52 16h1v1h-1zM54 16h1v1h-1zM58 16h1v1h-1zM0 18h1v1h-1zM13 18h2v1h-2zM21 18h2v1h-2zM26 18h1v1h-1zM32 18h1v1h-1zM53 18h1v1h-1zM44 19h2v1h-2zM10 20h2v1h-2zM13 20h4v1h-4zM21 20h2v1h-2zM28 20h2v1h-2zM34 20h1v1h-1zM51 21h1v1h-1zM0 22h1v1h-1zM26 22h4v1h-4zM32 22h1v1h-1zM34 22h6v1h-6zM44 22h1v1h-1zM56 22h2v1h-2zM12 23h5v1h-5zM18 23h2v1h-2zM24 23h1v1h-1zM33 23h2v1h-2zM36 23h3v1h-3zM42 23h1v1h-1zM45 23h1v1h-1zM47 23h1v1h-1zM1 24h2v1h-2zM10 24h1v1h-1zM29 24h4v1h-4zM36 24h1v1h-1zM39 24h2v1h-2zM45 24h1v1h-1zM53 24h3v1h-3zM58 24h1v1h-1zM11 26h2v1h-2zM18 26h1v1h-1zM26 26h1v1h-1zM28 26h1v1h-1zM35 26h2v1h-2zM40 26h2v1h-2zM57 26h1v1h-1zM1 27h1v1h-1zM33 27h2v1h-2zM40 27h1v1h-1zM48 27h2v1h-2zM36 28h2v1h-2zM41 28h2v1h-2zM59 28h1v1h-1zM14 29h1v1h-1zM47 29h2v1h-2zM58 29h2v1h-2zM23 31h1v1h-1zM27 31h1v1h-1zM32 31h1v1h-1zM52 31h1v1h-1zM56 31h3v1h-3zM1 32h1v1h-1zM14 32h3v1h-3zM20 32h1v1h-1zM28 32h4v1h-4zM33 32h4v1h-4zM38 32h3v1h-3zM57 32h1v1h-1zM5 33h1v1h-1zM10 33h2v1h-2zM22 33h1v1h-1zM36 33h3v1h-3zM57 33h1v1h-1zM59 33h1v1h-1zM3 34h2v1h-2zM7 34h1v1h-1zM17 34h1v1h-1zM41 34h2v1h-2zM11 36h1v1h-1zM19 36h1v1h-1zM22 36h1v1h-1zM47 36h1v1h-1zM13 37h2v1h-2zM17 37h1v1h-1zM57 37h1v1h-1zM4 38h5v1h-5zM26 38h2v1h-2zM30 38h1v1h-1zM36 38h1v1h-1zM43 38h2v1h-2zM53 38h2v1h-2zM13 39h3v1h-3zM24 39h3v1h-3zM44 39h2v1h-2zM5 42h1v1h-1zM9 42h2v1h-2zM18 42h1v1h-1zM33 42h2v1h-2zM41 42h1v1h-1zM46 42h1v1h-1zM49 42h1v1h-1zM54 42h5v1h-5z"/><path fill="#8fdf96" d="M32 0h1v1h-1zM31 1h1v1h-1zM17 2h1v1h-1zM23 2h1v1h-1zM25 2h1v1h-1zM44 2h1v1h-1zM26 3h1v1h-1zM33 3h1v1h-1zM19 4h1v1h-1zM22 4h1v1h-1zM17 5h1v1h-1zM38 5h1v1h-1zM21 6h2v1h-2zM32 6h1v1h-1zM0 7h1v1h-1zM33 14h1v1h-1zM36 14h1v1h-1zM43 14h1v1h-1zM46 14h1v1h-1zM24 15h1v1h-1zM27 15h1v1h-1zM34 15h1v1h-1zM42 16h1v1h-1zM33 21h1v1h-1zM23 22h1v1h-1zM38 24h1v1h-1zM49 25h1v1h-1zM10 26h1v1h-1zM19 26h1v1h-1zM21 26h2v1h-2zM32 26h1v1h-1zM52 26h1v1h-1zM10 27h1v1h-1zM27 28h1v1h-1zM21 29h1v1h-1zM12 31h1v1h-1zM40 31h1v1h-1zM17 32h1v1h-1zM13 33h1v1h-1zM5 34h1v1h-1zM2 37h1v1h-1zM50 38h1v1h-1zM6 39h1v1h-1zM20 39h1v1h-1zM55 39h1v1h-1z"/><path fill="#cff1d2" d="M38 0h1v1h-1zM57 0h1v1h-1zM16 1h1v1h-1zM57 3h1v1h-1zM15 4h1v1h-1zM48 6h2v1h-2zM58 6h1v1h-1zM38 7h1v1h-1zM20 8h1v1h-1zM33 8h1v1h-1zM40 8h1v1h-1zM20 9h1v1h-1zM33 9h1v1h-1zM40 9h1v1h-1zM38 10h1v1h-1zM52 10h1v1h-1zM38 11h1v1h-1zM52 11h1v1h-1zM38 12h1v1h-1zM52 12h1v1h-1zM38 13h1v1h-1zM52 13h1v1h-1zM13 15h1v1h-1zM52 15h1v1h-1zM4 16h1v1h-1zM27 17h1v1h-1zM29 17h1v1h-1zM38 17h1v1h-1zM41 17h1v1h-1zM58 17h1v1h-1zM24 18h1v1h-1zM27 18h1v1h-1zM44 18h1v1h-1zM57 18h1v1h-1zM3 19h1v1h-1zM54 19h1v1h-1zM9 21h1v1h-1zM37 21h1v1h-1zM52 21h1v1h-1zM5 24h1v1h-1zM8 24h1v1h-1zM47 25h1v1h-1zM3 26h1v1h-1zM14 26h1v1h-1zM42 26h1v1h-1zM51 26h1v1h-1zM38 27h1v1h-1zM45 27h1v1h-1zM13 28h1v1h-1zM17 28h1v1h-1zM45 28h1v1h-1zM29 29h2v1h-2zM40 29h1v1h-1zM51 30h1v1h-1zM53 30h1v1h-1zM19 31h1v1h-1zM46 31h1v1h-1zM0 32h1v1h-1zM22 32h1v1h-1zM52 33h2v1h-2zM11 34h1v1h-1zM26 34h1v1h-1zM1 35h1v1h-1zM9 35h1v1h-1zM33 35h1v1h-1zM59 35h1v1h-1zM6 36h1v1h-1zM58 36h1v1h-1zM11 37h1v1h-1zM9 38h1v1h-1zM33 38h1v1h-1zM57 38h1v1h-1zM49 39h1v1h-1zM33 40h1v1h-1zM36 40h1v1h-1zM44 40h1v1h-1zM6 41h1v1h-1zM36 42h1v1h-1z"/><path fill="#dff6e1" d="M42 0h1v1h-1zM46 0h1v1h-1zM39 3h2v1h-2zM46 3h1v1h-1zM51 3h1v1h-1zM6 4h1v1h-1zM16 4h1v1h-1zM56 4h1v1h-1zM52 6h1v1h-1zM55 6h1v1h-1zM44 7h1v1h-1zM15 10h1v1h-1zM18 10h1v1h-1zM26 10h1v1h-1zM29 10h1v1h-1zM36 10h1v1h-1zM59 10h1v1h-1zM15 11h1v1h-1zM18 11h1v1h-1zM26 11h1v1h-1zM29 11h1v1h-1zM36 11h1v1h-1zM59 11h1v1h-1zM15 12h1v1h-1zM18 12h1v1h-1zM26 12h1v1h-1zM29 12h1v1h-1zM36 12h1v1h-1zM59 12h1v1h-1zM15 13h1v1h-1zM18 13h1v1h-1zM26 13h1v1h-1zM29 13h1v1h-1zM36 13h1v1h-1zM59 13h1v1h-1zM49 14h1v1h-1zM57 14h1v1h-1zM34 17h1v1h-1zM47 17h1v1h-1zM52 17h1v1h-1zM56 17h1v1h-1zM41 18h1v1h-1zM16 19h1v1h-1zM36 19h1v1h-1zM42 19h1v1h-1zM9 20h1v1h-1zM14 21h1v1h-1zM31 22h1v1h-1zM47 22h1v1h-1zM1 23h1v1h-1zM31 23h1v1h-1zM53 23h1v1h-1zM55 23h1v1h-1zM2 27h1v1h-1zM4 27h1v1h-1zM23 28h1v1h-1zM57 28h1v1h-1zM34 29h1v1h-1zM55 29h1v1h-1zM15 30h1v1h-1zM19 30h1v1h-1zM27 30h1v1h-1zM39 30h1v1h-1zM1 31h1v1h-1zM26 31h1v1h-1zM41 31h1v1h-1zM21 32h1v1h-1zM2 33h1v1h-1zM6 33h1v1h-1zM10 34h1v1h-1zM33 34h1v1h-1zM37 34h1v1h-1zM43 34h1v1h-1zM45 34h1v1h-1zM56 34h1v1h-1zM10 35h1v1h-1zM35 35h1v1h-1zM56 35h1v1h-1zM35 36h1v1h-1zM57 36h1v1h-1zM59 36h1v1h-1zM35 38h1v1h-1zM57 39h1v1h-1zM59 39h1v1h-1zM4 41h1v1h-1zM7 42h1v1h-1z"/><path fill="#effaf0" d="M51 0h1v1h-1zM55 0h1v1h-1zM9 1h2v1h-2zM37 2h1v1h-1zM43 2h1v1h-1zM34 3h1v1h-1zM54 3h1v1h-1zM8 4h1v1h-1zM10 4h1v1h-1zM41 4h1v1h-1zM49 4h2v1h-2zM3 5h1v1h-1zM15 5h1v1h-1zM56 5h1v1h-1zM37 6h1v1h-1zM8 7h1v1h-1zM24 7h1v1h-1zM33 7h1v1h-1zM41 7h1v1h-1zM48 7h1v1h-1zM53 7h1v1h-1zM58 7h1v1h-1zM13 8h1v1h-1zM52 8h1v1h-1zM56 8h1v1h-1zM59 8h1v1h-1zM13 9h1v1h-1zM52 9h1v1h-1zM56 9h1v1h-1zM59 9h1v1h-1zM3 10h1v1h-1zM58 10h1v1h-1zM3 11h1v1h-1zM58 11h1v1h-1zM3 12h1v1h-1zM58 12h1v1h-1zM3 13h1v1h-1zM58 13h1v1h-1zM9 14h1v1h-1zM11 14h1v1h-1zM4 15h1v1h-1zM7 15h1v1h-1zM51 16h1v1h-1zM55 16h1v1h-1zM5 17h1v1h-1zM49 17h1v1h-1zM15 18h1v1h-1zM18 18h1v1h-1zM36 18h1v1h-1zM39 18h1v1h-1zM42 18h1v1h-1zM46 18h1v1h-1zM51 18h1v1h-1zM8 19h1v1h-1zM13 19h1v1h-1zM27 19h1v1h-1zM29 19h2v1h-2zM53 19h1v1h-1zM23 20h2v1h-2zM26 20h1v1h-1zM36 20h1v1h-1zM38 20h1v1h-1zM44 20h1v1h-1zM52 20h1v1h-1zM58 20h2v1h-2zM3 21h1v1h-1zM17 21h1v1h-1zM27 21h1v1h-1zM45 21h1v1h-1zM53 21h1v1h-1zM13 22h1v1h-1zM15 22h1v1h-1zM33 22h1v1h-1zM51 22h1v1h-1zM2 23h1v1h-1zM4 23h1v1h-1zM23 23h1v1h-1zM29 23h1v1h-1zM40 23h1v1h-1zM48 23h1v1h-1zM11 24h2v1h-2zM44 24h1v1h-1zM46 24h1v1h-1zM51 24h1v1h-1zM59 24h1v1h-1zM13 25h1v1h-1zM18 25h1v1h-1zM43 25h1v1h-1zM50 26h1v1h-1zM19 27h1v1h-1zM52 27h1v1h-1zM48 28h1v1h-1zM54 28h1v1h-1zM12 29h1v1h-1zM28 29h1v1h-1zM52 29h1v1h-1zM35 30h1v1h-1zM45 30h1v1h-1zM54 30h1v1h-1zM11 31h1v1h-1zM24 31h1v1h-1zM30 31h1v1h-1zM10 32h2v1h-2zM26 32h1v1h-1zM50 32h1v1h-1zM58 32h1v1h-1zM12 33h1v1h-1zM15 33h1v1h-1zM58 33h1v1h-1zM8 34h2v1h-2zM21 34h1v1h-1zM36 34h1v1h-1zM48 34h2v1h-2zM55 34h1v1h-1zM0 35h1v1h-1zM14 35h1v1h-1zM55 35h1v1h-1zM8 36h1v1h-1zM33 36h1v1h-1zM19 37h1v1h-1zM30 37h1v1h-1zM34 37h1v1h-1zM41 37h1v1h-1zM48 37h1v1h-1zM50 37h1v1h-1zM58 37h1v1h-1zM20 38h1v1h-1zM42 38h1v1h-1zM41 39h1v1h-1zM10 40h1v1h-1zM35 40h1v1h-1zM47 40h1v1h-1zM15 41h2v1h-2zM15 42h1v1h-1zM29 42h1v1h-1zM40 42h1v1h-1zM42 42h2v1h-2zM53 42h1v1h-1z"/><path fill="#d0d0d0" d="M59 0h1v1h-1zM37 1h1v1h-1zM9 7h1v1h-1zM25 8h2v1h-2zM25 9h2v1h-2zM24 29h4v1h-4zM11 30h1v1h-1zM52 39h1v1h-1z"/><path fill="#7edb87" d="M23 1h1v1h-1zM26 1h1v1h-1zM28 4h1v1h-1zM20 5h2v1h-2zM26 5h1v1h-1zM17 14h1v1h-1zM22 14h1v1h-1zM24 14h1v1h-1zM31 14h1v1h-1zM38 14h1v1h-1zM17 15h1v1h-1zM21 15h1v1h-1zM31 15h1v1h-1zM18 16h1v1h-1zM26 16h1v1h-1zM30 16h1v1h-1zM44 16h1v1h-1zM21 25h2v1h-2zM24 25h1v1h-1zM29 25h1v1h-1zM24 26h1v1h-1z"/><path fill="#e8e8e8" d="M7 3h1v1h-1zM30 3h1v1h-1zM53 3h1v1h-1zM58 3h1v1h-1zM39 6h1v1h-1zM0 14h2v1h-2zM44 14h1v1h-1zM54 14h1v1h-1zM30 15h1v1h-1zM46 17h1v1h-1zM0 19h1v1h-1zM14 19h1v1h-1zM35 19h1v1h-1zM38 19h1v1h-1zM40 21h2v1h-2zM56 21h1v1h-1zM20 30h1v1h-1zM29 30h1v1h-1zM34 30h1v1h-1zM57 30h2v1h-2zM4 35h1v1h-1zM6 35h2v1h-2zM12 35h1v1h-1zM23 35h1v1h-1zM40 35h2v1h-2zM1 40h1v1h-1zM15 40h1v1h-1zM30 40h3v1h-3zM45 40h1v1h-1zM12 41h2v1h-2zM18 41h3v1h-3zM23 41h2v1h-2zM29 41h6v1h-6zM39 41h1v1h-1zM50 41h4v1h-4zM58 41h2v1h-2z"/><path fill="#dcdcdc" d="M36 3h3v1h-3zM17 25h1v1h-1zM5 30h1v1h-1zM18 31h1v1h-1zM24 35h3v1h-3zM0 36h3v1h-3zM46 36h1v1h-1zM46 37h1v1h-1zM58 38h2v1h-2zM3 39h3v1h-3zM39 39h2v1h-2z"/><path fill="#d8d8d8" d="M6 14h1v1h-1zM23 18h1v1h-1zM49 18h1v1h-1zM50 20h1v1h-1zM28 23h1v1h-1zM41 23h1v1h-1zM35 29h1v1h-1zM51 36h1v1h-1zM9 37h2v1h-2zM23 37h2v1h-2zM56 37h1v1h-1zM34 38h1v1h-1zM35 39h1v1h-1zM56 39h1v1h-1zM17 40h1v1h-1z"/><path fill="#6fd678" d="M29 14h1v1h-1zM18 15h1v1h-1zM31 16h1v1h-1zM33 16h1v1h-1zM23 25h1v1h-1zM31 26h1v1h-1z"/><path fill="#d4d4d4" d="M19 19h1v1h-1zM18 21h1v1h-1zM0 25h1v1h-1zM50 25h2v1h-2zM50 29h2v1h-2zM10 30h1v1h-1zM12 32h1v1h-1zM19 35h2v1h-2zM21 36h1v1h-1zM10 38h3v1h-3zM37 39h2v1h-2zM57 40h1v1h-1z"/></g><defs><linearGradient id="hcb3" x1="0" y1="0" x2="0" y2="1"><stop offset="0" stop-color="rgb(95,210,105)"/><stop offset="0.5" stop-color="#ffffff"/><stop offset="1" stop-color="#8c8c8c"/></linearGradient></defs><rect x="746.0" y="655.2" width="2.8" height="46.8" fill="url(#hcb3)"/><text x="91.33" y="442.30" font-size="14.20" fill="#a6f07a" textLength="12.22" lengthAdjust="spacingAndGlyphs">B</text><text x="102.81" y="445.19" font-size="10.70" fill="#a6f07a" textLength="13.20" lengthAdjust="spacingAndGlyphs">23</text><text x="273.23" y="442.60" font-size="14.20" fill="#20c040" textLength="12.22" lengthAdjust="spacingAndGlyphs">B</text><text x="284.82" y="445.70" font-size="15.29" fill="#20c040" textLength="19.55" lengthAdjust="spacingAndGlyphs">24</text><text x="453.33" y="441.10" font-size="13.77" fill="#acd282" textLength="13.09" lengthAdjust="spacingAndGlyphs">B</text><text x="465.62" y="444.15" font-size="14.93" fill="#acd282" textLength="19.63" lengthAdjust="spacingAndGlyphs">25</text><text x="645.14" y="440.50" font-size="14.35" fill="#12c032" textLength="11.35" lengthAdjust="spacingAndGlyphs">B</text><text x="656.19" y="443.05" font-size="14.79" fill="#12c032" textLength="20.28" lengthAdjust="spacingAndGlyphs">26</text><text x="24.25" y="467.90" font-size="15.22" fill="#000">1</text><text x="13.68" y="714.77" font-size="16.00" fill="#000">43</text><text transform="translate(22.02,628.49) rotate(-90)" font-size="15.85" fill="#000">Units</text><line x1="36.1" y1="715.6" x2="189.7" y2="715.6" stroke="#000" stroke-width="2"/><line x1="216.9" y1="715.1" x2="370.8" y2="715.1" stroke="#000" stroke-width="2"/><line x1="398.4" y1="714.0" x2="552.8" y2="714.0" stroke="#000" stroke-width="2"/><line x1="581.1" y1="712.8" x2="735.8" y2="712.8" stroke="#000" stroke-width="2"/><text x="20.38" y="729.60" font-size="16.06" fill="#000">-0.2</text><text x="57.44" y="729.60" font-size="16.46" fill="#000">0</text><text x="101.78" y="729.60" font-size="15.53" fill="#000">0.4</text><text x="152.97" y="729.60" font-size="15.73" fill="#000">0.8</text><text x="201.78" y="729.60" font-size="16.06" fill="#000">-0.2</text><text x="238.84" y="729.60" font-size="16.46" fill="#000">0</text><text x="283.18" y="729.60" font-size="15.53" fill="#000">0.4</text><text x="334.37" y="729.60" font-size="15.73" fill="#000">0.8</text><text x="384.78" y="729.60" font-size="16.06" fill="#000">-0.2</text><text x="421.84" y="729.60" font-size="16.46" fill="#000">0</text><text x="466.18" y="729.60" font-size="15.53" fill="#000">0.4</text><text x="517.37" y="729.60" font-size="15.73" fill="#000">0.8</text><text x="565.08" y="729.60" font-size="16.06" fill="#000">-0.2</text><text x="602.14" y="729.60" font-size="16.46" fill="#000">0</text><text x="646.48" y="729.60" font-size="15.53" fill="#000">0.4</text><text x="697.67" y="729.60" font-size="15.73" fill="#000">0.8</text><rect x="62.0" y="738.4" width="51.2" height="5.7" fill="#767676"/><rect x="242.5" y="738.4" width="50.9" height="5.7" fill="#767676"/><rect x="425.6" y="738.4" width="50.7" height="5.7" fill="#767676"/><rect x="603.3" y="738.4" width="50.6" height="5.7" fill="#767676"/><text x="103.09" y="760.10" font-size="15.63" fill="#000">Time(s)</text><text x="283.69" y="759.60" font-size="15.47" fill="#000">Time(s)</text><text x="466.18" y="760.00" font-size="15.78" fill="#000">Time(s)</text><text x="644.99" y="759.60" font-size="15.35" fill="#000">Time(s)</text><text x="751.15" y="661.00" font-size="7.57" fill="#000">2</text><text x="750.50" y="681.41" font-size="8.73" fill="#000">0</text><text x="751.56" y="705.00" font-size="8.57" fill="#000">-2</text><text transform="translate(762.00,655.49) rotate(90)" font-size="12.82" fill="#000">z score</text>
<text x="816.19" y="425.40" font-size="21.30" fill="#000" textLength="14.59" lengthAdjust="spacingAndGlyphs">F</text><line x1="853.1" y1="465" x2="853.1" y2="713.5" stroke="#000" stroke-width="1.8"/><line x1="852.2" y1="712.7" x2="1320.6" y2="712.7" stroke="#000" stroke-width="1.8"/><line x1="850.0" y1="512.8" x2="853.1" y2="512.8" stroke="#000" stroke-width="1"/><text x="814.16" y="518.20" font-size="15.98" fill="#000">0.08</text><line x1="850.0" y1="561.6" x2="853.1" y2="561.6" stroke="#000" stroke-width="1"/><text x="814.16" y="567.00" font-size="16.06" fill="#000">0.07</text><line x1="850.0" y1="610.2" x2="853.1" y2="610.2" stroke="#000" stroke-width="1"/><text x="814.16" y="615.60" font-size="15.98" fill="#000">0.06</text><line x1="850.0" y1="658.8" x2="853.1" y2="658.8" stroke="#000" stroke-width="1"/><text x="814.16" y="664.20" font-size="15.98" fill="#000">0.05</text><line x1="850.0" y1="707.3" x2="853.1" y2="707.3" stroke="#000" stroke-width="1"/><text x="814.16" y="712.70" font-size="15.89" fill="#000">0.04</text><text transform="translate(801.63,654.43) rotate(-90)" font-size="17.14" fill="#000" textLength="125.14" lengthAdjust="spacingAndGlyphs">Dissimilar index</text><line x1="892.2" y1="653.7" x2="892.2" y2="670.8" stroke="#000" stroke-width="1.4"/><line x1="892.2" y1="690.6" x2="892.2" y2="692.8" stroke="#000" stroke-width="1.4"/><line x1="882.2" y1="653.7" x2="902.2" y2="653.7" stroke="#000" stroke-width="1.4"/><line x1="882.2" y1="692.8" x2="902.2" y2="692.8" stroke="#000" stroke-width="1.4"/><rect x="872.6" y="670.8" width="39.2" height="19.8" fill="#1fe01f" stroke="#000" stroke-width="1.4"/><line x1="873.4" y1="688.4" x2="911.0" y2="688.4" stroke="#f0f000" stroke-width="1.8"/><line x1="892.2" y1="712.7" x2="892.2" y2="715.6" stroke="#000" stroke-width="1"/><line x1="969.8" y1="632.9" x2="969.8" y2="644.9" stroke="#000" stroke-width="1.4"/><line x1="969.8" y1="665.6" x2="969.8" y2="673.9" stroke="#000" stroke-width="1.4"/><line x1="959.8" y1="632.9" x2="979.8" y2="632.9" stroke="#000" stroke-width="1.4"/><line x1="959.8" y1="673.9" x2="979.8" y2="673.9" stroke="#000" stroke-width="1.4"/><rect x="950.2" y="644.9" width="39.2" height="20.7" fill="#a8c46a" stroke="#000" stroke-width="1.4"/><line x1="951.0" y1="656.4" x2="988.6" y2="656.4" stroke="#f0f000" stroke-width="1.8"/><line x1="969.8" y1="712.7" x2="969.8" y2="715.6" stroke="#000" stroke-width="1"/><line x1="1047.6" y1="559.8" x2="1047.6" y2="596.2" stroke="#000" stroke-width="1.4"/><line x1="1047.6" y1="660.1" x2="1047.6" y2="688.6" stroke="#000" stroke-width="1.4"/><line x1="1037.6" y1="559.8" x2="1057.6" y2="559.8" stroke="#000" stroke-width="1.4"/><line x1="1037.6" y1="688.6" x2="1057.6" y2="688.6" stroke="#000" stroke-width="1.4"/><rect x="1028.0" y="596.2" width="39.2" height="63.9" fill="#a8e4a4" stroke="#000" stroke-width="1.4"/><line x1="1028.8" y1="631.8" x2="1066.4" y2="631.8" stroke="#f0e000" stroke-width="1.8"/><line x1="1047.6" y1="712.7" x2="1047.6" y2="715.6" stroke="#000" stroke-width="1"/><line x1="1125.4" y1="526.5" x2="1125.4" y2="580.8" stroke="#000" stroke-width="1.4"/><line x1="1125.4" y1="657.2" x2="1125.4" y2="679.6" stroke="#000" stroke-width="1.4"/><line x1="1115.4" y1="526.5" x2="1135.4" y2="526.5" stroke="#000" stroke-width="1.4"/><line x1="1115.4" y1="679.6" x2="1135.4" y2="679.6" stroke="#000" stroke-width="1.4"/><rect x="1105.8" y="580.8" width="39.2" height="76.4" fill="#9000d6" stroke="#000" stroke-width="1.4"/><line x1="1106.6" y1="634.9" x2="1144.2" y2="634.9" stroke="#f0b030" stroke-width="1.8"/><line x1="1125.4" y1="712.7" x2="1125.4" y2="715.6" stroke="#000" stroke-width="1"/><line x1="1203.1" y1="476.5" x2="1203.1" y2="556.6" stroke="#000" stroke-width="1.4"/><line x1="1203.1" y1="642.2" x2="1203.1" y2="647.0" stroke="#000" stroke-width="1.4"/><line x1="1193.1" y1="476.5" x2="1213.1" y2="476.5" stroke="#000" stroke-width="1.4"/><line x1="1193.1" y1="647.0" x2="1213.1" y2="647.0" stroke="#000" stroke-width="1.4"/><rect x="1183.5" y="556.6" width="39.2" height="85.6" fill="#9000d6" stroke="#000" stroke-width="1.4"/><line x1="1184.3" y1="636.5" x2="1221.9" y2="636.5" stroke="#f0b030" stroke-width="1.8"/><line x1="1203.1" y1="712.7" x2="1203.1" y2="715.6" stroke="#000" stroke-width="1"/><line x1="1280.9" y1="482.2" x2="1280.9" y2="551.6" stroke="#000" stroke-width="1.4"/><line x1="1280.9" y1="660.6" x2="1280.9" y2="701.4" stroke="#000" stroke-width="1.4"/><line x1="1270.9" y1="482.2" x2="1290.9" y2="482.2" stroke="#000" stroke-width="1.4"/><line x1="1270.9" y1="701.4" x2="1290.9" y2="701.4" stroke="#000" stroke-width="1.4"/><rect x="1261.3" y="551.6" width="39.2" height="109.0" fill="#9000d6" stroke="#000" stroke-width="1.4"/><line x1="1262.1" y1="621.0" x2="1299.7" y2="621.0" stroke="#f0b030" stroke-width="1.8"/><line x1="1280.9" y1="712.7" x2="1280.9" y2="715.6" stroke="#000" stroke-width="1"/><text transform="translate(882.60,724.56) rotate(90)" font-size="19.43" fill="#12c032" textLength="29.73" lengthAdjust="spacingAndGlyphs">B24</text><text transform="translate(961.99,724.56) rotate(90)" font-size="19.44" fill="#12c032" textLength="29.91" lengthAdjust="spacingAndGlyphs">B25</text><text transform="translate(1039.89,724.53) rotate(90)" font-size="19.44" fill="#12c032" textLength="30.44" lengthAdjust="spacingAndGlyphs">B26</text><text transform="translate(1117.70,727.90) rotate(90)" font-size="20.00" fill="#8a10d0" textLength="20.89" lengthAdjust="spacingAndGlyphs">O1</text><text transform="translate(1194.80,726.94) rotate(90)" font-size="19.58" fill="#8a10d0" textLength="22.59" lengthAdjust="spacingAndGlyphs">O2</text><text transform="translate(1272.89,726.94) rotate(90)" font-size="19.44" fill="#8a10d0" textLength="22.41" lengthAdjust="spacingAndGlyphs">O6</text><text x="939.20" y="792.14" font-size="15.78" fill="#12c032" textLength="82.85" lengthAdjust="spacingAndGlyphs">Behavioral</text><text x="966.71" y="811.74" font-size="15.92" fill="#12c032" textLength="44.47" lengthAdjust="spacingAndGlyphs">Blend</text><text x="1147.00" y="781.70" font-size="15.65" fill="#8a10d0">Single odorant</text>
</svg></body></html>
